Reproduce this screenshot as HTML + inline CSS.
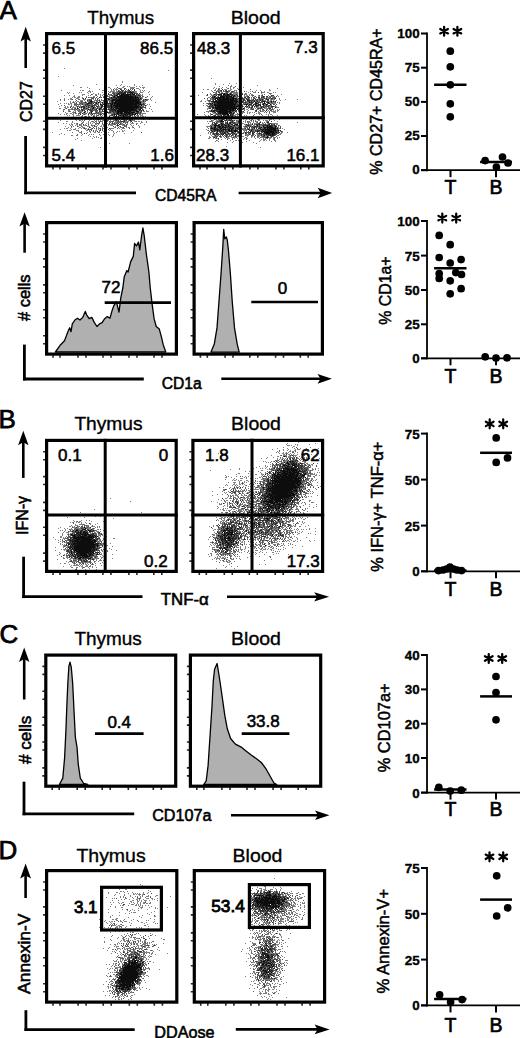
<!DOCTYPE html>
<html><head><meta charset="utf-8"><style>
html,body{margin:0;padding:0;background:#fff;}
svg{display:block;font-family:"Liberation Sans", sans-serif;}
</style></head><body>
<svg width="520" height="1038" viewBox="0 0 520 1038">
<defs><filter id="bl" x="-5%" y="-5%" width="110%" height="110%"><feGaussianBlur stdDeviation="0.45"/></filter></defs>
<rect width="520" height="1038" fill="#fff"/>
<text x="-0.4" y="18.6" font-size="26" stroke="#000" stroke-width="0.75">A</text>
<text x="-1.6" y="427.8" font-size="26" stroke="#000" stroke-width="0.75">B</text>
<text x="-0.4" y="643.3" font-size="26" stroke="#000" stroke-width="0.75">C</text>
<text x="-1.6" y="858.5" font-size="26" stroke="#000" stroke-width="0.75">D</text>
<text x="87.3" y="23.5" font-size="18.7" textLength="66.9" lengthAdjust="spacingAndGlyphs" stroke="#000" stroke-width="0.35">Thymus</text>
<text x="230.7" y="23.6" font-size="18.7" textLength="50" lengthAdjust="spacingAndGlyphs" stroke="#000" stroke-width="0.35">Blood</text>
<text x="74.4" y="430" font-size="18.7" textLength="68.2" lengthAdjust="spacingAndGlyphs" stroke="#000" stroke-width="0.35">Thymus</text>
<text x="231.1" y="430" font-size="18.7" textLength="49.8" lengthAdjust="spacingAndGlyphs" stroke="#000" stroke-width="0.35">Blood</text>
<text x="74.4" y="645" font-size="18.7" textLength="67.4" lengthAdjust="spacingAndGlyphs" stroke="#000" stroke-width="0.35">Thymus</text>
<text x="231.1" y="645" font-size="18.7" textLength="49.8" lengthAdjust="spacingAndGlyphs" stroke="#000" stroke-width="0.35">Blood</text>
<text x="76.4" y="862.3" font-size="18.7" textLength="69.3" lengthAdjust="spacingAndGlyphs" stroke="#000" stroke-width="0.35">Thymus</text>
<text x="232.6" y="862.3" font-size="18.7" textLength="49.8" lengthAdjust="spacingAndGlyphs" stroke="#000" stroke-width="0.35">Blood</text>
<path d="M64 68.5h1m103 2h1m-111 6h1m63 5h1m-1 1h1m-27 2h1m24 0h1m12 0h1m-62 1h1m42 0h1m3 0h1m13 0h1m7 0h1m-20 1h1h1m2 0h1m1 0h1m6 0h1m2 0h1m-60 1h1h1m5 0h1m20 0h1h1m12 0h1h1m6 0h1h1h1h1h1m5 0h1m1 0h1h1h1m-56 1h1m20 0h1m3 0h1m1 0h1m1 0h1m1 0h1h1m8 0h1h1h1m3 0h1h1h1m4 0h1m-45 1h1m11 0h1m3 0h1h1h1m8 0h1m12 0h1m-79 1h1m18 0h1m1 0h1h1m5 0h1m12 0h1h1m7 0h1m1 0h1h1m1 0h1m2 0h1m7 0h1m3 0h1m8 0h1m1 0h1m1 0h1m-57 1h1h1h1m1 0h1m15 0h1m1 0h1h1h1h1h1m1 0h1h1m3 0h1m1 0h1h1m2 0h1m3 0h1m2 0h1h1h1m3 0h1m2 0h1m5 0h1m-83 1h1m1 0h1m9 0h1m1 0h1m5 0h1m2 0h1m11 0h1m6 0h1h1m1 0h1m1 0h1h1h1m1 0h1m7 0h1m8 0h1h1m3 0h1h1h1m5 0h1m-81 1h1m4 0h1m14 0h1m4 0h1m4 0h1m16 0h1m12 0h1h1m3 0h1m-52 1h1h1h1m7 0h1m2 0h1h1m1 0h1m1 0h1m2 0h1m2 0h1m2 0h1h1m4 0h1m4 0h1m18 0h1h1m1 0h1m6 0h1m-86 1h1m4 0h1m4 0h1m7 0h1m5 0h1m1 0h1m4 0h1m4 0h1m1 0h1m2 0h1m3 0h1h1m2 0h1m26 0h1h1h1m-70 1h1h1m3 0h1h1m6 0h1m6 0h1h1m2 0h1m2 0h1m2 0h1m2 0h1m1 0h1h1m2 0h1m3 0h1m21 0h1m4 0h1m8 0h1m-81 1h1m1 0h1h1m1 0h1h1h1m2 0h1m6 0h1h1m1 0h1m1 0h1m5 0h1m5 0h1m34 0h1h1m3 0h1m4 0h1m-88 1h1m5 0h1h1m4 0h1h1h1m12 0h1m5 0h1h1m5 0h1m34 0h1m2 0h1m7 0h1m-91 1h1m3 0h1m3 0h1m1 0h1h1m3 0h1m2 0h1m5 0h1h1m1 0h1h1m4 0h1m1 0h1m3 0h1m1 0h1m3 0h1h1h1m2 0h1m33 0h1m3 0h1m1 0h1m-91 1h1m19 0h1h1h1m1 0h1m3 0h1m5 0h1h1m1 0h1h1m3 0h1m1 0h1m3 0h1h1m30 0h1m1 0h1m1 0h1h1m1 0h1m3 0h1m-95 1h1m12 0h1m2 0h1m1 0h1m1 0h1h1m1 0h1m4 0h1m1 0h1h1m4 0h1h1m1 0h1m6 0h1h1h1m4 0h1m3 0h1m27 0h1m1 0h1m-75 1h1m1 0h1m1 0h1m5 0h1m1 0h1h1m9 0h1m3 0h1m2 0h1h1m1 0h1m6 0h1m30 0h1h1h1h1m10 0h1m-96 1h1m3 0h1m1 0h1m1 0h1m1 0h1h1m2 0h1h1m3 0h1m3 0h1h1h1m6 0h1m4 0h1m5 0h1m37 0h1h1m1 0h1h1m-88 1h1m9 0h1h1m1 0h1m4 0h1m1 0h1m1 0h1h1m1 0h1h1m4 0h1h1m5 0h1m1 0h1m3 0h1m3 0h1m2 0h1m37 0h1m1 0h1m-89 1h1m9 0h1m2 0h1h1m2 0h1m1 0h1m2 0h1h1m1 0h1m9 0h1m3 0h1m3 0h1h1h1m33 0h1m1 0h1h1h1m1 0h1m-88 1h1m5 0h1m1 0h1m2 0h1m2 0h1m2 0h1m1 0h1h1h1m4 0h1m1 0h1m1 0h1h1m2 0h1m5 0h1h1m2 0h1m1 0h1m35 0h1m3 0h1m4 0h1m-87 1h1h1m1 0h1h1m3 0h1h1h1h1m4 0h1m1 0h1m2 0h1h1h1m2 0h1m7 0h1h1h1m1 0h1m2 0h1m-47 1h1h1m4 0h1m5 0h1h1m1 0h1m6 0h1m6 0h1m2 0h1m2 0h1h1m2 0h1m10 0h1m4 0h1m27 0h1m2 0h1m3 0h1m-87 1h1m5 0h1h1h1m1 0h1m1 0h1m1 0h1h1m5 0h1h1h1h1m5 0h1m4 0h1m5 0h1h1h1h1m29 0h1m5 0h1m7 0h1m-89 1h1m4 0h1h1m4 0h1h1m1 0h1h1m1 0h1h1m1 0h1m5 0h1m4 0h1m5 0h1m4 0h1m32 0h1m3 0h1m3 0h1m-79 1h1m1 0h1m2 0h1m1 0h1m3 0h1h1h1h1m1 0h1m2 0h1m9 0h1m2 0h1h1m5 0h1m31 0h1h1m2 0h1h1m1 0h1h1h1m3 0h1m-88 1h1m6 0h1h1m5 0h1m1 0h1m1 0h1m1 0h1m1 0h1m2 0h1m4 0h1m1 0h1m1 0h1m1 0h1m2 0h1m1 0h1m4 0h1h1m10 0h1m11 0h1m3 0h1m1 0h1m-84 1h1m7 0h1h1m2 0h1h1m1 0h1m2 0h1m6 0h1h1h1m2 0h1m1 0h1m1 0h1m3 0h1m2 0h1m1 0h1m1 0h1m1 0h1h1m1 0h1h1h1h1h1m2 0h1m18 0h1m6 0h1h1h1h1h1m-86 1h1m3 0h1m1 0h1m5 0h1h1m4 0h1m4 0h1m1 0h1m4 0h1h1m2 0h1m1 0h1m1 0h1h1m3 0h1m1 0h1h1m32 0h1m2 0h1m-76 1h1m1 0h1m3 0h1m2 0h1h1h1h1m8 0h1m4 0h1h1m1 0h1m5 0h1m1 0h1m4 0h1m3 0h1m14 0h1m7 0h1h1m2 0h1h1h1m-70 1h1m7 0h1h1m1 0h1m1 0h1m1 0h1h1m11 0h1m15 0h1m1 0h1m12 0h1m1 0h1m2 0h1h1m1 0h1m1 0h1h1m1 0h1m-78 1h1m4 0h1m6 0h1m3 0h1m1 0h1h1h1m1 0h1h1m2 0h1m3 0h1m2 0h1m7 0h1m3 0h1h1m1 0h1m1 0h1h1m6 0h1m10 0h1m1 0h1m3 0h1m-68 1h1m3 0h1m4 0h1m6 0h1m5 0h1m1 0h1m3 0h1m4 0h1m1 0h1m11 0h1m7 0h1m1 0h1m2 0h1m1 0h1m1 0h1m-66 1h1m5 0h1m3 0h1h1m1 0h1m1 0h1h1m3 0h1h1h1m1 0h1m8 0h1m1 0h1m5 0h1m6 0h1m1 0h1h1m4 0h1h1m1 0h1m8 0h1m5 0h1m-90 1h1m15 0h1m3 0h1m1 0h1m6 0h1m4 0h1m1 0h1m1 0h1m1 0h1m1 0h1h1m1 0h1m2 0h1m1 0h1m2 0h1h1m2 0h1m5 0h1m1 0h1m2 0h1m3 0h1h1h1m-69 1h1h1m4 0h1m8 0h1m1 0h1m4 0h1m2 0h1m1 0h1m2 0h1m1 0h1h1m1 0h1h1m7 0h1m4 0h1h1m2 0h1m5 0h1h1h1h1m1 0h1m3 0h1h1m2 0h1h1m1 0h1m4 0h1m-89 1h1m13 0h1m9 0h1h1m4 0h1m1 0h1m2 0h1h1m1 0h1m5 0h1m1 0h1m1 0h1m2 0h1m4 0h1h1h1m1 0h1m1 0h1h1m2 0h1h1h1m3 0h1m10 0h1h1m3 0h1m-84 1h1m2 0h1m4 0h1m2 0h1m1 0h1m5 0h1m3 0h1m1 0h1m1 0h1m1 0h1m3 0h1m2 0h1m4 0h1m2 0h1m3 0h1m1 0h1m1 0h1m1 0h1m3 0h1h1m4 0h1m3 0h1h1h1m2 0h1h1m2 0h1m-72 1h1m1 0h1h1m3 0h1h1m2 0h1h1m3 0h1m5 0h1m3 0h1h1m1 0h1m3 0h1h1m2 0h1m1 0h1m1 0h1h1h1h1m7 0h1h1m1 0h1m2 0h1m16 0h1m-75 1h1m1 0h1m2 0h1m1 0h1m1 0h1h1h1m1 0h1h1h1m2 0h1m3 0h1h1m3 0h1m3 0h1m1 0h1m2 0h1m1 0h1m1 0h1h1h1m3 0h1m5 0h1h1m1 0h1m5 0h1m1 0h1m4 0h1m-74 1h1m7 0h1m4 0h1m2 0h1h1m4 0h1h1h1m2 0h1m2 0h1m4 0h1h1m1 0h1h1h1m9 0h1m1 0h1m1 0h1m5 0h1m6 0h1m6 0h1m-72 1h1m2 0h1m7 0h1h1m1 0h1h1h1m5 0h1m5 0h1m1 0h1m3 0h1m1 0h1m1 0h1h1m6 0h1m5 0h1h1h1m3 0h1m1 0h1h1m2 0h1m6 0h1m-76 1h1m1 0h1h1m2 0h1m4 0h1m2 0h1m2 0h1m1 0h1m1 0h1h1m1 0h1m2 0h1m6 0h1h1m3 0h1m6 0h1h1h1h1m5 0h1m2 0h1h1h1m9 0h1m-75 1h1m10 0h1m1 0h1h1h1m9 0h1m1 0h1m1 0h1m6 0h1m1 0h1m5 0h1m5 0h1m10 0h1m-55 1h1m1 0h1h1m5 0h1h1h1m7 0h1h1m1 0h1m5 0h1h1m2 0h1m4 0h1h1m3 0h1m1 0h1h1m9 0h1m1 0h1m8 0h1m-56 1h1m10 0h1h1m4 0h1m3 0h1m3 0h1m9 0h1m3 0h1m1 0h1m2 0h1h1m-72 1h1m19 0h1m6 0h1h1h1m5 0h1m2 0h1m3 0h1h1m3 0h1m1 0h1m6 0h1m4 0h1m2 0h1m14 0h1m-71 1h1m19 0h1m22 0h1m9 0h1m9 0h1m-66 1h1m4 0h1m17 0h1m6 0h1m1 0h1m1 0h1m9 0h1m4 0h1m4 0h1m-43 1h1h1m3 0h1h1m3 0h1m6 0h1m11 0h1m8 0h1m3 0h1m-24 1h1m2 0h1m2 0h1m9 0h1m5 0h1m-19 1h1m1 0h1m1 0h1m2 0h1m-25 1h1m14 0h1m7 0h1h1m-27 1h1m5 1h1m27 3h1m19 0h1m-30 4h1" stroke="#000" stroke-opacity="0.5" stroke-width="1" fill="none" filter="url(#bl)"/>
<path d="M117 87.5h1m1 1h1m4 0h1h1m7 0h1m-21 1h1m7 0h1m2 0h1m3 0h1m1 0h1m1 0h1m-15 1h1m3 0h1h1m1 0h1m-7 1h1h1m7 0h1h1m2 0h1h1m-30 1h1m8 0h1m3 0h1m4 0h1h1m10 0h1m-27 1h1m3 0h1h1m2 0h1h1m17 0h1h1h1m1 0h1m-49 1h1m12 0h1h1m5 0h1m1 0h1h1m1 0h1m14 0h1m5 0h1h1m-43 1h1m10 0h1m3 0h1m17 0h1m2 0h1m3 0h1h1m-34 1h1m2 0h1m7 0h1m20 0h1m2 0h1m2 0h1m4 0h1m-62 1h1m1 0h1m2 0h1m1 0h1m2 0h1m4 0h1m1 0h1m5 0h1h1m1 0h1m26 0h1h1m4 0h1m-64 1h1h1m9 0h1m1 0h1m10 0h1m2 0h1h1m2 0h1h1m2 0h1m23 0h1m-70 1h1m6 0h1m3 0h1m5 0h1h1h1m19 0h1m28 0h1h1m1 0h1m2 0h1h1m-84 1h1m11 0h1m13 0h1m5 0h1m4 0h1m1 0h1m3 0h1m38 0h1m-66 1h1h1m6 0h1m7 0h1m1 0h1h1m12 0h1m26 0h1h1m3 0h1m-73 1h1m2 0h1m2 0h1m1 0h1m2 0h1m1 0h1m1 0h1m3 0h1m2 0h1m3 0h1m5 0h1m3 0h1m-34 1h1m3 0h1h1h1m3 0h1m8 0h1m2 0h1m1 0h1m1 0h1m1 0h1m-31 1h1h1m1 0h1m1 0h1m5 0h1m2 0h1m2 0h1h1m2 0h1m1 0h1m9 0h1h1m4 0h1m28 0h1m1 0h1m-81 1h1m11 0h1m10 0h1m2 0h1h1h1m1 0h1h1m11 0h1m1 0h1m2 0h1m26 0h1m-69 1h1m9 0h1m6 0h1m5 0h1m3 0h1m8 0h1m34 0h1h1m-67 1h1m13 0h1h1m1 0h1h1m1 0h1m9 0h1h1m1 0h1m28 0h1m2 0h1h1h1m-79 1h1m11 0h1m6 0h1m1 0h1m2 0h1m5 0h1m4 0h1m1 0h1m1 0h1m2 0h1m3 0h1m26 0h1m-76 1h1m3 0h1m3 0h1m1 0h1m1 0h1m2 0h1m2 0h1h1m5 0h1m1 0h1m2 0h1h1m4 0h1h1h1h1m13 0h1m-39 1h1m11 0h1h1h1m1 0h1h1m2 0h1m4 0h1m1 0h1m2 0h1m6 0h1m20 0h1m2 0h1m-78 1h1m5 0h1m8 0h1m11 0h1m4 0h1h1m5 0h1h1m5 0h1m1 0h1m2 0h1m17 0h1m2 0h1m-62 1h1h1m4 0h1m8 0h1m8 0h1m1 0h1m4 0h1m2 0h1m5 0h1h1m20 0h1m-62 1h1m2 0h1h1h1m5 0h1m2 0h1m3 0h1h1h1m1 0h1h1m1 0h1m1 0h1m10 0h1m19 0h1m4 0h1h1h1m-57 1h1m16 0h1m9 0h1m1 0h1m3 0h1m1 0h1h1m19 0h1m-59 1h1m8 0h1m5 0h1h1m1 0h1m4 0h1m4 0h1h1m6 0h1m5 0h1m6 0h1h1m5 0h1m-45 1h1m1 0h1m16 0h1m6 0h1h1h1m2 0h1m4 0h1m4 0h1m-55 1h1m1 0h1m20 0h1m6 0h1h1m8 0h1m1 0h1m1 0h1m2 0h1m4 0h1m-46 1h1m1 0h1m14 0h1m2 0h1m4 0h1h1m1 0h1m1 0h1m5 0h1m2 0h1m1 0h1m5 0h1m-43 1h1m4 0h1m6 0h1m11 0h1m1 0h1m1 0h1m5 0h1m-49 1h1m4 0h1m22 0h1m7 0h1m4 0h1m5 0h1m2 0h1m1 0h1m-40 1h1m2 0h1m4 0h1m6 0h1m1 0h1m1 0h1h1h1m3 0h1h1m1 0h1m2 0h1m12 0h1m-27 1h1m1 0h1m4 0h1m1 0h1m12 0h1m-56 1h1m3 0h1m13 0h1m1 0h1h1m3 0h1m11 0h1m1 0h1m8 0h1m-47 1h1m8 0h1m16 0h1m3 0h1m4 0h1h1m4 0h1m2 0h1m2 0h1m3 0h1m5 0h1m-51 1h1m4 0h1m32 0h1m1 0h1m-56 1h1m5 0h1m16 0h1m1 0h1m9 0h1m6 0h1m6 0h1m3 0h1m1 0h1m-34 1h1m11 0h1m9 0h1m2 0h1m14 0h1m-40 1h1m1 0h1m3 0h1m1 0h1m14 0h1m11 0h1m-40 1h1h1m8 0h1m1 0h1m5 0h1m-18 1h1m1 0h1m8 0h1m-22 1h1m11 0h1m4 1h1m42 0h1m-56 1h1m-10 1h1m21 0h1" stroke="#000" stroke-opacity="0.68" stroke-width="1" fill="none" filter="url(#bl)"/>
<path d="M120 89.5h1m13 0h1m-14 1h1m6 0h1h1m4 0h1m-17 1h1m6 0h1h1m-8 1h1h1m4 0h1m1 0h1h1m1 0h1m1 0h1h1m-20 1h1m4 0h1h1h1h1m1 0h1m2 0h1m2 0h1h1m2 0h1m-27 1h1m9 0h1h1m5 0h1m10 0h1m-31 1h1m5 0h1m1 0h1h1m1 0h1m1 0h1m11 0h1m1 0h1h1h1m2 0h1h1m-27 1h1m19 0h1h1m2 0h1m2 0h1m-42 1h1m13 0h1m1 0h1h1m2 0h1m18 0h1m-54 1h1m6 0h1m14 0h1h1m2 0h1h1m2 0h1m2 0h1m13 0h1m1 0h1m1 0h1h1m-41 1h1m6 0h1m4 0h1m2 0h1m3 0h1m22 0h1m-53 1h1m1 0h1m9 0h1m6 0h1m3 0h1h1m3 0h1m21 0h1m1 0h1m3 0h1m-54 1h1m1 0h1m13 0h1h1m1 0h1m1 0h1m27 0h1m3 0h1m-59 1h1m3 0h1h1h1m2 0h1m1 0h1m9 0h1h1m3 0h1m1 0h1m3 0h1m16 0h1m-48 1h1m1 0h1h1h1m1 0h1m12 0h1h1h1h1m1 0h1m1 0h1m25 0h1m3 0h1m-62 1h1m3 0h1h1m6 0h1m6 0h1m2 0h1m5 0h1m4 0h1m21 0h1h1m4 0h1m-59 1h1m2 0h1h1m3 0h1m4 0h1m2 0h1m6 0h1m1 0h1m22 0h1m3 0h1m7 0h1m-69 1h1m4 0h1h1h1m1 0h1m4 0h1m4 0h1h1m3 0h1h1m3 0h1m1 0h1h1h1m1 0h1h1h1m23 0h1m1 0h1m-71 1h1m8 0h1m3 0h1h1m3 0h1h1m16 0h1m2 0h1m2 0h1h1m1 0h1m2 0h1m22 0h1m3 0h1m-71 1h1m7 0h1h1m1 0h1m5 0h1m4 0h1m1 0h1m4 0h1m1 0h1m3 0h1m24 0h1m1 0h1h1m1 0h1m-60 1h1m8 0h1m1 0h1m3 0h1m11 0h1h1h1h1m1 0h1m1 0h1h1m19 0h1m1 0h1m3 0h1m-59 1h1m2 0h1m2 0h1m6 0h1m4 0h1m7 0h1h1h1h1h1m19 0h1m4 0h1m1 0h1m1 0h1m-59 1h1m5 0h1h1m6 0h1m5 0h1h1m3 0h1m1 0h1h1m1 0h1h1m11 0h1m2 0h1m1 0h1h1m6 0h1m-46 1h1m12 0h1h1m2 0h1m2 0h1m2 0h1m2 0h1m7 0h1m6 0h1h1m1 0h1m-59 1h1m8 0h1m22 0h1m1 0h1m2 0h1m3 0h1h1h1m1 0h1m3 0h1m5 0h1m-58 1h1m7 0h1m3 0h1m7 0h1m11 0h1m2 0h1h1m4 0h1h1h1m2 0h1m1 0h1h1h1h1m1 0h1m3 0h1m-32 1h1m5 0h1m1 0h1m4 0h1m1 0h1h1m3 0h1h1m1 0h1m4 0h1m-50 1h1m7 0h1m15 0h1m4 0h1h1h1m9 0h1h1h1h1m-31 1h1m22 0h1m1 0h1m2 0h1m1 0h1h1m3 0h1h1m-40 1h1m15 0h1m7 0h1h1h1m2 0h1h1m3 0h1m1 0h1m-18 1h1m6 0h1m1 0h1m4 0h1h1m-15 1h1m1 0h1m5 0h1m-4 1h1h1m1 0h1m6 0h1m-33 1h1m23 0h1m3 0h1m-19 1h1m2 0h1m5 0h1m1 0h1m-38 1h1m33 0h1m1 0h1m-26 1h1m22 0h1h1m-30 2h1m33 0h1m-40 1h1m7 0h1m12 0h1m3 0h1m-22 1h1m11 1h1m-4 1h1m-14 2h1" stroke="#000" stroke-opacity="0.82" stroke-width="1" fill="none" filter="url(#bl)"/>
<path d="M122 91.5h1m7 0h1m-10 1h1m2 0h1m4 0h1m1 0h1m-14 1h1m4 0h1m1 0h1m6 0h1m-16 1h1m3 0h1h1h1h1m1 0h1h1h1h1h1m1 0h1h1h1m-19 1h1m3 0h1h1h1h1h1h1h1h1h1m1 0h1m-17 1h1m2 0h1h1h1h1h1h1h1h1h1h1h1h1h1h1h1h1m2 0h1m-25 1h1m2 0h1m2 0h1h1m1 0h1h1h1h1h1h1h1h1h1h1h1h1h1h1h1h1h1h1m-22 1h1m2 0h1h1h1h1h1h1h1h1h1h1h1h1h1m1 0h1m1 0h1m2 0h1m1 0h1m-33 1h1m4 0h1h1h1m1 0h1h1h1h1h1h1h1h1h1h1h1h1h1h1h1h1h1h1h1h1h1h1m6 0h1m-55 1h1m20 0h1h1h1m1 0h1h1h1h1h1h1h1h1h1h1h1h1h1h1h1h1h1h1h1h1h1m1 0h1m-48 1h1m20 0h1m2 0h1h1h1h1h1h1h1h1h1h1h1h1h1h1h1h1h1h1h1h1h1h1h1h1m-41 1h1m3 0h1m9 0h1m1 0h1h1h1m1 0h1h1h1h1h1h1h1h1h1h1h1h1h1h1h1h1m1 0h1h1h1h1h1h1m-53 1h1m7 0h1m8 0h1m4 0h1m1 0h1m1 0h1h1h1h1h1h1h1h1h1h1h1h1h1h1h1h1h1h1h1h1h1h1h1h1h1m1 0h1m-41 1h1m2 0h1m1 0h1m5 0h1h1m1 0h1m1 0h1h1h1h1h1h1h1h1h1h1h1h1h1h1h1h1h1h1h1h1h1m2 0h1h1h1m-40 1h1m8 0h1m1 0h1h1h1h1h1h1h1h1h1h1h1h1h1h1h1h1h1h1h1h1m1 0h1h1h1m1 0h1m2 0h1m-50 1h1m18 0h1m3 0h1h1h1h1h1h1h1h1h1h1h1h1h1h1h1h1h1h1h1h1h1h1h1m1 0h1m-59 1h1m11 0h1m7 0h1m9 0h1m2 0h1m1 0h1h1m1 0h1h1h1h1h1h1h1h1h1h1h1h1h1h1h1h1h1h1h1h1m1 0h1m-64 1h1m15 0h1m6 0h1m10 0h1m1 0h1m1 0h1h1h1h1h1h1h1h1h1h1h1h1h1h1h1h1h1h1h1h1m1 0h1m4 0h1m-54 1h1m10 0h1m12 0h1m1 0h1m3 0h1h1h1h1h1h1h1h1h1h1h1h1h1h1h1h1h1h1m3 0h1h1m-59 1h1m32 0h1m1 0h1h1h1h1h1h1h1h1h1h1h1h1h1h1h1h1h1m1 0h1h1m-20 1h1h1h1h1h1h1h1h1h1h1h1m1 0h1h1m5 0h1h1h1m-55 1h1m6 0h1m15 0h1m9 0h1h1m1 0h1h1m2 0h1h1h1h1h1h1m1 0h1h1h1h1m-18 1h1h1m1 0h1h1h1m3 0h1m1 0h1h1h1m1 0h1m2 0h1h1m-23 1h1m3 0h1m5 0h1h1m1 0h1m4 0h1m1 0h1h1m-20 1h1m3 0h1m2 0h1m1 0h1m4 0h1m-13 1h1m4 0h1h1m5 4h1" stroke="#000" stroke-opacity="0.95" stroke-width="1" fill="none" filter="url(#bl)"/>
<path d="M211 78.5h1m3 5h1m13 0h1m6 0h1m-22 1h1m7 0h1m4 1h1m2 0h1m25 0h1m-39 1h1m10 0h1h1m-18 1h1m7 0h1m3 0h1m3 0h1m2 0h1h1m4 0h1h1m2 0h1m-31 1h1m2 0h1m1 0h1h1m1 0h1m5 0h1m2 0h1m2 0h1m3 0h1m39 0h1m-75 1h1m3 0h1h1m6 0h1m3 0h1m4 0h1h1h1m3 0h1h1m37 0h1m-59 1h1m2 0h1h1m1 0h1h1h1m8 0h1h1h1m3 0h1h1h1m3 0h1m15 0h1m3 0h1m8 0h1h1m-59 1h1m4 0h1m1 0h1h1m3 0h1m9 0h1m1 0h1m2 0h1h1m5 0h1m3 0h1m4 0h1m5 0h1m2 0h1m-63 1h1m11 0h1h1m5 0h1h1m2 0h1m2 0h1m1 0h1m2 0h1h1h1m1 0h1m2 0h1h1m6 0h1m4 0h1h1h1m6 0h1h1h1m2 0h1h1m4 0h1m1 0h1m-66 1h1m4 0h1m3 0h1h1m12 0h1h1h1h1h1m2 0h1m5 0h1m14 0h1m9 0h1m-62 1h1h1m1 0h1m19 0h1h1h1m1 0h1m2 0h1m4 0h1h1m2 0h1m1 0h1h1m9 0h1m7 0h1m10 0h1m-84 1h1m7 0h1m4 0h1h1m1 0h1h1m6 0h1m7 0h1m5 0h1m3 0h1m3 0h1m1 0h1h1m1 0h1m1 0h1m6 0h1m9 0h1m8 0h1m-61 1h1m14 0h1m3 0h1m1 0h1h1h1h1m2 0h1h1h1m5 0h1m1 0h1m3 0h1h1m1 0h1m8 0h1m1 0h1h1h1m3 0h1m-71 1h1h1m24 0h1h1m1 0h1m13 0h1m2 0h1m9 0h1m2 0h1h1h1m2 0h1m2 0h1m-65 1h1m25 0h1m2 0h1h1m2 0h1h1m1 0h1m1 0h1m1 0h1m1 0h1m1 0h1m2 0h1m1 0h1m1 0h1h1m1 0h1m1 0h1h1m1 0h1m2 0h1m5 0h1m-73 1h1m2 0h1h1m26 0h1h1m2 0h1m8 0h1h1m3 0h1m1 0h1m6 0h1m4 0h1m1 0h1h1m5 0h1m5 0h1m11 0h1m-97 1h1m5 0h1m4 0h1m25 0h1m3 0h1m12 0h1m2 0h1m2 0h1m1 0h1h1h1m4 0h1h1m1 0h1m6 0h1m-81 1h1h1m3 0h1m2 0h1m1 0h1m29 0h1m5 0h1m3 0h1m1 0h1m2 0h1m2 0h1m7 0h1m1 0h1h1m2 0h1m1 0h1m-66 1h1m1 0h1m28 0h1m6 0h1h1m8 0h1m3 0h1m7 0h1h1m1 0h1h1h1m2 0h1m1 0h1m-77 1h1m2 0h1m6 0h1m24 0h1h1h1m3 0h1m1 0h1m2 0h1h1m3 0h1m5 0h1m1 0h1m7 0h1h1m1 0h1h1h1m3 0h1m-71 1h1m32 0h1h1m4 0h1m8 0h1m6 0h1m6 0h1m-69 1h1m2 0h1h1m1 0h1m30 0h1m9 0h1m14 0h1m1 0h1m2 0h1m-64 1h1m6 0h1m25 0h1h1m1 0h1m4 0h1m2 0h1m3 0h1m2 0h1m5 0h1m4 0h1h1m3 0h1h1h1m-69 1h1m2 0h1m25 0h1m2 0h1h1h1m4 0h1h1m1 0h1m3 0h1m2 0h1h1h1h1m1 0h1m2 0h1h1m2 0h1h1m5 0h1h1h1m-72 1h1h1m5 0h1m26 0h1h1m5 0h1m1 0h1m1 0h1h1m1 0h1m6 0h1m1 0h1h1h1h1h1m5 0h1m-68 1h1m3 0h1m27 0h1m3 0h1h1m1 0h1h1m2 0h1m5 0h1h1h1m1 0h1m5 0h1m3 0h1m2 0h1m3 0h1m1 0h1m-71 1h1h1m37 0h1m10 0h1m2 0h1h1m4 0h1m4 0h1m1 0h1m1 0h1h1m-73 1h1h1h1h1m5 0h1m18 0h1m3 0h1h1h1h1h1m4 0h1m10 0h1m2 0h1h1h1m3 0h1m3 0h1h1h1h1h1m1 0h1m-74 1h1m3 0h1m3 0h1h1m18 0h1m3 0h1m3 0h1m1 0h1h1h1m2 0h1m1 0h1h1m1 0h1m1 0h1m3 0h1h1m4 0h1m8 0h1h1h1m-63 1h1h1h1m1 0h1m10 0h1m5 0h1m7 0h1m4 0h1m1 0h1m6 0h1m1 0h1h1h1m8 0h1m-73 1h1m6 0h1m5 0h1m4 0h1m19 0h1h1h1m1 0h1h1m13 0h1m4 0h1m6 0h1m1 0h1m1 0h1h1m-67 1h1m2 0h1m1 0h1m2 0h1m3 0h1m1 0h1m6 0h1m2 0h1m4 0h1h1m1 0h1m6 0h1m1 0h1m15 0h1m5 0h1m3 0h1m4 0h1m-72 1h1m1 0h1m4 0h1m1 0h1h1m3 0h1m3 0h1m4 0h1h1m4 0h1m1 0h1m14 0h1m7 0h1m7 0h1m1 0h1m-65 1h1m1 0h1m11 0h1h1m1 0h1m5 0h1m1 0h1m4 0h1m4 0h1m2 0h1m5 0h1m11 0h1m2 0h1m-52 1h1m9 0h1m1 0h1m2 0h1m4 0h1m14 0h1h1h1m3 0h1m6 0h1m1 0h1m7 0h1m-63 1h1m4 0h1h1m2 0h1h1m3 0h1m2 0h1h1m1 0h1m12 0h1m2 0h1m2 0h1m1 0h1h1m4 0h1m1 0h1m9 0h1h1h1m1 0h1m5 0h1m-68 1h1h1m2 0h1h1h1m8 0h1m5 0h1m3 0h1h1m6 0h1m4 0h1m4 0h1m2 0h1h1m3 0h1m1 0h1h1h1m6 0h1m-68 1h1m1 0h1m1 0h1h1m2 0h1h1m8 0h1m4 0h1m2 0h1m2 0h1h1m5 0h1m1 0h1m2 0h1h1m1 0h1m1 0h1m2 0h1h1m2 0h1m5 0h1m10 0h1m-65 1h1m3 0h1h1h1m3 0h1m11 0h1h1h1m1 0h1m5 0h1m1 0h1h1h1h1m2 0h1m2 0h1m2 0h1m2 0h1m3 0h1m30 0h1m-90 1h1m19 0h1m2 0h1h1m3 0h1m1 0h1m3 0h1h1m6 0h1m3 0h1h1h1h1m4 0h1h1m1 0h1m1 0h1m4 0h1h1h1h1h1h1m-67 1h1m18 0h1m10 0h1m2 0h1h1m1 0h1m1 0h1h1h1m3 0h1m6 0h1m3 0h1h1m4 0h1m3 0h1h1m-67 1h1m1 0h1m6 0h1m10 0h1m3 0h1m3 0h1h1m4 0h1h1m4 0h1m1 0h1h1m3 0h1m1 0h1h1m14 0h1m2 0h1m-74 1h1h1h1m1 0h1m1 0h1h1m2 0h1m7 0h1m11 0h1h1m1 0h1h1m2 0h1h1m2 0h1m1 0h1m1 0h1m1 0h1m6 0h1h1h1m2 0h1m7 0h1m4 0h1m-72 1h1m8 0h1m17 0h1m4 0h1m1 0h1m2 0h1h1h1m8 0h1m1 0h1h1m3 0h1m13 0h1m1 0h1m-61 1h1m5 0h1m1 0h1m7 0h1m7 0h1h1h1m3 0h1m2 0h1m1 0h1m7 0h1m16 0h1h1m2 0h1m-77 1h1m23 0h1m3 0h1m1 0h1m2 0h1m2 0h1h1m1 0h1h1m3 0h1m3 0h1h1h1m1 0h1h1m24 0h1m-78 1h1m2 0h1m13 0h1m15 0h1m2 0h1h1h1m6 0h1m1 0h1m24 0h1m-65 1h1h1m7 0h1m19 0h1m1 0h1m7 0h1m5 0h1m19 0h1m1 0h1m-75 1h1m3 0h1m6 0h1m1 0h1m4 0h1m1 0h1m5 0h1m5 0h1m2 0h1h1m18 0h1m17 0h1h1m4 0h1m-80 1h1m1 0h1m1 0h1m13 0h1h1m2 0h1m4 0h1h1h1h1m1 0h1m8 0h1h1m5 0h1h1m22 0h1h1m-72 1h1m1 0h1m2 0h1m2 0h1m1 0h1m13 0h1m6 0h1m3 0h1h1h1h1m1 0h1m3 0h1m3 0h1m1 0h1m18 0h1h1m-81 1h1m10 0h1m2 0h1m1 0h1h1m7 0h1m7 0h1m2 0h1h1m8 0h1h1h1m4 0h1m3 0h1m1 0h1h1m1 0h1m2 0h1m9 0h1m1 0h1h1m-70 1h1m2 0h1h1h1m6 0h1m5 0h1m1 0h1h1h1m1 0h1h1m1 0h1h1h1h1m2 0h1h1m3 0h1m3 0h1h1m5 0h1h1m1 0h1m3 0h1h1m1 0h1m1 0h1m2 0h1m-65 1h1h1m4 0h1m4 0h1h1m2 0h1m2 0h1h1m2 0h1m2 0h1h1m9 0h1h1m4 0h1m2 0h1m2 0h1h1m2 0h1h1h1m5 0h1h1m2 0h1h1h1m1 0h1m1 0h1m-72 1h1h1m3 0h1m1 0h1h1h1m7 0h1m1 0h1h1h1m2 0h1m1 0h1m2 0h1m6 0h1m1 0h1h1m7 0h1m3 0h1m5 0h1h1m2 0h1h1m2 0h1m3 0h1m-60 1h1m2 0h1m21 0h1m17 0h1m1 0h1h1h1m3 0h1m3 0h1m-57 1h1m12 0h1m4 0h1h1m1 0h1m10 0h1m10 0h1m2 0h1h1m1 0h1m2 0h1m4 0h1h1m-61 1h1m2 0h1m14 0h1m12 0h1m12 0h1m11 0h1m3 0h1m-49 1h1m4 0h1m9 0h1m10 0h1m2 1h1m-31 3h1m33 1h1" stroke="#000" stroke-opacity="0.5" stroke-width="1" fill="none" filter="url(#bl)"/>
<path d="M235 86.5h1m-8 2h1m-7 1h1m15 0h1m11 0h1m-31 1h1m2 0h1m1 0h1h1m-11 1h1m1 0h1m2 0h1m1 0h1m1 0h1m2 0h1h1m1 0h1h1h1m10 0h1m7 0h1m-40 1h1m2 0h1m1 0h1m7 0h1h1m3 0h1h1m3 0h1m21 0h1m2 0h1m-46 1h1m6 0h1m1 0h1m3 0h1m1 0h1m10 0h1m2 0h1m4 0h1m18 0h1h1m-56 1h1h1h1m26 0h1m19 0h1m-58 1h1m5 0h1m4 0h1h1m13 0h1m1 0h1m16 0h1h1m5 0h1m1 0h1h1m9 0h1m-63 1h1m2 0h1m4 0h1m16 0h1m1 0h1m9 0h1m7 0h1m6 0h1m1 0h1m1 0h1m2 0h1m1 0h1m4 0h1m-66 1h1m3 0h1m1 0h1m7 0h1m10 0h1m3 0h1m1 0h1m4 0h1h1m7 0h1m5 0h1m3 0h1m3 0h1m2 0h1h1m-71 1h1m2 0h1m2 0h1m1 0h1m1 0h1m28 0h1m4 0h1m12 0h1m7 0h1m4 0h1m-63 1h1h1h1m19 0h1m5 0h1h1m4 0h1m2 0h1m9 0h1m1 0h1m1 0h1m7 0h1m2 0h1m-67 1h1h1h1m6 0h1m19 0h1m3 0h1m2 0h1h1m5 0h1m1 0h1m3 0h1m1 0h1m7 0h1m8 0h1m-68 1h1m28 0h1m4 0h1m1 0h1m1 0h1m5 0h1m2 0h1m2 0h1m5 0h1m4 0h1m-59 1h1m24 0h1m1 0h1m3 0h1h1m1 0h1m6 0h1m5 0h1m2 0h1m3 0h1m8 0h1m-69 1h1h1m2 0h1m25 0h1m5 0h1m1 0h1m2 0h1m3 0h1m5 0h1m6 0h1m1 0h1m4 0h1m-65 1h1m3 0h1h1m22 0h1m1 0h1m1 0h1h1m14 0h1m8 0h1m7 0h1h1m1 0h1m-66 1h1m1 0h1m28 0h1m6 0h1m1 0h1h1m6 0h1m4 0h1m3 0h1m2 0h1m3 0h1m-68 1h1m1 0h1m2 0h1m32 0h1m2 0h1m7 0h1m2 0h1m1 0h1m2 0h1h1h1m-59 1h1h1m27 0h1m5 0h1m1 0h1m5 0h1m3 0h1m7 0h1m3 0h1m2 0h1h1m-36 1h1m1 0h1h1m3 0h1m12 0h1m1 0h1m1 0h1m10 0h1m-61 1h1m1 0h1h1m18 0h1m3 0h1m12 0h1h1m9 0h1m4 0h1m1 0h1m1 0h1h1m-61 1h1m5 0h1m9 0h1m6 0h1m2 0h1m1 0h1m3 0h1m10 0h1m4 0h1m3 0h1m5 0h1h1m-62 1h1m20 0h1m1 0h1m2 0h1m18 0h1h1m3 0h1m4 0h1m3 0h1m-56 1h1m2 0h1m15 0h1m32 0h1m2 0h1m-60 1h1m5 0h1m15 0h1m4 0h1m1 0h1m-24 1h1m1 0h1h1m1 0h1m11 0h1m4 0h1m22 0h1m-44 1h1m1 0h1m4 0h1m5 0h1m1 0h1m19 0h1m-45 1h1m7 0h1h1m2 0h1h1m3 0h1m1 0h1m11 0h1m-27 1h1m11 0h1h1m5 0h1m-24 1h1m11 0h1m2 0h1m6 0h1m5 0h1m2 0h1m-24 1h1m2 0h1m7 0h1m28 0h1m-48 1h1m7 0h1m4 0h1m3 0h1m2 0h1m4 0h1m14 0h1m1 0h1m15 0h1m-60 1h1m6 0h1h1h1m11 0h1m15 0h1m7 0h1m11 0h1h1m-57 1h1m7 0h1h1h1m2 0h1h1m2 0h1m1 0h1m1 0h1m4 0h1m18 0h1m6 0h1m-48 1h1m2 0h1m2 0h1m2 0h1m7 0h1h1m1 0h1m10 0h1m9 0h1m9 0h1h1m1 0h1m-60 1h1h1h1m1 0h1m3 0h1m4 0h1h1h1m1 0h1m4 0h1m13 0h1m5 0h1m3 0h1m1 0h1h1m1 0h1h1m8 0h1m-64 1h1m1 0h1m10 0h1m3 0h1m2 0h1m1 0h1m5 0h1m10 0h1h1m5 0h1m2 0h1m13 0h1m1 0h1m2 0h1m-70 1h1m11 0h1m10 0h1h1h1h1m2 0h1m6 0h1m2 0h1m7 0h1m1 0h1m5 0h1m9 0h1m5 0h1m-71 1h1m1 0h1h1m3 0h1m10 0h1m2 0h1m4 0h1h1m2 0h1m6 0h1m3 0h1h1m24 0h1m2 0h1m-73 1h1m13 0h1m4 0h1m10 0h1m1 0h1m6 0h1m1 0h1m2 0h1m9 0h1h1m2 0h1m13 0h1m-71 1h1h1h1m6 0h1m1 0h1m11 0h1m3 0h1h1m5 0h1m2 0h1m1 0h1m3 0h1m3 0h1m18 0h1h1h1m-71 1h1m3 0h1h1m4 0h1m1 0h1m5 0h1h1m13 0h1m4 0h1m3 0h1m2 0h1m2 0h1m3 0h1h1m-53 1h1m1 0h1m1 0h1m4 0h1m9 0h1m4 0h1m4 0h1m9 0h1m2 0h1m1 0h1m1 0h1h1m2 0h1m17 0h1m-68 1h1h1m1 0h1m3 0h1m5 0h1m7 0h1m3 0h1m1 0h1m8 0h1h1h1m4 0h1m3 0h1m1 0h1m1 0h1h1m14 0h1m-64 1h1h1m6 0h1m6 0h1m2 0h1h1m8 0h1h1m2 0h1m1 0h1m9 0h1m2 0h1m1 0h1m12 0h1h1h1m-66 1h1m11 0h1m1 0h1h1h1h1m2 0h1m19 0h1m3 0h1m1 0h1m2 0h1m1 0h1h1m10 0h1m-59 1h1m1 0h1m1 0h1m1 0h1m2 0h1m1 0h1m2 0h1m5 0h1m1 0h1m4 0h1m5 0h1h1m2 0h1m2 0h1m4 0h1m2 0h1h1m-53 1h1h1h1m1 0h1m3 0h1m1 0h1m2 0h1m25 0h1m2 0h1m4 0h1m1 0h1m7 0h1m3 0h1m-64 1h1m12 0h1m5 0h1h1m2 0h1m23 0h1m3 0h1h1m5 0h1m-9 1h1m3 0h1m6 0h1m-48 1h1m4 0h1m13 0h1m27 0h1m-59 1h1" stroke="#000" stroke-opacity="0.68" stroke-width="1" fill="none" filter="url(#bl)"/>
<path d="M218 89.5h1m7 2h1h1m-9 1h1m1 1h1h1m3 0h1h1m2 0h1m-24 1h1m12 0h1m4 0h1h1m2 0h1m1 0h1h1m3 0h1m5 0h1m-27 1h1m3 0h1m3 0h1m1 0h1m2 0h1m1 0h1h1m4 0h1m1 0h1m31 0h1m1 0h1m-62 1h1m2 0h1m9 0h1m2 0h1m5 0h1m13 0h1m14 0h1m3 0h1m-56 1h1h1m2 0h1m12 0h1h1m13 0h1h1m3 0h1m3 0h1m4 0h1h1m1 0h1m1 0h1m-51 1h1m4 0h1m2 0h1m7 0h1m1 0h1m4 0h1m1 0h1m3 0h1m3 0h1m7 0h1m4 0h1m4 0h1m1 0h1m4 0h1h1m2 0h1m-40 1h1m6 0h1h1m2 0h1h1m4 0h1m1 0h1m1 0h1m2 0h1m1 0h1m3 0h1h1h1m-56 1h1m1 0h1m2 0h1m10 0h1m5 0h1m3 0h1h1m2 0h1m4 0h1h1h1m1 0h1m1 0h1m1 0h1m3 0h1m1 0h1m5 0h1m-58 1h1h1m1 0h1m18 0h1m7 0h1h1m5 0h1h1m1 0h1m5 0h1m3 0h1h1m4 0h1m7 0h1m-63 1h1m1 0h1h1m17 0h1h1m2 0h1m3 0h1m2 0h1m4 0h1h1h1m3 0h1m1 0h1m1 0h1m6 0h1m3 0h1m-63 1h1m4 0h1h1h1m17 0h1m1 0h1m4 0h1m5 0h1m3 0h1m3 0h1m1 0h1m5 0h1m4 0h1h1m-60 1h1h1m4 0h1m20 0h1m6 0h1h1m1 0h1m2 0h1h1m1 0h1h1h1m2 0h1h1h1m1 0h1m4 0h1m-58 1h1m22 0h1m1 0h1h1h1m1 0h1m1 0h1m4 0h1m1 0h1m4 0h1m1 0h1m1 0h1h1m4 0h1m2 0h1m2 0h1m-61 1h1m1 0h1h1m3 0h1m18 0h1m6 0h1m2 0h1m1 0h1m6 0h1m1 0h1m4 0h1m1 0h1m4 0h1m2 0h1h1h1m-62 1h1m1 0h1m21 0h1m2 0h1m9 0h1m1 0h1m11 0h1m-55 1h1h1m1 0h1m38 0h1m6 0h1m1 0h1m8 0h1h1m-40 1h1m8 0h1m1 0h1m10 0h1m9 0h1m-51 1h1m1 0h1h1h1m16 0h1m1 0h1m19 0h1m9 0h1m-56 1h1h1m1 0h1m1 0h1m15 0h1m2 0h1m7 0h1m-29 1h1m2 0h1m9 0h1h1m4 0h1m-16 1h1m1 0h1m8 0h1h1m-21 1h1h1m4 0h1m2 0h1m1 0h1m3 0h1m3 0h1h1h1m-19 1h1h1m5 0h1m1 0h1h1m7 0h1m-21 1h1m1 0h1m4 0h1m7 0h1m3 0h1h1m-18 1h1m3 0h1m2 0h1m2 0h1m4 0h1m1 0h1m1 0h1m-22 1h1m3 0h1m3 0h1m1 0h1m3 0h1h1m1 0h1m5 0h1m-23 1h1m7 0h1h1m2 0h1m4 0h1m-12 1h1m1 0h1m2 0h1h1m2 0h1h1m1 0h1m1 0h1m-15 1h1m6 0h1m4 0h1m5 0h1m32 0h1m-58 1h1m1 0h1m15 0h1m1 0h1m25 0h1m6 0h1h1m-57 1h1m1 0h1h1h1m5 0h1m2 0h1m3 0h1m3 0h1m18 0h1m6 0h1m10 0h1m-53 1h1m2 0h1m1 0h1h1m6 0h1h1m3 0h1m9 0h1m5 0h1m3 0h1h1m7 0h1m2 0h1m2 0h1m2 0h1m-56 1h1m2 0h1m1 0h1m1 0h1m2 0h1m3 0h1m2 0h1h1m9 0h1h1m13 0h1h1h1h1h1m1 0h1h1h1h1h1m1 0h1m-61 1h1m2 0h1h1m6 0h1h1h1m1 0h1h1m15 0h1m3 0h1m1 0h1m1 0h1m2 0h1m1 0h1m6 0h1m1 0h1m3 0h1m3 0h1m-66 1h1m8 0h1h1m1 0h1m2 0h1h1m2 0h1m1 0h1m2 0h1m2 0h1m14 0h1h1m1 0h1m2 0h1h1m2 0h1m2 0h1m6 0h1h1m-65 1h1m2 0h1m1 0h1h1h1m1 0h1m3 0h1m4 0h1h1m1 0h1m1 0h1m1 0h1h1m2 0h1m1 0h1m3 0h1m10 0h1m1 0h1h1h1m4 0h1m2 0h1m7 0h1m-64 1h1m2 0h1m5 0h1m3 0h1h1m4 0h1m18 0h1h1m7 0h1m1 0h1m1 0h1m-54 1h1m2 0h1h1h1m5 0h1h1m1 0h1m4 0h1m1 0h1h1m3 0h1m11 0h1m5 0h1m1 0h1h1h1m3 0h1h1m1 0h1m5 0h1m3 0h1h1m2 0h1m-69 1h1m6 0h1h1h1h1h1m1 0h1h1h1m2 0h1m1 0h1m3 0h1h1m1 0h1m10 0h1m1 0h1m5 0h1m3 0h1m2 0h1m8 0h1m1 0h1m1 0h1m2 0h1m-66 1h1m3 0h1m1 0h1m2 0h1m7 0h1m4 0h1m6 0h1m3 0h1h1m1 0h1m1 0h1m19 0h1h1m2 0h1h1m-67 1h1m2 0h1h1h1m1 0h1h1m1 0h1h1h1m2 0h1m2 0h1m2 0h1m10 0h1m6 0h1h1m5 0h1h1m3 0h1m5 0h1h1m3 0h1m-62 1h1m1 0h1h1m1 0h1m1 0h1h1m3 0h1m5 0h1m2 0h1m13 0h1m2 0h1m8 0h1m1 0h1m3 0h1m1 0h1m1 0h1m2 0h1h1m-61 1h1m10 0h1m4 0h1m3 0h1m25 0h1m6 0h1h1m1 0h1m1 0h1h1m-55 1h1m5 0h1m8 0h1m27 0h1m7 0h1m-58 1h1m1 0h1m49 0h1m1 0h1m-51 1h1" stroke="#000" stroke-opacity="0.82" stroke-width="1" fill="none" filter="url(#bl)"/>
<path d="M221 90.5h1m2 3h1m-11 1h1m3 0h1h1m1 0h1m1 0h1h1m2 0h1h1m1 0h1m-10 1h1m1 0h1m1 0h1m1 0h1h1m5 0h1m-21 1h1m5 0h1h1h1h1h1m1 0h1h1m1 0h1h1h1m1 0h1m-20 1h1m3 0h1h1h1h1h1h1h1m1 0h1h1h1m2 0h1h1h1m-19 1h1h1h1m1 0h1h1m1 0h1h1h1h1h1h1h1m1 0h1m1 0h1h1h1h1m-21 1h1m1 0h1h1h1h1h1h1h1h1h1h1h1h1h1h1h1h1h1m1 0h1m1 0h1m-22 1h1m2 0h1h1h1h1h1h1h1h1h1h1m1 0h1h1h1h1h1m1 0h1m10 0h1m-35 1h1m1 0h1h1h1h1h1h1h1h1h1h1h1h1h1h1h1h1h1h1m1 0h1h1h1h1m16 0h1m8 0h1h1m6 0h1m1 0h1m-60 1h1m2 0h1h1h1h1h1h1h1h1h1h1h1h1h1h1h1h1h1m2 0h1m12 0h1m5 0h1m8 0h1m3 0h1m-59 1h1m1 0h1m4 0h1h1h1h1h1h1h1h1h1h1h1h1h1h1h1h1h1m1 0h1m20 0h1m7 0h1m-51 1h1h1m1 0h1h1h1h1h1h1h1h1h1h1h1h1h1h1h1h1h1h1h1m10 0h1m2 0h1m13 0h1m2 0h1m3 0h1m-59 1h1m1 0h1h1h1h1h1h1h1h1h1h1h1h1h1h1h1h1h1h1h1m1 0h1m3 0h1m17 0h1m3 0h1m-46 1h1m1 0h1h1h1h1h1h1h1h1h1h1h1h1h1h1h1h1h1h1m1 0h1h1h1h1m12 0h1m-40 1h1m1 0h1h1h1h1h1h1h1h1h1h1h1h1h1h1h1h1h1h1h1h1h1m25 0h1m13 0h1m-63 1h1m1 0h1h1h1h1h1h1h1h1h1h1h1h1h1h1h1h1h1h1h1h1h1h1m1 0h1m4 0h1m-28 1h1h1h1h1h1h1h1h1h1h1h1h1h1h1h1m1 0h1h1m1 0h1m1 0h1m-27 1h1m2 0h1m4 0h1h1h1h1h1h1h1h1h1m1 0h1h1h1h1h1m-21 1h1m3 0h1h1h1h1h1h1h1h1h1h1h1h1h1h1m-12 1h1h1h1h1h1h1h1h1h1m2 0h1h1m-14 1h1m1 0h1m1 0h1h1h1h1h1h1m1 0h1m3 0h1m-11 1h1h1h1m1 0h1h1m-2 1h1h1m1 0h1m-8 1h1m1 0h1m-5 4h1m-1 1h1h1h1m3 1h1m2 0h1m-10 1h1m5 0h1m2 0h1m-16 1h1m3 0h1m2 0h1m5 0h1m6 0h1m1 0h1m21 0h1m9 0h1m-56 1h1h1h1h1h1m2 0h1m3 0h1m2 0h1m5 0h1m22 0h1m9 0h1m-57 1h1m3 0h1m3 0h1h1m1 0h1h1m4 0h1m2 0h1m23 0h1m7 0h1m3 0h1m1 0h1h1h1m3 0h1m-62 1h1h1m2 0h1h1m2 0h1m1 0h1h1m3 0h1m3 0h1m15 0h1m11 0h1m2 0h1h1m1 0h1h1h1h1h1h1m2 0h1m-65 1h1h1m1 0h1m5 0h1h1m3 0h1m4 0h1m1 0h1m4 0h1m16 0h1m9 0h1m2 0h1m1 0h1h1h1h1h1h1h1m1 0h1m-64 1h1h1m1 0h1h1m1 0h1m2 0h1h1h1m2 0h1h1m1 0h1m3 0h1m12 0h1m12 0h1m1 0h1m1 0h1h1h1h1h1h1h1h1h1h1h1m-59 1h1m1 0h1m1 0h1m6 0h1h1m1 0h1m2 0h1h1h1m14 0h1m10 0h1m2 0h1m1 0h1h1h1h1h1m1 0h1h1h1m2 0h1m-65 1h1m2 0h1m11 0h1m1 0h1m2 0h1h1m21 0h1m3 0h1m1 0h1h1m1 0h1h1h1h1h1h1h1h1m1 0h1m-52 1h1m2 0h1m4 0h1m31 0h1h1h1h1h1h1h1h1h1h1m2 0h1m-12 1h1h1h1h1h1m2 0h1h1h1m-52 1h1m12 0h1m29 0h1m1 0h1m1 0h1m1 0h1h1m-10 1h1m5 0h1m1 0h1m-6 1h1m-1 1h1" stroke="#000" stroke-opacity="0.95" stroke-width="1" fill="none" filter="url(#bl)"/>
<rect x="46.60" y="33.60" width="129.80" height="132.30" fill="none" stroke="#000" stroke-width="3.2"/>
<rect x="193.60" y="33.60" width="129.60" height="132.30" fill="none" stroke="#000" stroke-width="3.2"/>
<path d="M53.0 167.0v2.6M60.0 167.0v2.6M78.0 167.0v2.6M86.0 167.0v2.6M103.0 167.0v2.6M111.0 167.0v2.6M129.0 167.0v2.6M137.0 167.0v2.6M154.0 167.0v2.6M162.0 167.0v2.6M45.5 155.5h-2.4M45.5 147.4h-2.4M45.5 129.4h-2.4M45.5 121.3h-2.4M45.5 104.3h-2.4M45.5 96.2h-2.4M45.5 78.2h-2.4M45.5 70.1h-2.4M45.5 53.1h-2.4M45.5 45.0h-2.4" stroke="#000" stroke-width="1.6" stroke-opacity="0.85"/>
<path d="M200.0 167.0v2.6M207.0 167.0v2.6M225.0 167.0v2.6M232.9 167.0v2.6M249.9 167.0v2.6M257.9 167.0v2.6M275.9 167.0v2.6M283.9 167.0v2.6M300.8 167.0v2.6M308.8 167.0v2.6M192.5 155.5h-2.4M192.5 147.4h-2.4M192.5 129.4h-2.4M192.5 121.3h-2.4M192.5 104.3h-2.4M192.5 96.2h-2.4M192.5 78.2h-2.4M192.5 70.1h-2.4M192.5 53.1h-2.4M192.5 45.0h-2.4" stroke="#000" stroke-width="1.6" stroke-opacity="0.85"/>
<line x1="105.5" y1="32" x2="105.5" y2="167.5" stroke="#000" stroke-width="3"/>
<line x1="45" y1="118.3" x2="178" y2="118.3" stroke="#000" stroke-width="3"/>
<line x1="240.4" y1="32" x2="240.4" y2="167.5" stroke="#000" stroke-width="3"/>
<line x1="192" y1="117.7" x2="324.8" y2="117.7" stroke="#000" stroke-width="3"/>
<text x="51.5" y="53.6" font-size="17" stroke="#000" stroke-width="0.55">6.5</text>
<text x="173.2" y="53.6" font-size="17" text-anchor="end" stroke="#000" stroke-width="0.55">86.5</text>
<text x="51.5" y="160.5" font-size="17" stroke="#000" stroke-width="0.55">5.4</text>
<text x="174" y="160.5" font-size="17" text-anchor="end" stroke="#000" stroke-width="0.55">1.6</text>
<text x="197" y="53.6" font-size="17" stroke="#000" stroke-width="0.55">48.3</text>
<text x="317.6" y="53.2" font-size="17" text-anchor="end" stroke="#000" stroke-width="0.55">7.3</text>
<text x="196" y="161" font-size="17" stroke="#000" stroke-width="0.55">28.3</text>
<text x="319.5" y="161" font-size="17" text-anchor="end" stroke="#000" stroke-width="0.55">16.1</text>
<line x1="25.7" y1="36.4" x2="25.7" y2="68" stroke="#000" stroke-width="2.6"/>
<path d="M25.7 26.7L30.9 41.4L25.7 38.4L20.5 41.4Z" fill="#000"/>
<text x="32.3" y="121.9" font-size="17" textLength="40.7" lengthAdjust="spacingAndGlyphs" transform="rotate(-90 32.3 121.9)" stroke="#000" stroke-width="0.6">CD27</text>
<line x1="25.6" y1="136" x2="25.6" y2="194.2" stroke="#000" stroke-width="2.8"/>
<line x1="24.2" y1="192.8" x2="136" y2="192.8" stroke="#000" stroke-width="2.8"/>
<text x="155" y="200.8" font-size="17" textLength="61.5" lengthAdjust="spacingAndGlyphs" stroke="#000" stroke-width="0.6">CD45RA</text>
<line x1="238.6" y1="193" x2="322.7" y2="193" stroke="#000" stroke-width="2.6"/>
<path d="M332.2 193L317.7 187.8L320.7 193L317.7 198.2Z" fill="#000"/>
<path d="M55.4 352.0 L60.6 344.7 L64.5 340.8 L67.9 331.7 L69.7 327.8 L71.0 331.7 L72.3 323.9 L74.9 320.0 L77.5 318.2 L80.0 320.0 L82.7 317.4 L85.3 311.4 L86.6 314.8 L89.2 318.7 L91.8 317.4 L94.4 322.6 L97.0 326.5 L99.5 323.9 L102.1 322.6 L104.7 318.7 L107.3 316.6 L110.0 318.2 L112.0 310.9 L113.8 305.7 L116.4 301.8 L119.0 312.2 L120.8 297.9 L122.9 287.5 L124.2 277.1 L126.8 270.6 L128.1 272.0 L130.7 261.6 L133.3 256.4 L134.6 243.4 L136.4 246.0 L138.5 242.1 L139.8 249.9 L141.6 235.6 L142.9 227.8 L144.2 235.6 L146.3 253.8 L148.9 272.0 L150.2 287.5 L152.0 303.1 L154.1 318.7 L156.2 326.5 L159.3 329.1 L161.4 336.9 L163.2 344.7 L165.8 352.0Z" fill="#b0b0b0" stroke="#000" stroke-width="1.3" stroke-linejoin="round"/>
<path d="M210.9 352.2 L214.3 344.1 L217.0 327.9 L219.0 301.0 L221.0 274.0 L222.8 247.0 L223.7 229.4 L224.8 238.9 L226.4 236.9 L227.3 240.2 L228.4 249.7 L230.4 274.0 L232.2 301.0 L234.5 327.9 L237.2 344.1 L239.2 352.2Z" fill="#b0b0b0" stroke="#000" stroke-width="1.3" stroke-linejoin="round"/>
<rect x="46.60" y="222.60" width="129.80" height="131.50" fill="none" stroke="#000" stroke-width="3.2"/>
<rect x="194.10" y="222.60" width="128.30" height="131.50" fill="none" stroke="#000" stroke-width="3.2"/>
<path d="M53.0 355.2v2.6M60.0 355.2v2.6M78.0 355.2v2.6M86.0 355.2v2.6M103.0 355.2v2.6M111.0 355.2v2.6M129.0 355.2v2.6M137.0 355.2v2.6M154.0 355.2v2.6M162.0 355.2v2.6M45.5 343.7h-2.4M45.5 335.7h-2.4M45.5 317.8h-2.4M45.5 309.8h-2.4M45.5 292.8h-2.4M45.5 284.9h-2.4M45.5 266.9h-2.4M45.5 258.9h-2.4M45.5 242.0h-2.4M45.5 234.0h-2.4" stroke="#000" stroke-width="1.6" stroke-opacity="0.85"/>
<path d="M200.4 355.2v2.6M207.3 355.2v2.6M225.1 355.2v2.6M233.0 355.2v2.6M249.8 355.2v2.6M257.8 355.2v2.6M275.6 355.2v2.6M283.5 355.2v2.6M300.3 355.2v2.6M308.2 355.2v2.6M193.0 343.7h-2.4M193.0 335.7h-2.4M193.0 317.8h-2.4M193.0 309.8h-2.4M193.0 292.8h-2.4M193.0 284.9h-2.4M193.0 266.9h-2.4M193.0 258.9h-2.4M193.0 242.0h-2.4M193.0 234.0h-2.4" stroke="#000" stroke-width="1.6" stroke-opacity="0.85"/>
<line x1="104.7" y1="302.6" x2="171" y2="302.6" stroke="#000" stroke-width="2.6"/>
<text x="101.6" y="292.7" font-size="17" stroke="#000" stroke-width="0.55">72</text>
<line x1="251.3" y1="302" x2="318" y2="302" stroke="#000" stroke-width="2.6"/>
<text x="282.5" y="293.5" font-size="17" text-anchor="middle" stroke="#000" stroke-width="0.55">0</text>
<line x1="24.6" y1="221.39999999999998" x2="24.6" y2="252.7" stroke="#000" stroke-width="2.6"/>
<path d="M24.6 212.2L29.8 226.39999999999998L24.6 223.39999999999998L19.400000000000002 226.39999999999998Z" fill="#000"/>
<text x="30.2" y="321" font-size="17" textLength="46.6" lengthAdjust="spacingAndGlyphs" transform="rotate(-90 30.2 321)" stroke="#000" stroke-width="0.6"># cells</text>
<line x1="24.4" y1="344.6" x2="24.4" y2="380.4" stroke="#000" stroke-width="2.8"/>
<line x1="23" y1="379" x2="143.8" y2="379" stroke="#000" stroke-width="2.8"/>
<text x="161.7" y="388.6" font-size="17" textLength="40" lengthAdjust="spacingAndGlyphs" stroke="#000" stroke-width="0.6">CD1a</text>
<line x1="221.3" y1="378.8" x2="322.5" y2="378.8" stroke="#000" stroke-width="2.6"/>
<path d="M331.9 378.8L317.5 373.90000000000003L320.5 378.8L317.5 383.7Z" fill="#000"/>
<path d="M110 498.5h1m19 3h1m-37 8h1m-15 3h1m60 0h1m-65 2h1m8 0h1m3 1h1m4 1h1m4 0h1m-34 1h1m16 0h1m28 1h1m-41 2h1m7 0h1m4 0h1m2 0h1m-16 1h1m1 0h1m2 0h1h1m10 0h1m11 0h1m-34 1h1m1 0h1h1m2 0h1m1 0h1h1m1 0h1m3 0h1m-5 1h1m4 0h1m3 0h1m6 0h1m-23 1h1m3 0h1h1h1h1m1 0h1m5 0h1m4 0h1m-25 1h1m3 0h1h1h1m4 0h1m2 0h1m1 0h1h1m-20 1h1h1m1 0h1m1 0h1m3 0h1m7 0h1h1m3 0h1h1h1h1m2 0h1m1 0h1m-40 1h1m12 0h1h1h1m1 0h1h1m1 0h1m2 0h1m1 0h1h1m1 0h1h1m5 0h1m1 0h1m1 0h1m-42 1h1m5 0h1m2 0h1m3 0h1m2 0h1m1 0h1h1h1h1h1m3 0h1m2 0h1h1h1h1m1 0h1m1 0h1m-30 1h1m4 0h1h1h1m2 0h1m3 0h1h1h1m7 0h1h1m2 0h1m3 0h1h1m-39 1h1m1 0h1m2 0h1m6 0h1m1 0h1m8 0h1h1m2 0h1m8 0h1m6 0h1m-40 1h1m4 0h1h1m8 0h1m14 0h1m1 0h1h1h1m1 0h1m4 0h1m-48 1h1m4 0h1m2 0h1h1h1m3 0h1m15 0h1h1m2 0h1m1 0h1h1m1 0h1m8 0h1m-45 1h1m5 0h1m1 0h1h1m1 0h1m14 0h1m1 0h1h1m4 0h1m3 0h1m3 0h1m-43 1h1m4 0h1m1 0h1m3 0h1m20 0h1m3 0h1h1h1m1 0h1m2 0h1m-44 1h1m18 0h1m16 0h1h1h1m1 0h1m1 0h1m-45 1h1h1m4 0h1m3 0h1m27 0h1m1 0h1m4 0h1h1m-54 1h1m6 0h1h1m1 0h1m1 0h1m3 0h1m28 0h1h1m4 0h1m-42 1h1h1h1m2 0h1m3 0h1m30 0h1h1m8 0h1h1m-60 1h1m4 0h1m1 0h1m1 0h1m2 0h1m30 0h1h1h1m2 0h1m-46 1h1m7 0h1m32 0h1m2 0h1m-43 1h1m1 0h1h1m33 0h1m1 0h1h1m-43 1h1m3 0h1m1 0h1h1h1m2 0h1m28 0h1h1m-40 1h1m5 0h1m34 0h1h1m7 0h1m-51 1h1m1 0h1m1 0h1m34 0h1m2 0h1h1m1 0h1m-43 1h1h1m2 0h1m32 0h1h1m4 0h1h1m-45 1h1m1 0h1m1 0h1m31 0h1m12 0h1m-58 1h1m7 0h1m3 0h1m28 0h1m1 0h1m2 0h1m-35 1h1m3 0h1m32 0h1m4 0h1m-49 1h1m1 0h1h1h1h1h1m1 0h1m28 0h1m4 0h1m7 0h1m-57 1h1m8 0h1m1 0h1m2 0h1m31 0h1h1m4 0h1m8 0h1m-44 1h1m21 0h1m1 0h1m4 0h1m-44 1h1m7 0h1h1m30 0h1h1m-41 1h1m5 0h1m3 0h1m24 0h1h1m4 0h1m2 0h1m-41 1h1m1 0h1m1 0h1h1m1 0h1m1 0h1m20 0h1h1m3 0h1m1 0h1m10 0h1m-56 1h1m6 0h1m5 0h1m3 0h1m19 0h1h1m6 0h1m-37 1h1h1m4 0h1m3 0h1m15 0h1h1m3 0h1m2 0h1m2 0h1m-41 1h1m2 0h1h1h1m3 0h1m16 0h1m4 0h1m1 0h1h1m3 0h1h1m2 0h1m-43 1h1h1m2 0h1m2 0h1h1h1m4 0h1m3 0h1m9 0h1m1 0h1h1h1h1h1m3 0h1m2 0h1m7 0h1m-56 1h1m11 0h1h1m2 0h1h1h1h1h1m4 0h1m1 0h1m4 0h1m1 0h1m2 0h1m1 0h1m3 0h1m-31 1h1m5 0h1m2 0h1m2 0h1m2 0h1m7 0h1m2 0h1m2 0h1h1h1m1 0h1m-38 1h1m2 0h1m2 0h1h1h1h1h1m11 0h1m6 0h1m2 0h1m-31 1h1m4 0h1m4 0h1m1 0h1h1m1 0h1h1m1 0h1h1h1m2 0h1m2 0h1m7 0h1m-43 1h1m3 0h1h1m7 0h1m1 0h1m3 0h1m5 0h1m1 0h1m7 0h1m4 0h1m-32 1h1m4 0h1m1 0h1h1m1 0h1m3 0h1m1 0h1h1m1 0h1m2 0h1m1 0h1m-23 1h1m1 0h1h1h1h1h1h1m1 0h1m1 0h1m3 0h1h1m2 0h1m4 0h1m5 0h1m-39 1h1m6 0h1m8 0h1m1 0h1h1m2 0h1h1h1m2 0h1m1 0h1m-22 1h1h1m3 0h1h1m4 0h1m1 0h1m3 0h1m3 0h1m3 0h1m-21 1h1m5 0h1m6 0h1m-15 1h1m9 0h1m10 0h1m-32 1h1m17 0h1m6 0h1" stroke="#000" stroke-opacity="0.5" stroke-width="1" fill="none" filter="url(#bl)"/>
<path d="M77 521.5h1m-5 2h1m9 1h1m0 1h1m1 0h1m5 0h1m-16 1h1m1 0h1m1 0h1h1m1 0h1m3 0h1m-17 1h1m8 0h1h1m4 0h1m-13 1h1m6 0h1h1m2 0h1m6 0h1m-25 1h1m4 0h1m3 0h1m9 0h1m3 0h1m7 0h1m-31 1h1m4 0h1m2 0h1h1h1m10 0h1h1m1 0h1h1m-28 1h1m2 0h1m1 0h1h1m2 0h1m4 0h1m3 0h1h1m5 0h1m-21 1h1h1h1m6 0h1m7 0h1m7 0h1m-25 1h1m19 0h1h1m2 0h1h1m1 0h1m-34 1h1m1 0h1m24 0h1h1m-29 1h1m1 0h1m16 0h1m7 0h1m-28 1h1h1m2 0h1m21 0h1m1 0h1m7 0h1m-38 1h1h1m26 0h1m-30 1h1h1m3 0h1m21 0h1m1 0h1h1m1 0h1m-28 1h1m20 0h1m2 0h1m-34 1h1m2 0h1m1 0h1h1h1m26 0h1h1m2 0h1m-35 1h1m31 0h1m2 0h1m-35 1h1m3 0h1m1 0h1m23 0h1m3 0h1m-35 1h1m26 0h1m4 0h1m3 0h1m-34 1h1m27 0h1m1 0h1h1m2 0h1m-40 1h1m2 0h1m2 0h1m27 0h1m-36 1h1m3 0h1h1m26 0h1m1 0h1m3 0h1m-37 1h1m32 0h1m-35 1h1m33 0h1m-30 1h1m26 0h1m3 0h1m-7 1h1m1 0h1h1h1m-33 1h1m1 0h1h1m1 0h1m2 0h1m18 0h1m4 0h1m7 0h1m-38 1h1m1 0h1m3 0h1m-10 1h1m1 0h1m2 0h1h1h1m17 0h1m-34 1h1m27 0h1m5 0h1m6 0h1m-35 1h1h1h1h1m6 0h1m11 0h1m7 0h1m-36 1h1m8 0h1h1m9 0h1m8 0h1m3 0h1h1h1m-21 1h1m1 0h1m13 0h1m-20 1h1h1m1 0h1m9 0h1m5 0h1m5 0h1m-21 1h1m2 0h1m1 0h1m2 0h1m3 0h1m-20 1h1m1 0h1h1h1m4 0h1m6 0h1m2 0h1m-21 1h1m6 0h1m4 0h1h1m3 0h1m1 0h1h1m3 0h1m-23 1h1m1 0h1m1 0h1m2 0h1m2 0h1m2 0h1m3 0h1h1m-17 1h1m5 0h1m1 0h1m7 0h1m1 0h1m-12 1h1m10 0h1m-4 2h1m-7 1h1m-8 2h1" stroke="#000" stroke-opacity="0.68" stroke-width="1" fill="none" filter="url(#bl)"/>
<path d="M89 523.5h1m-14 4h1m13 0h1m-10 1h1m-6 1h1h1m4 0h1h1m1 0h1m1 0h1m-15 1h1m8 0h1m2 0h1h1m2 0h1h1m2 0h1m-22 1h1m3 0h1m1 0h1m2 0h1m1 0h1m1 0h1m5 0h1h1m-17 1h1h1m1 0h1m1 0h1m5 0h1m11 0h1m-28 1h1m3 0h1m1 0h1h1m1 0h1h1m1 0h1m1 0h1m5 0h1h1m-22 1h1m2 0h1h1h1m1 0h1h1m2 0h1m5 0h1h1h1h1h1m7 0h1m-31 1h1m3 0h1h1h1h1m4 0h1m4 0h1m2 0h1m1 0h1m2 0h1m-24 1h1m2 0h1h1m1 0h1m5 0h1m1 0h1m-18 1h1h1h1m19 0h1m1 0h1m1 0h1m-27 1h1m19 0h1m6 0h1m1 0h1m-32 1h1h1h1m2 0h1h1h1m4 0h1m12 0h1m2 0h1h1m-27 1h1h1h1m5 0h1m11 0h1m-28 1h1m4 0h1h1h1m21 0h1m2 0h1m-29 1h1m1 0h1m4 0h1h1m18 0h1m-28 1h1h1h1h1h1m22 0h1m1 0h1m2 0h1m-35 1h1m2 0h1m2 0h1m3 0h1m19 0h1m-31 1h1m3 0h1m2 0h1h1m20 0h1m2 0h1m3 0h1m-32 1h1h1h1m21 0h1m-28 1h1h1h1m1 0h1h1m21 0h1m1 0h1m2 0h1m4 0h1m-33 1h1m18 0h1m1 0h1h1h1h1h1m-31 1h1m2 0h1h1h1m17 0h1h1m2 0h1m-29 1h1h1m1 0h1h1m1 0h1m19 0h1m2 0h1m-31 1h1m1 0h1m23 0h1m-24 1h1m3 0h1h1h1m13 0h1m1 0h1m3 0h1h1h1m-20 1h1m8 0h1m1 0h1m4 0h1m2 0h1m1 0h1m-30 1h1m4 0h1h1h1m1 0h1m8 0h1m2 0h1m4 0h1m1 0h1m-36 1h1m7 0h1h1h1m1 0h1m2 0h1m12 0h1h1h1m-25 1h1m4 0h1m2 0h1m1 0h1h1m10 0h1m-23 1h1m1 0h1m2 0h1h1m3 0h1m2 0h1m1 0h1m2 0h1h1m1 0h1h1m3 0h1m-14 1h1h1h1h1m1 0h1h1m-10 1h1h1m4 0h1m2 0h1m3 0h1h1m-16 1h1m2 0h1m1 0h1h1m1 0h1m-16 1h1m6 0h1m2 0h1m2 0h1h1h1m-4 2h1" stroke="#000" stroke-opacity="0.82" stroke-width="1" fill="none" filter="url(#bl)"/>
<path d="M84 527.5h1m0 1h1m-2 1h1m6 0h1m-16 1h1h1m3 0h1m6 0h1m-14 1h1m4 0h1m3 0h1m4 0h1h1m-13 1h1m1 0h1m2 0h1h1h1h1m-10 1h1m2 0h1m2 0h1m1 0h1m1 0h1m-17 1h1m2 0h1m3 0h1m2 0h1h1m1 0h1h1h1h1h1m-17 1h1h1h1m4 0h1h1m1 0h1m1 0h1h1h1m2 0h1h1m1 0h1m1 0h1m-21 1h1h1m2 0h1m1 0h1h1h1h1h1m1 0h1m1 0h1h1h1h1h1h1m1 0h1m1 0h1m-25 1h1h1h1h1h1h1h1h1h1h1h1h1h1h1h1h1h1h1h1m1 0h1m-21 1h1h1h1h1h1h1h1h1h1h1h1h1h1h1h1h1h1m1 0h1h1m-21 1h1m3 0h1h1h1h1m1 0h1h1h1h1h1h1h1h1h1h1h1m2 0h1m-25 1h1m3 0h1h1h1h1h1m1 0h1h1h1h1h1h1h1h1h1h1h1m1 0h1h1h1h1m-24 1h1h1h1h1h1h1h1h1h1h1h1h1h1h1h1h1h1h1h1h1h1m1 0h1h1m-24 1h1m1 0h1m2 0h1h1h1h1h1h1h1h1h1h1h1h1h1h1h1h1h1h1m-22 1h1h1h1h1h1h1h1h1h1h1h1h1h1h1h1h1h1h1h1h1h1m2 0h1m1 0h1m-31 1h1m2 0h1m1 0h1h1h1m1 0h1h1h1h1h1h1h1h1h1h1h1h1h1h1h1h1h1h1h1m1 0h1m-26 1h1m2 0h1h1h1h1h1h1h1h1h1h1h1h1h1h1h1h1h1h1h1h1m1 0h1h1m-28 1h1m3 0h1h1h1h1h1h1h1h1h1h1h1h1h1h1h1h1h1h1h1h1h1m2 0h1m-27 1h1m2 0h1h1h1h1h1h1h1h1h1h1h1h1h1h1h1h1h1h1h1h1h1m-26 1h1h1m1 0h1m1 0h1h1h1h1h1h1h1h1h1h1h1h1h1h1h1h1h1h1m1 0h1m-20 1h1h1h1h1h1h1h1h1h1h1h1h1h1h1h1h1h1m2 0h1h1m1 0h1m-23 1h1h1h1h1h1h1h1h1h1h1h1h1h1h1h1h1h1h1h1m1 0h1m-24 1h1m2 0h1m1 0h1h1h1h1h1h1h1h1h1h1h1h1h1h1h1h1m1 0h1m-23 1h1m5 0h1h1h1h1h1h1h1h1h1h1h1h1m1 0h1m1 0h1h1m4 0h1m-28 1h1m4 0h1h1m1 0h1h1h1h1h1h1h1h1m1 0h1m1 0h1h1m1 0h1m-22 1h1m1 0h1m3 0h1m1 0h1h1h1h1h1h1h1m2 0h1h1m1 0h1m4 0h1m-21 1h1m1 0h1h1h1h1h1h1h1h1h1m1 0h1h1m-18 1h1m1 0h1m2 0h1m3 0h1h1h1h1h1h1h1h1m-13 1h1m2 0h1h1m1 0h1m1 0h1h1m-12 1h1m2 0h1h1h1m8 0h1h1" stroke="#000" stroke-opacity="0.95" stroke-width="1" fill="none" filter="url(#bl)"/>
<path d="M295 441.5h1m22 0h1m-21 1h1m22 0h1m-35 1h1m27 0h1m-30 1h1m8 0h1m1 0h1m11 0h1m-23 1h1h1h1m1 0h1m5 0h1m-5 1h1h1m-12 1h1m8 0h1m17 0h1m-34 1h1m9 0h1m6 0h1m5 0h1m5 0h1m11 0h1m-47 1h1m10 0h1m4 0h1m6 0h1m1 0h1h1h1m8 0h1m-26 1h1m3 0h1m2 0h1m3 0h1h1m9 0h1m11 0h1m-41 1h1m1 0h1m9 0h1h1m1 0h1h1m-18 1h1m1 0h1m4 0h1m2 0h1m1 0h1m8 0h1m-80 1h1m60 0h1m2 0h1h1m1 0h1m1 0h1m2 0h1m3 0h1m-12 1h1h1m3 0h1h1m1 0h1m1 0h1m3 0h1m3 0h1h1h1m7 0h1m-41 1h1m8 0h1m2 0h1h1h1h1m2 0h1m1 0h1m1 0h1h1h1h1m10 0h1m-88 1h1m56 0h1h1m9 0h1h1h1m4 0h1m3 0h1m-33 1h1m5 0h1m8 0h1m3 0h1m1 0h1h1m1 0h1h1h1m3 0h1m3 0h1m2 0h1m1 0h1m1 0h1m-48 1h1m4 0h1m10 0h1m2 0h1m1 0h1h1m1 0h1m11 0h1h1m1 0h1m3 0h1m1 0h1m2 0h1m9 0h1m-43 1h1m1 0h1m1 0h1m4 0h1m2 0h1m2 0h1m1 0h1h1m5 0h1m2 0h1m8 0h1m2 0h1h1m-42 1h1h1m3 0h1m3 0h1h1h1m12 0h1m4 0h1m-43 1h1m1 0h1m5 0h1m1 0h1m3 0h1m1 0h1h1m2 0h1h1h1h1m1 0h1m7 0h1m1 0h1m3 0h1h1h1h1m-40 1h1m1 0h1m1 0h1m4 0h1m1 0h1m3 0h1h1h1m1 0h1m9 0h1m1 0h1m1 0h1h1m3 0h1h1m-27 1h1h1m2 0h1m13 0h1m1 0h1m3 0h1h1m1 0h1h1m9 0h1m-67 1h1m18 0h1m1 0h1m2 0h1m3 0h1m1 0h1m4 0h1m10 0h1m4 0h1m4 0h1h1h1m1 0h1h1m-48 1h1m7 0h1m1 0h1m2 0h1m12 0h1m11 0h1h1m3 0h1m1 0h1m1 0h1m-54 1h1m5 0h1m1 0h1m2 0h1m3 0h1m28 0h1m3 0h1m2 0h1m-55 1h1m9 0h1m5 0h1h1m1 0h1h1m4 0h1m20 0h1m1 0h1m3 0h1m1 0h1m-72 1h1m13 0h1m6 0h1m1 0h1m2 0h1m3 0h1m1 0h1h1m30 0h1m4 0h1m3 0h1m2 0h1m2 0h1m-89 1h1m8 0h1m27 0h1m1 0h1m3 0h1h1h1m24 0h1m7 0h1m3 0h1h1m-104 1h1m50 0h1h1m8 0h1m2 0h1m26 0h1m5 0h1h1h1m1 0h1h1m5 0h1m-74 1h1m3 0h1m8 0h1m11 0h1m6 0h1m1 0h1m26 0h1m2 0h1h1m-59 1h1m7 0h1m4 0h1m6 0h1m26 0h1h1h1m7 0h1m7 0h1m1 0h1m-82 1h1h1m8 0h1m12 0h1m3 0h1h1m4 0h1m4 0h1m30 0h1m3 0h1h1m1 0h1m-79 1h1m18 0h1h1m4 0h1h1h1m3 0h1h1m2 0h1m4 0h1m22 0h1m7 0h1h1m1 0h1h1h1h1h1m1 0h1m-92 1h1m36 0h1m1 0h1m4 0h1h1h1m35 0h1m1 0h1m5 0h1h1m2 0h1m-94 1h1m1 0h1m7 0h1m5 0h1m2 0h1m2 0h1m12 0h1m4 0h1m4 0h1m35 0h1h1h1m3 0h1h1m-90 1h1h1m4 0h1m12 0h1m1 0h1m12 0h1h1m1 0h1m5 0h1m1 0h1m31 0h1m1 0h1m9 0h1m-81 1h1m5 0h1h1h1m3 0h1m3 0h1h1m3 0h1m1 0h1m4 0h1m1 0h1m1 0h1m3 0h1m30 0h1m3 0h1m2 0h1m2 0h1h1m-88 1h1m7 0h1m2 0h1m24 0h1h1h1h1h1m3 0h1m3 0h1m32 0h1m4 0h1h1m3 0h1m-85 1h1m1 0h1h1m2 0h1m1 0h1h1m4 0h1h1m3 0h1m13 0h1m3 0h1m32 0h1m2 0h1h1h1h1m1 0h1m2 0h1m1 0h1m-77 1h1m4 0h1m3 0h1m6 0h1m1 0h1m1 0h1m1 0h1h1h1h1h1m3 0h1m35 0h1m3 0h1h1m1 0h1m-85 1h1m4 0h1h1h1m3 0h1m4 0h1m1 0h1m7 0h1m7 0h1m40 0h1h1m3 0h1m8 0h1m-84 1h1m4 0h1m1 0h1m1 0h1m8 0h1m2 0h1m8 0h1m1 0h1m35 0h1h1h1m4 0h1m1 0h1m-86 1h1m6 0h1h1m1 0h1m2 0h1h1m1 0h1m1 0h1m4 0h1m12 0h1m1 0h1h1m7 0h1m27 0h1m2 0h1h1m1 0h1h1m2 0h1m-87 1h1m1 0h1m4 0h1m4 0h1m7 0h1m6 0h1m4 0h1m1 0h1h1h1h1m37 0h1m1 0h1m2 0h1m1 0h1m1 0h1m2 0h1m4 0h1m-84 1h1m1 0h1m6 0h1m4 0h1m1 0h1m1 0h1m1 0h1m2 0h1h1h1m2 0h1h1m1 0h1m38 0h1h1m4 0h1m2 0h1m6 0h1m-102 1h1m3 0h1m6 0h1m5 0h1m1 0h1m13 0h1m2 0h1m2 0h1h1h1h1m41 0h1h1h1m1 0h1m-79 1h1m2 0h1m1 0h1h1m3 0h1h1m7 0h1m3 0h1m2 0h1m3 0h1h1h1m2 0h1h1m32 0h1m1 0h1h1h1h1h1m10 0h1m5 0h1m-99 1h1h1m1 0h1m14 0h1m2 0h1m1 0h1m3 0h1m3 0h1h1h1h1h1m3 0h1m35 0h1m1 0h1m3 0h1h1m3 0h1m6 0h1m-94 1h1m6 0h1m4 0h1h1m3 0h1m1 0h1h1m2 0h1m1 0h1h1m11 0h1m3 0h1m32 0h1m7 0h1h1m1 0h1m11 0h1m-110 1h1m9 0h1m5 0h1m4 0h1h1m1 0h1m3 0h1h1h1h1m1 0h1m3 0h1h1m1 0h1m2 0h1h1m5 0h1m36 0h1m1 0h1m1 0h1m3 0h1m2 0h1m1 0h1m-89 1h1m1 0h1m2 0h1m2 0h1m5 0h1h1m7 0h1h1m3 0h1h1m1 0h1m2 0h1m4 0h1h1h1m33 0h1m1 0h1m3 0h1h1m6 0h1m-89 1h1m6 0h1m1 0h1m7 0h1h1m2 0h1m1 0h1m5 0h1m2 0h1m2 0h1m2 0h1m37 0h1m5 0h1h1m1 0h1m1 0h1m-96 1h1m4 0h1m12 0h1h1m1 0h1m2 0h1m2 0h1m5 0h1m2 0h1m6 0h1m36 0h1m3 0h1m1 0h1h1h1m-94 1h1m15 0h1m3 0h1h1m1 0h1h1h1m3 0h1h1m1 0h1h1m2 0h1h1h1m1 0h1m6 0h1m35 0h1m2 0h1m2 0h1m15 0h1m-90 1h1m1 0h1m2 0h1m3 0h1h1m4 0h1m3 0h1h1h1m4 0h1m5 0h1h1m37 0h1m1 0h1h1m3 0h1m1 0h1m2 0h1m-85 1h1m2 0h1m2 0h1h1h1m7 0h1m2 0h1h1h1m2 0h1h1h1m1 0h1m1 0h1m1 0h1m2 0h1h1m32 0h1h1m1 0h1m5 0h1h1m-82 1h1h1m2 0h1h1h1m3 0h1h1h1m1 0h1h1m2 0h1h1h1m1 0h1h1h1h1m1 0h1h1m1 0h1h1m1 0h1h1m7 0h1m27 0h1m-78 1h1m4 0h1m10 0h1m1 0h1h1m2 0h1h1m2 0h1m4 0h1m1 0h1h1m2 0h1m2 0h1m4 0h1m17 0h1m20 0h1h1m-83 1h1m4 0h1h1m2 0h1m1 0h1h1m4 0h1m4 0h1m1 0h1h1h1m1 0h1m3 0h1m2 0h1m1 0h1h1m36 0h1m1 0h1m10 0h1h1m-100 1h1m12 0h1h1m7 0h1m4 0h1m4 0h1m2 0h1m1 0h1h1h1m2 0h1h1h1m1 0h1m1 0h1h1m36 0h1m11 0h1m-93 1h1m7 0h1m1 0h1m5 0h1m2 0h1m4 0h1m1 0h1m2 0h1h1m1 0h1m2 0h1h1h1h1h1m33 0h1m5 0h1m5 0h1m8 0h1h1h1m-95 1h1m1 0h1m2 0h1m2 0h1m1 0h1m1 0h1h1m1 0h1m1 0h1m1 0h1m3 0h1m4 0h1h1m7 0h1m5 0h1m6 0h1m11 0h1m7 0h1m6 0h1m4 0h1m3 0h1m-87 1h1h1h1m5 0h1m1 0h1m5 0h1m3 0h1m1 0h1h1m1 0h1h1m2 0h1h1m1 0h1m1 0h1h1h1m2 0h1h1h1h1m2 0h1m6 0h1h1m25 0h1m6 0h1m3 0h1m6 0h1m-93 1h1m2 0h1m5 0h1m4 0h1m1 0h1m3 0h1h1m2 0h1h1m1 0h1h1m3 0h1m2 0h1m2 0h1m3 0h1m19 0h1m1 0h1h1m3 0h1h1h1h1m6 0h1m-87 1h1m5 0h1m3 0h1m1 0h1m1 0h1m1 0h1h1m3 0h1m2 0h1m4 0h1h1h1h1h1m2 0h1h1h1h1h1h1m2 0h1h1h1m30 0h1m1 0h1h1m1 0h1h1m8 0h1m6 0h1m-99 1h1m13 0h1m5 0h1h1m4 0h1m4 0h1m1 0h1h1m1 0h1m1 0h1m1 0h1h1m1 0h1h1m22 0h1m3 0h1h1m2 0h1m2 0h1m16 0h1m-97 1h1m5 0h1m1 0h1m1 0h1m4 0h1m2 0h1h1h1h1m8 0h1m7 0h1h1h1h1m15 0h1m10 0h1m2 0h1m1 0h1m5 0h1h1m7 0h1m1 0h1m-88 1h1m1 0h1h1m7 0h1m1 0h1h1m3 0h1h1h1h1h1h1m4 0h1m3 0h1m3 0h1m2 0h1m1 0h1m2 0h1h1m5 0h1m2 0h1h1m3 0h1m3 0h1m1 0h1h1h1m3 0h1m3 0h1h1h1h1m6 0h1m-83 1h1h1m1 0h1m1 0h1h1h1m5 0h1m2 0h1h1h1m1 0h1m1 0h1h1m1 0h1m12 0h1m6 0h1m1 0h1m16 0h1h1m1 0h1m7 0h1m4 0h1h1m-73 1h1h1m1 0h1m1 0h1h1h1m1 0h1h1m1 0h1m1 0h1m1 0h1m4 0h1m3 0h1h1m6 0h1h1m5 0h1h1m1 0h1h1m3 0h1m2 0h1m8 0h1m4 0h1h1h1m7 0h1m-87 1h1h1m2 0h1m4 0h1m1 0h1h1m2 0h1m3 0h1m2 0h1h1m6 0h1m2 0h1m1 0h1h1m2 0h1m3 0h1h1m14 0h1m5 0h1m2 0h1m1 0h1m4 0h1m6 0h1m-78 1h1m3 0h1m1 0h1m1 0h1m4 0h1h1m1 0h1m1 0h1m3 0h1m2 0h1h1m3 0h1m3 0h1m1 0h1m1 0h1h1m1 0h1m1 0h1m2 0h1h1m11 0h1m1 0h1m5 0h1h1m8 0h1h1m-81 1h1m5 0h1m1 0h1h1m3 0h1m8 0h1m3 0h1m1 0h1h1m1 0h1m1 0h1m2 0h1h1h1m3 0h1m1 0h1h1m8 0h1h1m5 0h1h1m1 0h1h1m7 0h1m-76 1h1m3 0h1m2 0h1m1 0h1m10 0h1m4 0h1h1m4 0h1m4 0h1m4 0h1m4 0h1m2 0h1m4 0h1m7 0h1h1m1 0h1h1m11 0h1m1 0h1m1 0h1m4 0h1m5 0h1m-96 1h1m7 0h1m1 0h1m3 0h1m1 0h1h1h1h1m1 0h1h1m1 0h1m1 0h1h1h1m3 0h1m1 0h1m2 0h1m2 0h1m3 0h1m1 0h1m3 0h1m6 0h1m1 0h1h1m1 0h1h1m3 0h1m5 0h1m5 0h1m-84 1h1m4 0h1h1m1 0h1h1m3 0h1h1h1m5 0h1h1h1h1m1 0h1m2 0h1m7 0h1m3 0h1m3 0h1m3 0h1m2 0h1m2 0h1h1m7 0h1m6 0h1m4 0h1m1 0h1m5 0h1m1 0h1m4 0h1m-89 1h1h1h1m1 0h1h1m3 0h1h1m4 0h1h1h1m5 0h1m1 0h1m1 0h1m6 0h1m2 0h1m2 0h1m2 0h1m10 0h1m6 0h1m4 0h1h1h1h1m1 0h1m2 0h1m4 0h1m2 0h1m3 0h1m-89 1h1m6 0h1m10 0h1h1m5 0h1m1 0h1h1m5 0h1m1 0h1h1m8 0h1m1 0h1m7 0h1m3 0h1m2 0h1m3 0h1m1 0h1m1 0h1m1 0h1m2 0h1m1 0h1m7 0h1h1m-87 1h1m3 0h1h1h1m2 0h1m3 0h1h1h1m5 0h1m2 0h1h1m3 0h1m5 0h1m1 0h1m1 0h1m15 0h1m1 0h1m3 0h1m1 0h1h1m2 0h1h1m2 0h1h1h1m1 0h1m-74 1h1h1m1 0h1m1 0h1h1m4 0h1m3 0h1h1m1 0h1m2 0h1m1 0h1h1m2 0h1h1m6 0h1m1 0h1h1h1h1m2 0h1m4 0h1m1 0h1m5 0h1h1m3 0h1m2 0h1m4 0h1m2 0h1h1m5 0h1m2 0h1m-83 1h1m2 0h1m2 0h1h1h1h1m4 0h1m2 0h1m3 0h1h1m1 0h1m1 0h1m6 0h1m8 0h1m1 0h1m2 0h1m1 0h1m2 0h1m2 0h1m2 0h1m1 0h1m2 0h1m1 0h1h1m1 0h1h1m12 0h1m1 0h1m-85 1h1h1h1h1m1 0h1m8 0h1m7 0h1m2 0h1m3 0h1h1h1m3 0h1m4 0h1m6 0h1m1 0h1h1m1 0h1m6 0h1m2 0h1m1 0h1m1 0h1m6 0h1m3 0h1h1m4 0h1m-81 1h1m7 0h1h1m9 0h1h1m3 0h1m3 0h1m10 0h1m3 0h1m1 0h1m1 0h1m2 0h1m2 0h1m6 0h1h1m5 0h1m10 0h1m-89 1h1m15 0h1m5 0h1h1h1h1m2 0h1m2 0h1m2 0h1m1 0h1m3 0h1m4 0h1m1 0h1h1h1m6 0h1m2 0h1h1m2 0h1m7 0h1m6 0h1m1 0h1m1 0h1m12 0h1m-100 1h1m3 0h1m3 0h1m8 0h1m6 0h1m12 0h1m14 0h1h1m2 0h1h1m3 0h1m4 0h1m2 0h1m3 0h1m1 0h1h1m1 0h1m2 0h1h1h1m1 0h1h1m3 0h1h1m4 0h1m-87 1h1h1h1m3 0h1h1m1 0h1m7 0h1m5 0h1h1m2 0h1h1h1h1m1 0h1m1 0h1m9 0h1m1 0h1m1 0h1m7 0h1m5 0h1h1h1m5 0h1m-78 1h1m5 0h1h1h1m1 0h1m1 0h1m8 0h1m2 0h1m4 0h1m2 0h1m1 0h1m2 0h1m2 0h1m1 0h1m3 0h1m3 0h1m3 0h1h1m5 0h1h1m1 0h1h1m2 0h1m1 0h1m2 0h1m1 0h1m3 0h1m5 0h1m11 0h1m5 0h1m-102 1h1h1m1 0h1h1m1 0h1m4 0h1m2 0h1m4 0h1m2 0h1m2 0h1m2 0h1m1 0h1m1 0h1h1h1h1h1m5 0h1h1m4 0h1m1 0h1h1m1 0h1m4 0h1h1m1 0h1h1h1m3 0h1m1 0h1h1m1 0h1m3 0h1m3 0h1m1 0h1m1 0h1m2 0h1m1 0h1m2 0h1m2 0h1m-97 1h1m4 0h1m1 0h1m16 0h1m1 0h1m7 0h1m2 0h1m1 0h1h1m3 0h1m4 0h1m1 0h1m8 0h1h1m2 0h1h1m5 0h1m1 0h1m1 0h1h1h1h1h1m4 0h1m-80 1h1h1m16 0h1m1 0h1h1h1m8 0h1m4 0h1m5 0h1m2 0h1m5 0h1h1h1m3 0h1m4 0h1m6 0h1m1 0h1h1h1m3 0h1m3 0h1m2 0h1m12 0h1m-102 1h1m5 0h1h1m15 0h1h1m5 0h1m2 0h1m2 0h1m5 0h1m3 0h1m3 0h1m3 0h1h1m2 0h1h1h1m2 0h1m1 0h1m1 0h1h1m3 0h1m1 0h1m2 0h1m1 0h1m3 0h1m3 0h1m-87 1h1m6 0h1h1m17 0h1m1 0h1h1m4 0h1h1m1 0h1h1h1m1 0h1h1m4 0h1m1 0h1m2 0h1m1 0h1m3 0h1h1m6 0h1m2 0h1m2 0h1m1 0h1m2 0h1m5 0h1h1m8 0h1m1 0h1m-98 1h1h1m1 0h1h1h1h1h1m5 0h1m10 0h1m5 0h1m2 0h1h1m1 0h1h1h1m1 0h1h1h1m3 0h1m6 0h1m2 0h1m1 0h1m3 0h1m1 0h1h1h1m1 0h1m4 0h1m2 0h1m7 0h1m17 0h1m-103 1h1h1m1 0h1m15 0h1m8 0h1h1m1 0h1m5 0h1m1 0h1m1 0h1h1h1m2 0h1h1m2 0h1m1 0h1h1m2 0h1m4 0h1h1m3 0h1m5 0h1m3 0h1m-80 1h1m1 0h1m3 0h1h1m5 0h1m3 0h1m14 0h1m2 0h1h1h1m1 0h1h1m4 0h1m1 0h1h1m8 0h1m4 0h1m2 0h1m1 0h1m1 0h1m1 0h1m3 0h1m3 0h1m1 0h1m2 0h1m-86 1h1m4 0h1h1m1 0h1h1m7 0h1m12 0h1m4 0h1m3 0h1m1 0h1m5 0h1h1m2 0h1m4 0h1h1m1 0h1m1 0h1m2 0h1h1h1m1 0h1m2 0h1m2 0h1m1 0h1m1 0h1h1m2 0h1m4 0h1m9 0h1m-93 1h1m1 0h1m2 0h1m17 0h1m2 0h1h1m5 0h1m5 0h1m1 0h1m1 0h1h1m4 0h1m2 0h1h1m1 0h1m3 0h1m2 0h1m5 0h1m1 0h1h1m2 0h1m3 0h1m4 0h1m-90 1h1m4 0h1m4 0h1m17 0h1h1m1 0h1m1 0h1h1m6 0h1h1m2 0h1h1h1m1 0h1h1m1 0h1m2 0h1h1m4 0h1m4 0h1m1 0h1h1m3 0h1h1m6 0h1h1m6 0h1m-81 1h1m1 0h1h1m15 0h1m3 0h1m2 0h1m9 0h1m1 0h1m2 0h1m2 0h1m2 0h1m3 0h1m4 0h1h1h1h1m10 0h1h1m2 0h1m3 0h1m4 0h1m8 0h1m4 0h1m-103 1h1m7 0h1h1m6 0h1m5 0h1m5 0h1m1 0h1m1 0h1m5 0h1h1h1m7 0h1m2 0h1m3 0h1m2 0h1m1 0h1m1 0h1m2 0h1m1 0h1m3 0h1h1m1 0h1m2 0h1m3 0h1h1m2 0h1m12 0h1m-101 1h1h1m3 0h1h1m4 0h1m13 0h1m5 0h1h1m1 0h1m5 0h1m5 0h1m2 0h1h1h1m1 0h1m9 0h1m1 0h1h1m-65 1h1m1 0h1h1m3 0h1m1 0h1m4 0h1m10 0h1h1m5 0h1m10 0h1m9 0h1m2 0h1m2 0h1h1m4 0h1h1m2 0h1m1 0h1m4 0h1m1 0h1m-81 1h1m2 0h1m1 0h1m5 0h1m2 0h1m10 0h1m4 0h1h1m2 0h1m1 0h1m2 0h1m3 0h1m2 0h1m1 0h1h1h1m1 0h1h1m4 0h1h1m3 0h1h1h1m2 0h1h1m3 0h1m6 0h1m1 0h1m-82 1h1m2 0h1m1 0h1m4 0h1h1m1 0h1m9 0h1h1h1h1m4 0h1m7 0h1h1m4 0h1h1m1 0h1h1h1m4 0h1m3 0h1m4 0h1m5 0h1h1m1 0h1m3 0h1m6 0h1m-87 1h1m7 0h1h1m2 0h1h1m2 0h1m2 0h1m5 0h1h1h1m3 0h1m4 0h1m4 0h1m2 0h1h1h1m5 0h1m1 0h1h1h1m2 0h1m2 0h1h1m5 0h1m1 0h1m21 0h1m-91 1h1h1h1m1 0h1m1 0h1m3 0h1m9 0h1h1m2 0h1h1h1m1 0h1m4 0h1m2 0h1m3 0h1m1 0h1h1m2 0h1m3 0h1m1 0h1m5 0h1h1m1 0h1m9 0h1m8 0h1m-81 1h1m15 0h1h1h1m2 0h1m6 0h1m4 0h1m8 0h1m4 0h1m1 0h1h1m2 0h1m2 0h1m3 0h1h1m2 0h1m8 0h1m-74 1h1h1m1 0h1h1h1m11 0h1h1m2 0h1m1 0h1h1m3 0h1h1h1m1 0h1m7 0h1m7 0h1h1m1 0h1h1h1m1 0h1m2 0h1h1m8 0h1m2 0h1m-70 1h1h1h1m5 0h1m1 0h1m9 0h1m3 0h1m2 0h1m6 0h1m6 0h1h1h1m4 0h1m8 0h1m1 0h1m-62 1h1m3 0h1h1h1m10 0h1h1m2 0h1m3 0h1h1m5 0h1m3 0h1m11 0h1m14 0h1m1 0h1m1 0h1m-64 1h1m1 0h1m1 0h1m1 0h1h1m5 0h1h1m2 0h1h1h1m3 0h1m1 0h1m5 0h1m5 0h1m1 0h1m3 0h1m2 0h1m3 0h1m5 0h1h1m-64 1h1h1m5 0h1m4 0h1m1 0h1h1h1m3 0h1h1m2 0h1m14 0h1m6 0h1m19 0h1m1 0h1m-71 1h1m2 0h1m4 0h1h1h1m3 0h1m1 0h1m1 0h1h1h1h1h1m4 0h1m16 0h1m2 0h1m8 0h1m8 0h1m14 0h1m-71 1h1m3 0h1h1m1 0h1m1 0h1m2 0h1h1m68 0h1m-92 1h1m7 0h1m1 0h1h1m3 0h1m6 0h1m3 0h1m1 0h1m1 0h1m10 0h1m8 0h1m9 0h1h1m-56 1h1m1 0h1m2 0h1m1 0h1h1m1 0h1m4 0h1m16 0h1m-34 1h1m1 0h1h1h1h1m1 0h1h1h1m1 0h1m5 0h1m1 0h1m2 0h1m2 0h1m-28 1h1m3 0h1m2 0h1m7 0h1m3 0h1h1h1m6 0h1m30 0h1m-52 1h1m1 0h1m3 0h1m1 0h1h1m34 0h1m-49 1h1m6 0h1h1m2 0h1m1 0h1h1m3 0h1m-8 1h1h1h1m-1 2h1m29 0h1m5 0h1m-43 1h1m2 1h1m4 0h1m5 0h1m-13 1h1m-10 1h1m17 0h1" stroke="#000" stroke-opacity="0.5" stroke-width="1" fill="none" filter="url(#bl)"/>
<path d="M296 447.5h1m0 1h1m-19 2h1m15 1h1m-4 1h1h1m-8 1h1m-1 1h1m-6 1h1m8 0h1m13 0h1m-22 1h1m1 0h1h1m6 0h1m-14 1h1m9 0h1m3 0h1m-6 1h1m3 0h1h1m1 0h1m-13 1h1m2 0h1m8 0h1m2 0h1m-25 1h1m2 0h1m5 0h1m5 0h1h1h1h1h1m8 0h1m-30 1h1m6 0h1m9 0h1m2 0h1m2 0h1m-20 1h1m7 0h1m1 0h1h1m-18 1h1m9 0h1m2 0h1m3 0h1h1m-18 1h1m3 0h1h1m3 0h1m4 0h1m2 0h1m10 0h1m2 0h1h1m-34 1h1m1 0h1m1 0h1h1m1 0h1m2 0h1m6 0h1h1m8 0h1m6 0h1m2 0h1m6 0h1m-45 1h1m2 0h1m1 0h1m1 0h1m1 0h1m1 0h1m2 0h1m12 0h1h1m15 0h1m-38 1h1h1m2 0h1h1m14 0h1m5 0h1h1h1m1 0h1m-37 1h1m2 0h1h1m2 0h1m1 0h1m13 0h1m3 0h1m4 0h1h1h1m-38 1h1h1h1m3 0h1m1 0h1m1 0h1h1m2 0h1m17 0h1h1h1h1m1 0h1m7 0h1m-44 1h1m3 0h1m2 0h1m18 0h1m1 0h1m2 0h1m1 0h1m4 0h1m-44 1h1m1 0h1m1 0h1m35 0h1m-40 1h1m1 0h1m5 0h1m27 0h1h1h1m3 0h1m-41 1h1m3 0h1m4 0h1h1m25 0h1m1 0h1h1h1m-8 1h1m2 0h1m-40 1h1m42 0h1m-71 1h1m23 0h1h1m4 0h1m2 0h1m24 0h1m1 0h1m3 0h1m5 0h1m-45 1h1m2 0h1m27 0h1m9 0h1m-45 1h1m1 0h1m1 0h1m35 0h1m2 0h1h1m1 0h1m-44 1h1m32 0h1m7 0h1h1m-54 1h1m7 0h1m2 0h1h1m36 0h1m6 0h1m-52 1h1m10 0h1m29 0h1h1h1h1m1 0h1m-65 1h1m17 0h1m3 0h1m6 0h1m29 0h1h1m3 0h1m3 0h1m-69 1h1m7 0h1m6 0h1m1 0h1h1m2 0h1m1 0h1m40 0h1m1 0h1m-56 1h1m6 0h1m2 0h1m39 0h1m6 0h1m-76 1h1m10 0h1m11 0h1m4 0h1m1 0h1m35 0h1m1 0h1m7 0h1m-73 1h1m27 0h1m34 0h1m-66 1h1m4 0h1m2 0h1m10 0h1h1m7 0h1m1 0h1m33 0h1h1m7 0h1m2 0h1m-81 1h1m3 0h1m7 0h1m16 0h1m3 0h1m-36 1h1m1 0h1m1 0h1m24 0h1h1m3 0h1m31 0h1m5 0h1m4 0h1m-85 1h1m13 0h1m5 0h1m17 0h1h1m28 0h1m8 0h1m-70 1h1m2 0h1m1 0h1h1h1m18 0h1m1 0h1h1m1 0h1h1m33 0h1m5 0h1m3 0h1m-79 1h1m2 0h1m1 0h1m6 0h1m6 0h1m9 0h1m2 0h1m7 0h1m24 0h1m4 0h1m2 0h1m-73 1h1m3 0h1m4 0h1m17 0h1m3 0h1m1 0h1m29 0h1m2 0h1h1m6 0h1h1m-80 1h1m21 0h1m2 0h1m3 0h1h1m5 0h1m1 0h1h1m29 0h1m1 0h1h1h1m-71 1h1m15 0h1m19 0h1m38 0h1m-75 1h1m23 0h1m1 0h1m4 0h1m6 0h1m22 0h1m3 0h1m1 0h1m5 0h1m-67 1h1m1 0h1m1 0h1m1 0h1m5 0h1m3 0h1m3 0h1m1 0h1m32 0h1h1m5 0h1m-47 1h1m5 0h1h1m4 0h1m30 0h1m1 0h1m-67 1h1m8 0h1m14 0h1m8 0h1m23 0h1m2 0h1m1 0h1m-72 1h1m11 0h1m11 0h1m14 0h1m3 0h1m5 0h1m17 0h1m3 0h1m-61 1h1h1h1m14 0h1m3 0h1m1 0h1m3 0h1m11 0h1m18 0h1h1m4 0h1m-65 1h1m2 0h1m5 0h1m3 0h1m11 0h1m1 0h1m2 0h1m12 0h1m10 0h1m3 0h1h1h1m1 0h1h1m5 0h1m-75 1h1m9 0h1m8 0h1h1m6 0h1m2 0h1h1m13 0h1m8 0h1m3 0h1m1 0h1h1h1m4 0h1h1m-67 1h1m7 0h1m9 0h1m5 0h1m29 0h1h1m1 0h1m2 0h1h1h1m-65 1h1m1 0h1m3 0h1m2 0h1m3 0h1m2 0h1m11 0h1m22 0h1m3 0h1m-56 1h1m6 0h1m1 0h1m3 0h1h1m14 0h1h1m4 0h1m14 0h1m3 0h1m2 0h1h1h1h1h1m-63 1h1h1h1m15 0h1h1m4 0h1m15 0h1m11 0h1h1m3 0h1m4 0h1m8 0h1m-60 1h1m1 0h1h1m9 0h1m7 0h1m1 0h1m1 0h1m3 0h1m11 0h1m3 0h1m-41 1h1h1m2 0h1m22 0h1m16 0h1m1 0h1m9 0h1m-65 1h1m10 0h1h1m4 0h1m3 0h1h1m1 0h1m2 0h1m11 0h1m1 0h1h1m4 0h1m3 0h1m-61 1h1m10 0h1m6 0h1m6 0h1h1m3 0h1m1 0h1h1m1 0h1m9 0h1m3 0h1m2 0h1m4 0h1m4 0h1m4 0h1m-71 1h1h1m7 0h1m14 0h1m2 0h1m1 0h1m6 0h1h1m4 0h1m3 0h1h1m1 0h1h1m5 0h1m2 0h1m2 0h1m5 0h1m5 0h1m-72 1h1m3 0h1m2 0h1m1 0h1m2 0h1m1 0h1m11 0h1m1 0h1m3 0h1m1 0h1m4 0h1m1 0h1h1m8 0h1m3 0h1m5 0h1m-56 1h1m2 0h1m5 0h1m18 0h1h1m2 0h1m12 0h1h1m1 0h1h1m11 0h1m-69 1h1m1 0h1m1 0h1m3 0h1m22 0h1h1m5 0h1m3 0h1m1 0h1h1m3 0h1m1 0h1m-49 1h1h1h1m9 0h1m1 0h1m4 0h1h1m4 0h1m4 0h1m3 0h1m1 0h1m6 0h1m9 0h1h1m10 0h1m-70 1h1m8 0h1m7 0h1m2 0h1m2 0h1m3 0h1m3 0h1m1 0h1m1 0h1m3 0h1h1m5 0h1h1h1h1m5 0h1m2 0h1h1m1 0h1m-57 1h1h1m3 0h1m1 0h1m9 0h1h1h1h1m2 0h1m1 0h1h1m1 0h1h1m1 0h1m6 0h1m1 0h1m3 0h1h1m1 0h1m3 0h1h1m10 0h1m-75 1h1m5 0h1h1h1h1h1m1 0h1m23 0h1m2 0h1m5 0h1m2 0h1m2 0h1m19 0h1m-77 1h1m9 0h1m3 0h1m4 0h1m2 0h1m5 0h1m1 0h1m5 0h1m1 0h1m1 0h1m2 0h1m4 0h1m5 0h1m6 0h1m2 0h1m11 0h1m-61 1h1m4 0h1m1 0h1h1m4 0h1m4 0h1m1 0h1m1 0h1m10 0h1m3 0h1m8 0h1m1 0h1m2 0h1m2 0h1h1h1m1 0h1m-69 1h1m1 0h1m5 0h1m4 0h1m12 0h1m1 0h1m4 0h1m5 0h1m3 0h1m2 0h1m5 0h1m2 0h1m1 0h1m1 0h1m15 0h1m-72 1h1m2 0h1h1h1m4 0h1h1h1m1 0h1m5 0h1m1 0h1m4 0h1m2 0h1m2 0h1m2 0h1m1 0h1m3 0h1m5 0h1m2 0h1m7 0h1m10 0h1m-79 1h1m5 0h1m1 0h1h1h1m5 0h1m1 0h1m2 0h1h1m3 0h1m8 0h1m1 0h1h1m3 0h1h1m1 0h1m3 0h1m1 0h1m1 0h1m10 0h1m4 0h1m1 0h1m-74 1h1h1m6 0h1h1m6 0h1m10 0h1m1 0h1m8 0h1h1m1 0h1m6 0h1m2 0h1m2 0h1m4 0h1m4 0h1m2 0h1m1 0h1m2 0h1h1h1m-73 1h1m2 0h1h1m2 0h1m2 0h1m6 0h1h1m1 0h1h1m3 0h1m1 0h1m1 0h1m2 0h1h1h1h1m6 0h1m2 0h1h1m9 0h1m1 0h1m4 0h1m6 0h1m-65 1h1m8 0h1h1m6 0h1m3 0h1m8 0h1h1h1h1h1h1h1m1 0h1m1 0h1m1 0h1m3 0h1h1h1h1h1m1 0h1h1m8 0h1m3 0h1m-62 1h1m2 0h1m1 0h1m4 0h1h1m6 0h1m8 0h1h1m6 0h1h1m3 0h1h1m1 0h1m2 0h1m2 0h1h1m-61 1h1m1 0h1h1h1m7 0h1m3 0h1m1 0h1m3 0h1m1 0h1m11 0h1m2 0h1m1 0h1m7 0h1m1 0h1h1m2 0h1m10 0h1m-64 1h1m10 0h1m9 0h1m1 0h1m2 0h1m6 0h1m2 0h1h1m5 0h1h1m2 0h1m1 0h1m3 0h1m4 0h1m6 0h1m-68 1h1h1h1m4 0h1m2 0h1m2 0h1m8 0h1m1 0h1h1m2 0h1m1 0h1h1h1m3 0h1h1h1m2 0h1h1m2 0h1h1h1m4 0h1h1m3 0h1m5 0h1m2 0h1m-69 1h1h1m5 0h1m7 0h1m6 0h1m2 0h1m7 0h1m2 0h1m7 0h1m8 0h1m3 0h1m2 0h1m1 0h1m3 0h1m2 0h1m1 0h1m2 0h1m2 0h1m-80 1h1m3 0h1m17 0h1m1 0h1m7 0h1m2 0h1m6 0h1h1h1h1m1 0h1m2 0h1m1 0h1m1 0h1m8 0h1m6 0h1m3 0h1m-79 1h1m8 0h1m1 0h1m12 0h1m1 0h1h1m5 0h1m11 0h1h1m2 0h1m1 0h1h1m2 0h1m2 0h1m2 0h1m2 0h1m5 0h1h1m1 0h1m2 0h1m4 0h1m-77 1h1m2 0h1m1 0h1m5 0h1h1m3 0h1m1 0h1m2 0h1m4 0h1m7 0h1m9 0h1m5 0h1m2 0h1h1m11 0h1m-65 1h1m10 0h1m1 0h1m2 0h1m1 0h1h1m5 0h1m6 0h1m2 0h1m4 0h1m1 0h1m16 0h1m3 0h1m3 0h1m-68 1h1m3 0h1m7 0h1m2 0h1m2 0h1m3 0h1m9 0h1m7 0h1m1 0h1m2 0h1m2 0h1m22 0h1m-76 1h1m2 0h1m4 0h1m26 0h1m13 0h1m5 0h1m1 0h1m1 0h1h1m2 0h1m-62 1h1m2 0h1m6 0h1m3 0h1m11 0h1m1 0h1m1 0h1m4 0h1m8 0h1m9 0h1m3 0h1m3 0h1m4 0h1m-69 1h1m10 0h1m6 0h1m2 0h1m1 0h1m20 0h1m1 0h1h1m1 0h1m1 0h1m3 0h1m11 0h1m1 0h1m-63 1h1m1 0h1m3 0h1m2 0h1m3 0h1m1 0h1m9 0h1m13 0h1m6 0h1m1 0h1m-60 1h1h1m4 0h1h1m4 0h1m8 0h1m3 0h1m15 0h1m8 0h1m5 0h1m2 0h1h1m1 0h1m-59 1h1m3 0h1m9 0h1m1 0h1h1h1m5 0h1m21 0h1m1 0h1m-48 1h1m7 0h1m29 0h1m21 0h1m-61 1h1m1 0h1m13 0h1m4 0h1m14 0h1m20 0h1m2 0h1m-62 1h1m3 0h1m48 0h1m6 0h1m-54 1h1m4 0h1m-8 1h1m4 0h1h1m28 0h1m-39 1h1m1 0h1m6 0h1h1m2 0h1m6 0h1m39 0h1m-61 1h1m2 0h1m1 0h1m4 0h1h1h1m2 0h1m2 0h1m-22 1h1m3 0h1m2 0h1m3 0h1m4 0h1m2 0h1h1m-21 1h1m8 0h1m-6 1h1h1m2 0h1m-4 1h1h1m1 0h1m9 0h1m3 0h1m-27 1h1m9 0h1m12 0h1m-5 1h1m-4 1h1m42 0h1m-47 1h1m5 0h1m-7 1h1m1 0h1m-4 1h1m2 1h1m-8 1h1m11 1h1" stroke="#000" stroke-opacity="0.68" stroke-width="1" fill="none" filter="url(#bl)"/>
<path d="M292 455.5h1m3 2h1m-10 1h1m2 0h1m1 0h1m-11 1h1m7 0h1m2 0h1m-11 1h1m4 0h1m6 0h1h1h1m-22 1h1m10 0h1m5 0h1m1 0h1m-6 1h1h1h1h1h1m1 0h1m-21 1h1m4 0h1m4 0h1m4 0h1h1m1 0h1h1h1m1 0h1m2 0h1h1m10 0h1m-38 1h1m3 0h1m2 0h1h1h1m5 0h1m1 0h1m1 0h1m2 0h1h1m-20 1h1m4 0h1m1 0h1h1m6 0h1h1h1h1m1 0h1h1h1m2 0h1m-26 1h1m1 0h1m1 0h1h1m3 0h1h1h1h1m3 0h1h1h1m2 0h1h1m1 0h1m3 0h1m-35 1h1m2 0h1m4 0h1m3 0h1m1 0h1h1h1m1 0h1h1h1m5 0h1h1m1 0h1m-30 1h1m3 0h1h1m1 0h1m8 0h1m3 0h1h1m2 0h1h1m1 0h1h1m1 0h1m-28 1h1m19 0h1h1h1m1 0h1m4 0h1m-34 1h1m1 0h1m2 0h1m3 0h1m2 0h1h1m3 0h1m6 0h1m4 0h1m1 0h1m1 0h1m-32 1h1h1m1 0h1m1 0h1h1m6 0h1m2 0h1m3 0h1m1 0h1m1 0h1m1 0h1h1h1h1h1m-37 1h1m3 0h1m4 0h1m2 0h1h1m3 0h1m5 0h1m9 0h1h1m3 0h1m-41 1h1m1 0h1m7 0h1m10 0h1m6 0h1h1m3 0h1h1m1 0h1h1m-40 1h1m7 0h1m1 0h1m6 0h1m12 0h1m2 0h1m2 0h1h1m2 0h1m-34 1h1h1m4 0h1h1m1 0h1m5 0h1m10 0h1h1h1h1m6 0h1m-46 1h1m4 0h1m6 0h1m18 0h1m4 0h1m2 0h1m-32 1h1h1h1m1 0h1m4 0h1m18 0h1m1 0h1m1 0h1m-36 1h1m2 0h1h1h1m2 0h1m25 0h1m-36 1h1h1m1 0h1m6 0h1m15 0h1m6 0h1h1m1 0h1m1 0h1m-42 1h1m5 0h1m30 0h1m1 0h1m-38 1h1h1h1m1 0h1m2 0h1m26 0h1m-38 1h1m3 0h1h1h1h1m3 0h1m-8 1h1h1m2 0h1m4 0h1m1 0h1m19 0h1h1m5 0h1m-45 1h1m4 0h1h1h1h1h1h1m23 0h1h1m3 0h1m1 0h1m6 0h1m-44 1h1m1 0h1h1h1h1m24 0h1m11 0h1m-48 1h1m4 0h1m2 0h1m1 0h1m25 0h1h1h1h1h1m1 0h1m-70 1h1m5 0h1m21 0h1m1 0h1m1 0h1m2 0h1h1m28 0h1h1m17 0h1m-56 1h1m29 0h1m2 0h1h1m7 0h1m-81 1h1m38 0h1m2 0h1m1 0h1m1 0h1m21 0h1h1h1m3 0h1m-67 1h1m26 0h1m5 0h1m30 0h1m1 0h1h1m1 0h1m-72 1h1m33 0h1h1h1h1m1 0h1m19 0h1m2 0h1h1m2 0h1m4 0h1m-69 1h1m21 0h1m3 0h1h1m5 0h1h1h1m22 0h1h1h1m1 0h1h1m6 0h1m-66 1h1m7 0h1m11 0h1m7 0h1h1m1 0h1h1m16 0h1m6 0h1m4 0h1m-46 1h1m3 0h1m2 0h1m1 0h1m2 0h1m23 0h1m3 0h1m-42 1h1m3 0h1m2 0h1h1h1h1m3 0h1m4 0h1m22 0h1m-34 1h1h1h1m25 0h1m1 0h1m3 0h1m-57 1h1m19 0h1m3 0h1h1h1h1m2 0h1m17 0h1h1m4 0h1m2 0h1m3 0h1m-81 1h1m10 0h1m28 0h1h1h1m3 0h1h1m4 0h1m8 0h1m1 0h1m1 0h1m1 0h1m1 0h1m2 0h1m1 0h1m-50 1h1m14 0h1m1 0h1h1m2 0h1h1h1m12 0h1m2 0h1m1 0h1m5 0h1m1 0h1h1h1m-59 1h1m1 0h1m9 0h1m4 0h1m3 0h1h1m1 0h1h1m2 0h1m14 0h1h1m1 0h1m1 0h1h1m3 0h1h1m2 0h1m2 0h1m-69 1h1m8 0h1m19 0h1m21 0h1m3 0h1h1h1m-61 1h1m7 0h1m25 0h1h1m1 0h1h1m5 0h1m5 0h1h1m2 0h1m3 0h1h1m2 0h1h1m-70 1h1m13 0h1m20 0h1h1m3 0h1h1h1h1h1m2 0h1m5 0h1m1 0h1m1 0h1m1 0h1m4 0h1m6 0h1m-58 1h1m14 0h1m9 0h1h1m1 0h1m4 0h1m4 0h1m12 0h1m1 0h1h1m3 0h1m-49 1h1m7 0h1m7 0h1h1h1m1 0h1h1m1 0h1h1m2 0h1m1 0h1h1h1m4 0h1h1m2 0h1m3 0h1m-28 1h1m1 0h1h1m4 0h1h1h1m1 0h1m1 0h1m6 0h1m7 0h1m-61 1h1h1h1m9 0h1m4 0h1m9 0h1m3 0h1m1 0h1m6 0h1m2 0h1h1m2 0h1m7 0h1m3 0h1m-51 1h1m16 0h1h1h1m1 0h1m1 0h1m1 0h1m3 0h1h1m4 0h1m5 0h1h1m2 0h1m3 0h1m-47 1h1m12 0h1m1 0h1m5 0h1m1 0h1h1h1m1 0h1m4 0h1h1m1 0h1h1h1m1 0h1m4 0h1m-34 1h1m1 0h1m4 0h1h1m7 0h1m2 0h1h1m4 0h1h1h1m-50 1h1m14 0h1m10 0h1m2 0h1m3 0h1m3 0h1m5 0h1m4 0h1m2 0h1m3 0h1m-51 1h1m7 0h1h1m9 0h1m2 0h1m4 0h1h1m10 0h1h1m3 0h1m6 0h1m-44 1h1m6 0h1m4 0h1m14 0h1h1m1 0h1h1h1m1 0h1h1m5 0h1m-50 1h1m1 0h1m6 0h1m5 0h1m1 0h1m8 0h1m5 0h1m1 0h1h1h1h1m17 0h1m-44 1h1m3 0h1m1 0h1m3 0h1h1m1 0h1h1m1 0h1m6 0h1h1m5 0h1h1h1m2 0h1m-38 1h1m5 0h1m2 0h1m3 0h1m5 0h1h1m1 0h1m1 0h1m1 0h1m-43 1h1m7 0h1m1 0h1m15 0h1m4 0h1m4 0h1h1m6 0h1h1h1m-16 1h1h1m3 0h1m4 0h1h1m5 0h1m-48 1h1m4 0h1h1m8 0h1m9 0h1m4 0h1m3 0h1m2 0h1m4 0h1m2 0h1m1 0h1m-54 1h1m5 0h1m2 0h1m7 0h1m2 0h1m2 0h1m6 0h1m1 0h1h1h1h1m1 0h1h1h1h1h1m1 0h1h1m1 0h1m-45 1h1m2 0h1m12 0h1m2 0h1m12 0h1m3 0h1h1m4 0h1h1m1 0h1m3 0h1m2 0h1m-51 1h1h1m2 0h1m2 0h1m14 0h1m1 0h1m1 0h1h1h1m2 0h1m2 0h1m4 0h1m1 0h1m2 0h1m5 0h1m-59 1h1m3 0h1m6 0h1m5 0h1m2 0h1m7 0h1m4 0h1h1m4 0h1m2 0h1m4 0h1m1 0h1m1 0h1h1m6 0h1m-62 1h1m2 0h1m3 0h1h1m2 0h1m4 0h1m2 0h1m3 0h1m8 0h1m9 0h1m9 0h1h1m4 0h1m7 0h1m6 0h1m-77 1h1m2 0h1m8 0h1m1 0h1h1m16 0h1h1m3 0h1m2 0h1m3 0h1m7 0h1m10 0h1m-60 1h1h1m2 0h1m1 0h1m1 0h1m2 0h1m6 0h1m12 0h1m3 0h1h1m7 0h1h1m2 0h1m7 0h1h1m-70 1h1m6 0h1m3 0h1h1m5 0h1h1h1h1m2 0h1m3 0h1m28 0h1m9 0h1h1m-59 1h1m1 0h1m1 0h1m4 0h1m4 0h1m2 0h1m3 0h1m8 0h1m1 0h1m17 0h1m-48 1h1m5 0h1m1 0h1m5 0h1m1 0h1m11 0h1m8 0h1m1 0h1m2 0h1m2 0h1m8 0h1m-58 1h1m4 0h1h1m1 0h1m4 0h1h1m18 0h1m5 0h1h1m5 0h1h1m3 0h1m3 0h1m2 0h1m-63 1h1m6 0h1h1m2 0h1m2 0h1m2 0h1m2 0h1m8 0h1m12 0h1m8 0h1m7 0h1m2 0h1m-63 1h1m10 0h1m5 0h1m1 0h1m2 0h1m8 0h1h1m3 0h1m1 0h1m1 0h1m1 0h1m3 0h1m1 0h1h1h1m2 0h1m-53 1h1h1m1 0h1m4 0h1h1m1 0h1h1m3 0h1h1h1m2 0h1m2 0h1m3 0h1m18 0h1m5 0h1m6 0h1m1 0h1m-56 1h1m8 0h1h1m5 0h1m14 0h1m5 0h1m2 0h1m6 0h1m7 0h1m-62 1h1m1 0h1m3 0h1m4 0h1m3 0h1m1 0h1h1m2 0h1m4 0h1m30 0h1m1 0h1m1 0h1h1h1m-65 1h1m2 0h1m2 0h1h1h1m2 0h1m3 0h1h1m1 0h1m3 0h1h1m20 0h1h1h1h1m5 0h1m1 0h1m9 0h1m-71 1h1m2 0h1m3 0h1h1h1m4 0h1m4 0h1h1m1 0h1h1m1 0h1m1 0h1m6 0h1m6 0h1h1m-39 1h1m3 0h1h1m2 0h1m4 0h1h1m1 0h1h1h1h1m2 0h1m4 0h1m14 0h1m1 0h1m15 0h1m2 0h1m-66 1h1m3 0h1m1 0h1m1 0h1h1m3 0h1m3 0h1h1h1h1m2 0h1m5 0h1m-30 1h1m2 0h1m3 0h1h1h1m1 0h1m3 0h1m1 0h1m33 0h1m-51 1h1m1 0h1h1m4 0h1m2 0h1m2 0h1h1m3 0h1m23 0h1m22 0h1m-61 1h1h1m3 0h1h1h1h1m1 0h1m5 0h1m-22 1h1m5 0h1h1h1m3 0h1m1 0h1m3 0h1h1m23 0h1m8 0h1m-51 1h1m2 0h1h1m2 0h1h1m1 0h1h1h1h1m1 0h1m2 0h1m4 0h1m21 0h1m-47 1h1m1 0h1m2 0h1m1 0h1h1h1m1 0h1h1h1m-9 1h1m2 0h1m2 0h1h1h1h1m27 0h1m-44 1h1m1 0h1h1h1m3 0h1h1m2 0h1h1m-12 1h1h1m1 0h1h1m1 0h1m5 0h1m-18 1h1m2 1h1m1 0h1m6 0h1h1m-7 1h1m1 0h1m3 0h1m-7 1h1m4 0h1m0 1h1h1h1m2 0h1m-8 1h1m3 1h1" stroke="#000" stroke-opacity="0.82" stroke-width="1" fill="none" filter="url(#bl)"/>
<path d="M284 456.5h1m4 5h1h1m1 0h1m-9 1h1m2 0h1m-1 1h1h1m4 0h1m6 0h1m-13 1h1h1m2 0h1m1 0h1m1 0h1m-14 1h1h1m1 0h1m5 0h1h1h1m-8 1h1h1m5 0h1h1m-11 1h1m1 0h1m3 0h1m3 0h1h1m1 0h1m-16 1h1h1h1h1h1h1h1m1 0h1h1h1m3 0h1m-19 1h1m3 0h1m1 0h1h1h1h1h1h1h1h1h1h1h1h1m-20 1h1m2 0h1h1m1 0h1h1m2 0h1h1h1m1 0h1h1h1h1h1h1m2 0h1m-18 1h1h1h1h1h1h1m1 0h1h1m1 0h1h1h1m1 0h1m1 0h1m1 0h1m-26 1h1m1 0h1m1 0h1h1m2 0h1h1h1m1 0h1h1h1h1h1m1 0h1h1h1h1h1h1m-26 1h1m1 0h1m2 0h1m2 0h1h1h1h1h1h1h1m1 0h1h1h1h1h1h1m2 0h1h1h1m5 0h1m-34 1h1m1 0h1m2 0h1h1h1h1h1m1 0h1h1h1h1h1h1h1h1h1h1h1h1m1 0h1h1m2 0h1m3 0h1m-31 1h1h1h1h1m2 0h1m1 0h1h1h1h1h1m1 0h1h1h1h1h1h1h1h1h1h1m4 0h1h1h1m-33 1h1m1 0h1m1 0h1h1h1h1h1h1h1h1h1h1h1h1h1h1h1h1h1h1m1 0h1h1h1m3 0h1m1 0h1m-30 1h1m1 0h1h1h1h1m1 0h1h1h1h1h1h1h1h1h1h1h1h1h1h1h1h1m1 0h1m1 0h1m4 0h1m-32 1h1h1m1 0h1h1h1h1h1h1h1h1h1h1h1h1h1h1h1h1h1h1h1h1h1h1h1h1m-29 1h1m1 0h1h1h1m1 0h1h1h1h1h1h1h1h1h1h1h1h1h1h1h1m1 0h1h1h1h1h1m-31 1h1m2 0h1h1h1h1h1h1h1h1h1h1h1h1h1h1h1h1h1h1h1h1h1h1h1h1h1h1h1h1h1h1m-29 1h1m1 0h1h1h1h1h1h1h1h1h1h1h1h1h1h1h1h1h1h1h1h1h1h1h1h1h1h1m-28 1h1h1m1 0h1h1h1h1h1h1h1h1h1h1h1h1h1h1h1h1h1h1h1h1h1h1h1h1h1h1m6 0h1m-39 1h1h1m1 0h1h1h1h1m1 0h1m1 0h1h1h1h1h1h1h1h1h1h1h1h1h1h1h1h1h1h1h1m2 0h1h1m-30 1h1m1 0h1h1h1h1h1h1h1h1h1h1h1h1h1h1h1h1h1h1h1h1h1m2 0h1h1h1m-33 1h1m4 0h1h1h1h1h1h1h1h1h1h1h1h1h1h1h1h1h1h1h1h1h1h1h1h1m1 0h1h1h1m-32 1h1m1 0h1m1 0h1h1h1h1h1h1h1h1h1h1h1h1h1h1h1h1h1h1h1h1h1h1h1h1h1m-34 1h1m4 0h1m2 0h1h1h1h1h1h1h1h1h1h1h1h1h1h1h1h1h1h1h1h1h1h1h1h1h1h1h1h1m-32 1h1h1h1h1h1h1h1h1h1h1h1h1h1h1h1h1h1h1h1h1h1h1h1h1h1h1m1 0h1h1m3 0h1m-37 1h1m2 0h1m1 0h1m1 0h1m1 0h1h1h1h1h1h1h1h1h1h1h1h1h1h1h1h1h1h1h1h1h1m3 0h1m4 0h1m-35 1h1h1h1h1h1h1h1h1h1h1h1h1h1h1h1h1h1h1h1h1h1h1h1h1h1m1 0h1h1h1h1m-28 1h1m1 0h1h1h1h1h1h1h1h1h1h1h1h1h1h1h1h1h1h1h1m1 0h1h1m2 0h1h1m3 0h1m-35 1h1m4 0h1h1h1h1h1h1h1h1h1h1h1h1h1h1h1h1h1h1h1h1h1m-27 1h1h1m2 0h1m2 0h1h1h1h1h1h1h1h1h1h1h1h1h1h1h1h1m1 0h1h1h1h1h1m2 0h1m-29 1h1h1h1h1h1h1h1h1h1h1h1h1h1h1h1h1h1h1h1h1h1h1h1m1 0h1h1h1m-30 1h1m1 0h1m1 0h1h1h1h1m1 0h1h1h1h1h1h1h1h1h1h1h1h1h1h1h1h1h1h1h1h1h1m2 0h1m-32 1h1h1h1m1 0h1h1h1h1h1h1h1h1h1h1h1h1h1h1h1h1h1h1h1h1h1m3 0h1m-31 1h1m4 0h1h1m1 0h1h1h1h1h1h1h1h1h1h1h1h1h1h1h1h1h1m2 0h1h1m-28 1h1m4 0h1h1h1h1m1 0h1h1h1h1h1h1h1h1m1 0h1m1 0h1m1 0h1m1 0h1m1 0h1m-33 1h1m6 0h1m3 0h1h1h1h1h1h1h1h1h1h1m1 0h1m1 0h1h1m1 0h1m1 0h1m1 0h1m-26 1h1m2 0h1h1h1h1m1 0h1h1h1h1h1h1h1h1h1m2 0h1m1 0h1m2 0h1m1 0h1m-30 1h1h1h1h1h1h1h1h1h1h1h1m1 0h1h1h1h1h1h1h1h1m1 0h1h1h1m3 0h1m1 0h1m-32 1h1m6 0h1h1h1h1h1m1 0h1h1h1h1m3 0h1h1m1 0h1h1h1m-19 1h1m2 0h1h1h1h1m2 0h1m1 0h1m3 0h1m1 0h1h1m-21 1h1h1h1h1m3 0h1h1m1 0h1h1h1h1h1h1h1h1h1h1m-17 1h1m2 0h1h1m1 0h1m3 0h1h1m1 0h1m-41 1h1m25 0h1h1h1h1m3 0h1m1 0h1m1 0h1m1 0h1h1h1m2 0h1m-24 1h1m1 0h1m2 0h1m1 0h1h1h1m1 0h1h1m2 0h1h1m3 0h1h1m-17 1h1h1m3 0h1m1 0h1h1m1 0h1h1m1 0h1m-20 1h1m4 0h1m8 0h1m-11 1h1h1m1 0h1m1 0h1m1 0h1m4 0h1m-11 1h1h1m9 0h1m4 0h1m-36 1h1m20 0h1h1m2 0h1m2 0h1m-20 1h1m17 0h1m-7 1h1m1 0h1m9 0h1m-34 1h1m19 0h1m-11 1h1m12 0h1m3 0h1m-32 2h1m20 0h1h1h1m-14 1h1h1m10 0h1m10 0h1m-1 1h1m-8 1h1m-41 1h1m7 1h1m14 0h1m25 0h1m-23 1h1h1m12 0h1m-46 1h1m18 0h1m30 0h1m-46 1h1m23 0h1m12 0h1m2 0h1m-46 1h1m12 0h1m11 0h1m8 0h1m-36 1h1h1h1m2 0h1m5 0h1m51 0h1m-64 1h1h1m1 0h1m4 0h1m-12 1h1h1h1m2 0h1m1 0h1h1h1m3 0h1m9 0h1m-24 1h1m5 0h1m2 0h1m2 0h1m19 0h1m-34 1h1m1 0h1m1 0h1h1m1 0h1h1h1h1m28 0h1m-38 1h1h1m2 0h1m2 0h1h1m4 0h1m-16 1h1m1 0h1m2 0h1h1h1h1h1h1h1m34 0h1m-51 1h1m4 0h1h1m1 0h1h1m3 0h1m40 0h1m-53 1h1m1 0h1m5 0h1m2 0h1m-8 1h1h1m2 0h1h1h1m-11 1h1m3 0h1m1 0h1h1h1h1m2 0h1m5 0h1m-17 1h1m2 0h1m3 0h1h1m-10 1h1m3 0h1m2 0h1h1m1 0h1m1 0h1m-12 1h1m3 0h1m6 0h1m-14 1h1m4 0h1h1m4 0h1m4 0h1m-15 1h1m4 0h1h1m-9 1h1m7 0h1m4 0h1m-6 1h1m36 0h1m-39 1h1m-4 1h1m2 0h1m6 0h1m-11 1h1m-3 1h1m2 0h1h1m-2 2h1m-1 1h1" stroke="#000" stroke-opacity="0.95" stroke-width="1" fill="none" filter="url(#bl)"/>
<rect x="46.60" y="440.40" width="129.60" height="131.00" fill="none" stroke="#000" stroke-width="3.2"/>
<rect x="192.90" y="440.40" width="129.70" height="131.00" fill="none" stroke="#000" stroke-width="3.2"/>
<path d="M53.0 572.5v2.6M60.0 572.5v2.6M78.0 572.5v2.6M85.9 572.5v2.6M102.9 572.5v2.6M110.9 572.5v2.6M128.9 572.5v2.6M136.9 572.5v2.6M153.8 572.5v2.6M161.8 572.5v2.6M45.5 561.1h-2.4M45.5 553.1h-2.4M45.5 535.2h-2.4M45.5 527.3h-2.4M45.5 510.4h-2.4M45.5 502.4h-2.4M45.5 484.5h-2.4M45.5 476.6h-2.4M45.5 459.7h-2.4M45.5 451.7h-2.4" stroke="#000" stroke-width="1.6" stroke-opacity="0.85"/>
<path d="M199.3 572.5v2.6M206.3 572.5v2.6M224.3 572.5v2.6M232.3 572.5v2.6M249.3 572.5v2.6M257.3 572.5v2.6M275.2 572.5v2.6M283.2 572.5v2.6M300.2 572.5v2.6M308.2 572.5v2.6M191.8 561.1h-2.4M191.8 553.1h-2.4M191.8 535.2h-2.4M191.8 527.3h-2.4M191.8 510.4h-2.4M191.8 502.4h-2.4M191.8 484.5h-2.4M191.8 476.6h-2.4M191.8 459.7h-2.4M191.8 451.7h-2.4" stroke="#000" stroke-width="1.6" stroke-opacity="0.85"/>
<line x1="105.2" y1="438.8" x2="105.2" y2="573" stroke="#000" stroke-width="3"/>
<line x1="45" y1="515" x2="177.8" y2="515" stroke="#000" stroke-width="3"/>
<line x1="252" y1="438.8" x2="252" y2="573" stroke="#000" stroke-width="3"/>
<line x1="191.3" y1="515" x2="324.2" y2="515" stroke="#000" stroke-width="3"/>
<text x="58" y="460.8" font-size="17" stroke="#000" stroke-width="0.55">0.1</text>
<text x="168.2" y="460.8" font-size="17" text-anchor="end" stroke="#000" stroke-width="0.55">0</text>
<text x="167.6" y="567.3" font-size="17" text-anchor="end" stroke="#000" stroke-width="0.55">0.2</text>
<text x="205" y="460.8" font-size="17" stroke="#000" stroke-width="0.55">1.8</text>
<text x="319.6" y="460.8" font-size="17" text-anchor="end" stroke="#000" stroke-width="0.55">62</text>
<text x="319.8" y="567.3" font-size="17" text-anchor="end" stroke="#000" stroke-width="0.55">17.3</text>
<line x1="23.3" y1="440.2" x2="23.3" y2="477.9" stroke="#000" stroke-width="2.6"/>
<path d="M23.3 430.8L28.5 445.2L23.3 442.2L18.1 445.2Z" fill="#000"/>
<text x="27.5" y="535" font-size="17" textLength="39" lengthAdjust="spacingAndGlyphs" transform="rotate(-90 27.5 535)" stroke="#000" stroke-width="0.6">IFN-γ</text>
<line x1="23.6" y1="556.7" x2="23.6" y2="598.1" stroke="#000" stroke-width="2.8"/>
<line x1="22.2" y1="596.7" x2="142.5" y2="596.7" stroke="#000" stroke-width="2.8"/>
<text x="160.8" y="605" font-size="17" textLength="48" lengthAdjust="spacingAndGlyphs" stroke="#000" stroke-width="0.6">TNF-α</text>
<line x1="227" y1="596.8" x2="319.20000000000005" y2="596.8" stroke="#000" stroke-width="2.6"/>
<path d="M329.1 596.8L314.20000000000005 592.1999999999999L317.20000000000005 596.8L314.20000000000005 601.4Z" fill="#000"/>
<path d="M59.4 784.5 L62.8 778.1 L64.6 757.9 L65.9 730.9 L66.9 704.0 L67.8 683.7 L68.9 666.2 L70.0 662.1 L71.3 667.5 L72.7 683.7 L74.0 710.7 L75.4 737.7 L77.0 747.1 L78.3 764.6 L80.3 778.1 L83.7 783.5 L87.8 784.5Z" fill="#b0b0b0" stroke="#000" stroke-width="1.3" stroke-linejoin="round"/>
<path d="M203.7 784.5 L206.2 780.8 L208.1 765.4 L210.0 736.5 L211.9 707.7 L213.3 680.8 L214.6 669.2 L217.1 663.5 L219.0 675.0 L221.0 688.5 L222.9 701.9 L224.8 715.4 L227.3 728.8 L230.6 738.5 L235.4 744.2 L241.2 747.1 L246.0 751.0 L250.8 754.8 L256.5 758.7 L261.3 762.5 L266.2 769.2 L270.0 776.0 L273.8 782.7 L276.7 784.5Z" fill="#b0b0b0" stroke="#000" stroke-width="1.3" stroke-linejoin="round"/>
<rect x="45.80" y="655.10" width="129.90" height="131.10" fill="none" stroke="#000" stroke-width="3.2"/>
<rect x="190.40" y="655.10" width="130.30" height="131.10" fill="none" stroke="#000" stroke-width="3.2"/>
<path d="M52.2 787.3v2.6M59.2 787.3v2.6M77.2 787.3v2.6M85.2 787.3v2.6M102.2 787.3v2.6M110.2 787.3v2.6M128.3 787.3v2.6M136.3 787.3v2.6M153.3 787.3v2.6M161.3 787.3v2.6M44.7 775.9h-2.4M44.7 767.9h-2.4M44.7 750.0h-2.4M44.7 742.0h-2.4M44.7 725.1h-2.4M44.7 717.2h-2.4M44.7 699.3h-2.4M44.7 691.3h-2.4M44.7 674.4h-2.4M44.7 666.4h-2.4" stroke="#000" stroke-width="1.6" stroke-opacity="0.85"/>
<path d="M196.8 787.3v2.6M203.9 787.3v2.6M221.9 787.3v2.6M230.0 787.3v2.6M247.0 787.3v2.6M255.0 787.3v2.6M273.1 787.3v2.6M281.1 787.3v2.6M298.2 787.3v2.6M306.2 787.3v2.6M189.3 775.9h-2.4M189.3 767.9h-2.4M189.3 750.0h-2.4M189.3 742.0h-2.4M189.3 725.1h-2.4M189.3 717.2h-2.4M189.3 699.3h-2.4M189.3 691.3h-2.4M189.3 674.4h-2.4M189.3 666.4h-2.4" stroke="#000" stroke-width="1.6" stroke-opacity="0.85"/>
<line x1="95" y1="733.6" x2="143.6" y2="733.6" stroke="#000" stroke-width="2.6"/>
<text x="119.2" y="728.3" font-size="17" text-anchor="middle" stroke="#000" stroke-width="0.55">0.4</text>
<line x1="241.7" y1="733.6" x2="289.4" y2="733.6" stroke="#000" stroke-width="2.6"/>
<text x="263.2" y="726.8" font-size="17" text-anchor="middle" stroke="#000" stroke-width="0.55">33.8</text>
<line x1="24.2" y1="657.0" x2="24.2" y2="699.5" stroke="#000" stroke-width="2.6"/>
<path d="M24.2 647.5L29.4 662.0L24.2 659.0L19.0 662.0Z" fill="#000"/>
<text x="30.7" y="764" font-size="17" textLength="48.4" lengthAdjust="spacingAndGlyphs" transform="rotate(-90 30.7 764)" stroke="#000" stroke-width="0.6"># cells</text>
<line x1="24" y1="781.7" x2="24" y2="815.2" stroke="#000" stroke-width="2.8"/>
<line x1="22.6" y1="813.8" x2="134.2" y2="813.8" stroke="#000" stroke-width="2.8"/>
<text x="152.2" y="820.5" font-size="17" textLength="59.2" lengthAdjust="spacingAndGlyphs" stroke="#000" stroke-width="0.6">CD107a</text>
<line x1="231" y1="815.2" x2="320.0" y2="815.2" stroke="#000" stroke-width="2.6"/>
<path d="M329.4 815.2L315.0 810.4000000000001L318.0 815.2L315.0 820.0Z" fill="#000"/>
<path d="M140 884.5h1m1 1h1m-12 1h1m3 0h1m-6 1h1m-12 2h1m5 0h1h1m21 1h1m-29 1h1h1m1 0h1m3 0h1m22 0h1m-43 1h1m7 0h1h1m6 0h1m7 0h1m10 0h1m4 0h1m-41 1h1m10 0h1m8 0h1m4 0h1m1 0h1m1 0h1m1 0h1m3 0h1m3 0h1m-33 1h1m8 0h1m8 0h1h1m1 0h1m1 0h1h1h1m1 0h1h1m-30 1h1m9 0h1m5 0h1m8 0h1m2 0h1m5 0h1m7 0h1h1m-38 1h1m2 0h1m6 0h1m4 0h1m1 0h1m2 0h1m1 0h1m3 0h1h1h1m1 0h1m4 0h1m14 0h1m-65 1h1m13 0h1m2 0h1m8 0h1m7 0h1m4 0h1m-34 1h1m1 0h1m10 0h1h1m6 0h1m3 0h1h1m1 0h1m5 0h1h1h1m2 0h1h1m4 0h1m-37 1h1m2 0h1m4 0h1m6 0h1h1m1 0h1m3 0h1m8 0h1m1 0h1m-43 1h1m5 0h1m13 0h1h1m3 0h1m1 0h1m1 0h1m2 0h1h1h1m2 0h1m7 0h1m-28 1h1h1m5 0h1h1m2 0h1m3 0h1m-36 1h1m2 0h1m4 0h1m3 0h1h1m7 0h1m1 0h1m3 0h1m2 0h1m2 0h1h1m5 0h1m-32 1h1m1 0h1m7 0h1m4 0h1m2 0h1m2 0h1m2 0h1h1m1 0h1h1m1 0h1h1m-40 1h1m19 0h1h1h1m2 0h1m1 0h1m1 0h1m-21 1h1m1 0h1h1m4 0h1m6 0h1h1m1 0h1m1 0h1m1 0h1m2 0h1m2 0h1m-39 1h1m4 0h1m26 0h1m8 0h1m-37 1h1m5 0h1h1m17 0h1h1h1m6 0h1m5 0h1m11 0h1m-30 1h1m2 0h1m13 0h1m1 0h1m-50 1h1m13 0h1m3 0h1m5 0h1m14 0h1m-21 1h1m2 0h1m3 0h1m3 0h1m-10 1h1m24 0h1m-47 1h1m10 0h1m11 0h1m1 0h1h1h1m15 0h1m-27 1h1m3 0h1m17 0h1m1 1h1m-38 1h1m6 0h1m22 0h1m-33 1h1m28 0h1m14 0h1h1m-46 1h1m17 0h1m12 0h1m-26 1h1h1m32 0h1m-52 1h1m12 0h1h1m1 0h1h1m7 0h1m8 0h1m20 0h1m-50 1h1m10 0h1h1m2 0h1m2 0h1m7 0h1m14 0h1m1 0h1m-49 1h1m1 0h1m1 0h1m4 0h1m1 0h1h1m7 0h1h1m2 0h1h1h1m11 0h1m15 0h1m-49 1h1m3 0h1m18 0h1m11 0h1h1m3 0h1m6 0h1m-52 1h1m4 0h1m3 0h1m1 0h1m17 0h1m12 0h1m10 0h1m1 0h1m-48 1h1m1 0h1m3 0h1m3 0h1m26 0h1m-36 1h1h1h1h1m2 0h1h1m2 0h1h1m20 0h1m-29 1h1h1m1 0h1m1 0h1m4 0h1m21 0h1m-50 1h1m2 0h1m1 0h1m3 0h1m1 0h1m4 0h1h1h1m1 0h1m5 0h1m10 0h1m2 0h1m1 0h1m-32 1h1m1 0h1m4 0h1m23 0h1m6 0h1m-41 1h1m8 0h1m8 0h1m16 0h1m6 0h1m-48 1h1m24 0h1m-14 1h1m3 0h1m2 0h1m-13 1h1m19 0h1m1 0h1h1m-7 1h1m8 0h1m1 0h1m11 0h1m-27 1h1m9 0h1h1m16 0h1m-41 1h1m8 0h1m4 0h1m1 0h1m3 0h1m7 0h1m10 0h1m3 0h1m-45 1h1m10 0h1m6 0h1m1 0h1m16 0h1m-45 1h1m13 0h1m5 0h1m5 0h1h1m2 0h1m8 0h1m-27 1h1m4 0h1h1m2 0h1m1 0h1m5 0h1m1 0h1h1h1m10 0h1m11 0h1m-52 1h1m13 0h1m3 0h1m5 0h1h1m4 0h1m5 0h1m16 0h1h1m-54 1h1m9 0h1m1 0h1h1m1 0h1h1m2 0h1m1 0h1m4 0h1h1m5 0h1h1m-42 1h1m15 0h1m3 0h1h1m1 0h1m1 0h1m4 0h1m5 0h1m1 0h1m1 0h1h1m6 0h1m-49 1h1m13 0h1m8 0h1m3 0h1m6 0h1m3 0h1m4 0h1m1 0h1m1 0h1m-35 1h1m1 0h1m10 0h1h1m1 0h1m2 0h1h1m5 0h1h1h1h1h1m1 0h1m13 0h1m-54 1h1m3 0h1h1m1 0h1m5 0h1m3 0h1h1m4 0h1m2 0h1h1m4 0h1h1h1h1m1 0h1m4 0h1m1 0h1m1 0h1m-42 1h1m14 0h1m6 0h1h1m1 0h1m1 0h1m1 0h1h1m3 0h1m3 0h1m1 0h1m-42 1h1m1 0h1h1h1m6 0h1m1 0h1m5 0h1h1m1 0h1m1 0h1m2 0h1h1m2 0h1m2 0h1m4 0h1m-45 1h1m6 0h1m6 0h1h1m4 0h1m8 0h1m5 0h1h1m1 0h1h1h1m8 0h1m-56 1h1m4 0h1m8 0h1h1h1m4 0h1m1 0h1h1h1h1m6 0h1h1h1h1m1 0h1h1m3 0h1m-35 1h1h1m3 0h1m2 0h1m3 0h1h1m4 0h1h1h1m1 0h1h1m3 0h1m7 0h1m9 0h1m-51 1h1m8 0h1m6 0h1m3 0h1m1 0h1m4 0h1m3 0h1m11 0h1m1 0h1m6 0h1m-48 1h1m1 0h1m4 0h1m4 0h1m2 0h1m3 0h1h1h1m1 0h1m1 0h1m6 0h1m1 0h1m6 0h1m-34 1h1m7 0h1m4 0h1m3 0h1m1 0h1m2 0h1h1h1h1h1h1h1h1m2 0h1m-42 1h1m5 0h1m3 0h1m3 0h1m1 0h1m2 0h1h1h1h1m1 0h1m2 0h1h1m3 0h1m2 0h1m2 0h1m1 0h1h1m14 0h1m-48 1h1m1 0h1m5 0h1m4 0h1m2 0h1m7 0h1m6 0h1m3 0h1m-38 1h1m2 0h1m3 0h1h1m1 0h1m1 0h1m1 0h1m4 0h1m2 0h1m2 0h1m5 0h1m-26 1h1h1h1m1 0h1h1m10 0h1m2 0h1h1m3 0h1m1 0h1h1m-36 1h1m3 0h1h1h1m1 0h1m2 0h1m4 0h1h1m6 0h1h1m1 0h1h1h1m3 0h1m-29 1h1m3 0h1m4 0h1h1h1m4 0h1m1 0h1m3 0h1m2 0h1m-30 1h1m2 0h1m1 0h1h1m1 0h1h1h1m9 0h1h1m4 0h1m2 0h1m1 0h1m-36 1h1m2 0h1m3 0h1m1 0h1m19 0h1m2 0h1m-32 1h1h1h1m1 0h1m1 0h1h1m2 0h1m17 0h1m4 0h1m1 0h1h1m-30 1h1m1 0h1m14 0h1h1m1 0h1m3 0h1m7 0h1m-41 1h1m1 0h1m3 0h1m2 0h1m20 0h1h1h1m-40 1h1m2 0h1m3 0h1m1 0h1m2 0h1h1m3 0h1m6 0h1m10 0h1m3 0h1h1m-35 1h1m2 0h1h1m5 0h1m23 0h1m-36 1h1m7 0h1h1m2 0h1m20 0h1m-30 1h1h1h1h1h1m28 0h1m-42 1h1m2 0h1m1 0h1m3 0h1h1m27 0h1h1h1h1h1m-41 1h1m4 0h1m2 0h1m1 0h1m1 0h1m20 0h1h1m1 0h1m13 0h1m-46 1h1h1m27 0h1m-28 1h1h1m29 0h1m-38 1h1m1 0h1m1 0h1h1m3 0h1m23 0h1h1m-37 1h1m8 0h1m24 0h1h1h1h1m-33 1h1h1m3 0h1m23 0h1h1h1m-39 1h1m8 0h1h1h1m2 0h1m18 0h1m3 0h1m2 0h1h1m-41 1h1m1 0h1m1 0h1m3 0h1h1m27 0h1m3 0h1m-33 1h1m22 0h1m1 0h1m-29 1h1m1 0h1m21 0h1m1 0h1m2 0h1m-34 1h1m2 0h1h1m1 0h1m3 0h1m-9 1h1m2 0h1m1 0h1m24 0h1m2 0h1m-39 1h1m3 0h1h1m22 0h1m4 0h1m1 0h1m-33 1h1m3 0h1m22 0h1m2 0h1h1m4 0h1m-35 1h1m26 0h1m1 0h1m-38 1h1m6 0h1h1m2 0h1m1 0h1m1 0h1m16 0h1m1 0h1h1h1m-29 1h1m1 0h1m1 0h1m23 0h1m-33 1h1h1m1 0h1m2 0h1h1m16 0h1m1 0h1m-26 1h1m1 0h1m4 0h1m1 0h1h1m18 0h1m1 0h1m2 0h1m-35 1h1m3 0h1h1m1 0h1m15 0h1m1 0h1m1 0h1h1m2 0h1m6 0h1m-30 1h1h1m12 0h1m8 0h1m8 0h1m-41 1h1h1m1 0h1m1 0h1h1m4 0h1h1m6 0h1m1 0h1m3 0h1m1 0h1h1m-35 1h1m3 0h1m1 0h1m1 0h1m2 0h1m4 0h1m2 0h1m4 0h1m3 0h1m-18 1h1m2 0h1m1 0h1m2 0h1m5 0h1m2 0h1h1m-23 1h1m1 0h1m1 0h1m1 0h1m2 0h1m4 0h1m3 0h1h1m-17 1h1m4 0h1m7 0h1m7 0h1m-30 1h1m3 0h1m7 0h1m2 0h1m1 0h1m1 0h1m2 0h1m3 0h1h1m-20 1h1m2 0h1h1m1 0h1m1 0h1m1 0h1m2 0h1m3 0h1m-19 1h1m2 0h1m2 0h1h1m4 0h1m6 0h1m-14 1h1m2 0h1m8 0h1m-16 1h1m2 0h1h1m1 0h1m6 0h1m2 0h1" stroke="#000" stroke-opacity="0.5" stroke-width="1" fill="none" filter="url(#bl)"/>
<path d="M151 893.5h1m-8 1h1m-20 3h1m11 0h1m12 0h1m-35 1h1m22 0h1m5 4h1m-22 2h1m14 2h1m-13 3h1m26 6h1m-18 5h1m-24 1h1m3 0h1m3 1h1m-9 1h1m-1 1h1m6 0h1m-13 1h1m1 0h1m18 0h1m14 0h1m-35 1h1m8 0h1m0 1h1m-7 1h1m16 6h1m-2 1h1m13 0h1m4 0h1m-26 1h1m17 0h1m-21 1h1m9 0h1m1 0h1m5 0h1m-3 1h1m3 0h1h1m-22 1h1m4 1h1m11 0h1m-13 1h1m4 0h1m1 0h1m2 0h1m14 0h1m-19 1h1m8 0h1h1m-25 1h1m1 0h1m2 0h1m1 0h1m5 0h1m5 0h1m-15 1h1m4 0h1m2 0h1m-14 1h1m1 0h1m1 0h1m1 0h1m13 0h1m4 0h1h1h1m-23 1h1m1 0h1m15 0h1m7 0h1m-22 1h1h1m2 0h1m6 0h1m-21 1h1m7 0h1m4 0h1m4 0h1m-26 1h1m11 0h1m5 0h1m7 0h1m2 0h1h1h1m-19 1h1m1 0h1m2 0h1m8 0h1h1m7 0h1m-29 1h1m5 0h1h1m3 0h1m3 0h1m4 0h1m-29 1h1m8 0h1m6 0h1h1m1 0h1m1 0h1m3 0h1h1m-16 1h1m9 0h1m7 0h1m-20 1h1m1 0h1m1 0h1h1m1 0h1m1 0h1m2 0h1m1 0h1m1 0h1m1 0h1m-13 1h1m1 0h1m1 0h1m2 0h1h1m5 0h1m-29 1h1m14 0h1m1 0h1m2 0h1m1 0h1m-22 1h1m9 0h1h1h1m6 0h1m1 0h1m-20 1h1m1 0h1h1m3 0h1h1h1m4 0h1m5 0h1h1h1m-15 1h1m7 0h1m3 0h1m1 0h1m-19 1h1h1h1m3 0h1m2 0h1m6 0h1m-14 1h1m3 0h1m1 0h1m4 0h1m2 0h1m2 0h1m-27 1h1m21 0h1m-25 1h1m10 0h1m13 0h1m-20 1h1m2 0h1m-8 1h1m22 0h1m1 0h1h1m-31 1h1m25 0h1m1 0h1m-23 1h1m22 0h1m1 0h1m-31 1h1m4 0h1m18 0h1m3 0h1m-24 1h1m16 0h1m6 0h1m4 0h1m-33 1h1m3 0h1m18 0h1h1m2 0h1m-26 1h1h1m18 0h1m-24 1h1h1m20 0h1m-21 1h1m3 0h1m18 0h1m-23 1h1m21 0h1m-32 1h1m7 0h1h1m18 0h1m1 0h1m-31 1h1m6 0h1m23 0h1m-24 1h1m24 1h1m-30 1h1m2 0h1m20 1h1m-27 1h1m4 0h1m20 0h1m-1 1h1m-27 1h1m3 0h1h1m3 0h1m9 0h1m2 0h1m4 0h1m-32 1h1m8 0h1m15 0h1m-20 1h1m0 1h1m9 0h1m8 0h1m-15 1h1m10 0h1h1h1h1h1m-19 1h1m6 0h1m7 0h1m1 0h1m-22 1h1m5 0h1h1m13 0h1h1m-14 1h1h1h1m1 0h1m2 0h1m-17 1h1m14 0h1h1m-15 1h1m2 0h1m1 0h1m4 0h1m4 0h1m2 0h1m-17 1h1m4 0h1h1m2 0h1m-10 1h1m3 0h1h1m1 0h1m0 1h1m-11 1h1m11 0h1m-5 2h1" stroke="#000" stroke-opacity="0.68" stroke-width="1" fill="none" filter="url(#bl)"/>
<path d="M123 904.5h1m6 30h1m14 5h1m-17 3h1m3 0h1m20 3h1m-33 1h1m20 0h1m-11 2h1m5 3h1h1h1m-19 1h1m3 0h1m7 0h1m-2 1h1m2 0h1m-15 1h1m7 0h1m3 0h1m2 0h1m-15 1h1m4 0h1m6 0h1m-6 1h1m1 0h1m1 0h1h1m4 0h1h1m-24 1h1m14 0h1m3 0h1m-3 1h1m1 0h1m-7 1h1m1 0h1m4 0h1m1 0h1m-14 1h1h1m1 0h1h1m3 0h1h1h1m-11 1h1m1 0h1m8 0h1h1m2 0h1m-20 1h1m1 0h1m1 0h1m1 0h1m12 0h1m-20 1h1h1h1m1 0h1m1 0h1m5 0h1h1h1h1m2 0h1m5 0h1m-23 1h1h1m9 0h1m4 0h1h1m-21 1h1h1m1 0h1m8 0h1m4 0h1m1 0h1m-19 1h1h1m15 0h1m-20 1h1h1m17 0h1m-21 1h1h1m1 0h1m13 0h1m2 0h1m-20 1h1m16 0h1h1m-21 1h1m1 0h1m13 0h1m2 0h1m-19 1h1h1m14 0h1h1m1 0h1h1h1m-25 1h1m1 0h1m18 0h1h1m1 0h1m2 0h1m-7 1h1h1m-25 1h1h1m20 0h1h1h1m-4 2h1m1 0h1h1m-24 1h1m20 0h1m-21 1h1m19 0h1m-19 1h1m17 0h1h1h1m-23 1h1m16 0h1h1h1m1 0h1h1m-26 1h1h1m16 0h1m2 0h1m-22 1h1h1h1h1m1 0h1m14 0h1m1 0h1m-23 1h1m3 0h1m5 0h1m10 0h1h1m-19 1h1m11 0h1h1m-21 1h1m4 0h1h1h1m8 0h1m4 0h1m-16 1h1m2 0h1m-10 1h1m8 0h1m7 0h1h1m-15 1h1m3 0h1m4 0h1h1h1m1 0h1h1m-16 1h1h1m7 0h1m1 0h1m3 0h1m2 0h1m-18 1h1h1m7 0h1m1 0h1m-12 1h1h1h1m4 0h1h1h1h1m-15 1h1m8 0h1m2 0h1m-7 1h1m-5 1h1m3 1h1" stroke="#000" stroke-opacity="0.82" stroke-width="1" fill="none" filter="url(#bl)"/>
<path d="M137 950.5h1m-7 7h1m3 0h1h1m-4 1h1m1 0h1m-7 1h1m3 0h1m0 1h1h1m5 0h1m-13 1h1m2 0h1m1 0h1h1m1 0h1m-13 1h1m3 0h1m1 0h1h1h1h1h1h1h1m4 0h1m-14 1h1m1 0h1h1h1h1h1m4 0h1m-17 1h1m3 0h1h1m1 0h1h1h1h1h1h1m1 0h1h1h1m-16 1h1m1 0h1h1h1h1h1h1h1h1m1 0h1h1h1h1m-18 1h1m3 0h1h1h1h1h1h1h1h1h1h1h1h1h1h1m-16 1h1h1h1h1h1h1h1h1h1h1h1h1h1h1h1h1h1m-18 1h1m1 0h1h1h1h1h1h1h1h1h1h1h1h1h1m2 0h1m-18 1h1h1h1h1h1h1h1h1h1h1h1h1h1h1m1 0h1m2 0h1m-23 1h1m3 0h1h1h1h1h1h1h1h1h1h1h1h1h1m1 0h1h1m-16 1h1h1h1h1h1h1h1h1h1h1h1h1h1h1m-16 1h1h1h1h1h1h1h1h1h1h1h1h1h1h1h1h1h1m3 0h1m-23 1h1h1h1m1 0h1h1h1h1h1h1h1h1h1h1h1h1h1h1h1h1m-19 1h1h1h1h1h1h1h1h1h1h1h1h1h1h1h1h1h1h1m-17 1h1h1h1h1h1h1h1h1h1h1h1h1h1h1h1h1h1m-19 1h1h1h1h1h1h1h1h1h1h1h1h1h1h1h1h1h1h1m1 0h1m-20 1h1h1h1h1h1h1h1h1h1h1h1h1h1h1h1h1h1h1h1m-19 1h1h1h1h1h1h1h1h1h1h1h1h1h1h1h1h1h1h1m-19 1h1m2 0h1h1h1h1h1h1h1h1h1h1h1h1h1h1h1m1 0h1m-21 1h1m1 0h1h1h1h1h1h1h1h1h1h1h1h1h1h1h1h1m-17 1h1h1h1h1h1h1h1h1h1h1h1h1h1h1h1m2 0h1m1 0h1m-19 1h1m1 0h1h1h1h1h1h1h1h1h1h1h1h1h1m-16 1h1m1 0h1m1 0h1h1h1m1 0h1h1h1h1h1m1 0h1h1m-14 1h1h1h1h1h1h1h1h1h1h1h1m3 0h1m-19 1h1m3 0h1h1h1h1h1h1h1h1m1 0h1h1h1h1m1 0h1m-19 1h1h1m1 0h1h1m1 0h1h1h1m1 0h1h1h1h1h1m1 0h1m-17 1h1m2 0h1m2 0h1h1h1h1h1h1h1m-11 1h1h1m1 0h1h1h1m4 0h1m-8 1h1h1h1m1 0h1m1 0h1h1h1m-11 1h1m0 1h1" stroke="#000" stroke-opacity="0.95" stroke-width="1" fill="none" filter="url(#bl)"/>
<path d="M274 878.5h1m-18 7h1m6 1h1h1m-9 1h1m7 0h1m7 0h1m6 0h1m-29 1h1m6 0h1h1h1m3 0h1m9 0h1m5 0h1m-26 1h1m4 0h1m1 0h1h1h1m4 0h1h1h1m3 0h1m3 0h1m-30 1h1m5 0h1m2 0h1m3 0h1h1m3 0h1h1m5 0h1m3 0h1m-24 1h1m2 0h1h1m1 0h1m3 0h1m3 0h1h1m2 0h1m1 0h1m13 0h1m-38 1h1m6 0h1m12 0h1m6 0h1m2 0h1m2 0h1m1 0h1m8 0h1m-48 1h1h1m2 0h1m2 0h1h1m3 0h1m1 0h1m5 0h1m10 0h1m2 0h1m1 0h1m2 0h1h1h1m3 0h1h1m4 0h1h1m-47 1h1m1 0h1m2 0h1m14 0h1m3 0h1m1 0h1m1 0h1m2 0h1h1m9 0h1h1m-50 1h1m1 0h1m10 0h1m12 0h1m2 0h1m1 0h1h1m1 0h1h1m9 0h1m-41 1h1h1h1m22 0h1m4 0h1m5 0h1m6 0h1m4 0h1m-54 1h1h1h1m31 0h1m2 0h1h1m5 0h1m1 0h1m2 0h1h1h1m-51 1h1h1m26 0h1m2 0h1m2 0h1m5 0h1m1 0h1h1m2 0h1h1h1h1m-51 1h1m36 0h1m2 0h1m1 0h1m1 0h1m2 0h1m-46 1h1m31 0h1h1h1h1h1h1h1m3 0h1h1m-46 1h1m33 0h1m1 0h1m2 0h1m2 0h1m4 0h1m-48 1h1m30 0h1m1 0h1m3 0h1m4 0h1m6 0h1m1 0h1m1 0h1m-54 1h1m33 0h1h1m4 0h1m2 0h1h1m6 0h1h1h1m-28 1h1m5 0h1m1 0h1m1 0h1h1m1 0h1h1m1 0h1m1 0h1m1 0h1m2 0h1m-50 1h1m34 0h1m1 0h1m3 0h1h1h1m5 0h1m3 0h1m-54 1h1m32 0h1h1m1 0h1h1h1h1m1 0h1h1h1h1m2 0h1m5 0h1m-52 1h1h1m13 0h1m10 0h1m2 0h1h1m4 0h1m1 0h1m9 0h1m3 0h1m-52 1h1m1 0h1h1m3 0h1m18 0h1m3 0h1h1h1m1 0h1m1 0h1h1m1 0h1m7 0h1m-50 1h1m2 0h1m2 0h1h1m4 0h1m1 0h1m9 0h1m6 0h1m1 0h1m1 0h1m5 0h1h1m3 0h1m6 0h1m-53 1h1m1 0h1h1m10 0h1m2 0h1m9 0h1m1 0h1h1h1h1h1h1m1 0h1h1m1 0h1m4 0h1m1 0h1m-43 1h1m2 0h1m8 0h1m3 0h1m18 0h1m1 0h1h1m7 0h1m-48 1h1m5 0h1m2 0h1m5 0h1m5 0h1m2 0h1h1h1m3 0h1m2 0h1h1m1 0h1m3 0h1m8 0h1m-52 1h1m5 0h1m9 0h1m8 0h1h1m2 0h1h1h1m3 0h1h1m1 0h1h1m3 0h1h1m-41 1h1h1m1 0h1m1 0h1h1m3 0h1m1 0h1m2 0h1h1h1h1m1 0h1m4 0h1m3 0h1h1m1 0h1m2 0h1m1 0h1h1m3 0h1h1m3 0h1m-54 1h1h1h1h1m1 0h1m4 0h1m2 0h1m1 0h1m4 0h1h1m3 0h1h1m2 0h1m2 0h1h1h1m8 0h1m1 0h1h1m-46 1h1m3 0h1h1m2 0h1h1h1h1h1m2 0h1m1 0h1m4 0h1m3 0h1m1 0h1h1m5 0h1h1m4 0h1m4 0h1m-44 1h1m2 0h1h1h1m1 0h1h1m2 0h1m1 0h1m1 0h1m5 0h1m1 0h1h1m1 0h1m5 0h1h1h1h1m4 0h1h1m2 0h1m2 0h1m-51 1h1m1 0h1m2 0h1m1 0h1m1 0h1h1m1 0h1m3 0h1h1h1h1h1m1 0h1m5 0h1h1h1h1m1 0h1m1 0h1m1 0h1m1 0h1m1 0h1m8 0h1m-51 1h1m7 0h1h1m1 0h1m4 0h1m1 0h1m3 0h1h1h1m3 0h1h1h1h1m3 0h1h1m2 0h1h1m3 0h1m4 0h1h1m-51 1h1m1 0h1m1 0h1h1h1m2 0h1m1 0h1h1m3 0h1m1 0h1m3 0h1m1 0h1m3 0h1h1m3 0h1m1 0h1h1m2 0h1m1 0h1m-43 1h1h1m2 0h1h1m5 0h1m6 0h1m10 0h1h1h1h1m1 0h1m7 0h1m-43 1h1m7 0h1m3 0h1h1h1h1h1h1m1 0h1m2 0h1m4 0h1m1 0h1m2 0h1m4 0h1m6 0h1m1 0h1m-44 1h1m1 0h1m2 0h1m3 0h1m1 0h1h1h1h1m9 0h1h1h1h1m4 0h1m6 0h1m-43 1h1h1m5 0h1m4 0h1h1m3 0h1m1 0h1m7 0h1m6 0h1m-32 1h1m5 0h1m1 0h1h1m3 0h1h1h1m16 0h1m2 0h1m-40 1h1m4 0h1m2 0h1m3 0h1m25 0h1m-25 1h1h1m1 0h1m3 0h1m1 0h1m9 0h1m1 0h1m-31 1h1m1 0h1m2 0h1m3 0h1m3 0h1m2 0h1m-23 1h1m2 0h1h1m9 0h1h1m2 0h1m6 0h1m1 0h1h1m1 0h1m7 0h1m1 0h1m-40 1h1m1 0h1m3 0h1m2 0h1m1 0h1m2 0h1h1h1m1 0h1m3 0h1m1 0h1m4 0h1h1m5 0h1m-28 1h1m1 0h1h1m2 0h1m2 0h1m1 0h1m2 0h1m-20 1h1m1 0h1h1m3 0h1m4 0h1m1 0h1h1h1m1 0h1m-23 1h1m2 0h1m3 0h1m1 0h1h1m3 0h1m2 0h1m2 0h1m4 0h1m1 0h1m1 0h1m10 0h1m-37 1h1m3 0h1m8 0h1h1m5 0h1m4 0h1h1m-25 1h1m1 0h1m2 0h1h1m10 0h1m6 0h1m-29 1h1m3 0h1m1 0h1m2 0h1h1h1h1m1 0h1h1h1m3 0h1h1h1h1m5 0h1m-33 1h1m2 0h1h1m1 0h1m2 0h1h1h1m2 0h1m4 0h1h1m2 0h1h1m2 0h1m1 0h1m2 0h1m-30 1h1m2 0h1m1 0h1m2 0h1m2 0h1m2 0h1m2 0h1h1h1h1m15 0h1m-34 1h1m3 0h1h1h1m2 0h1m1 0h1m4 0h1m2 0h1m3 0h1m2 0h1m-23 1h1h1m3 0h1m1 0h1m2 0h1h1m1 0h1h1h1m2 0h1m1 0h1m3 0h1m-34 1h1m8 0h1m3 0h1h1m2 0h1h1m7 0h1h1m-26 1h1m12 0h1m3 0h1h1m5 0h1h1m1 0h1m1 0h1m3 0h1m-41 1h1m6 0h1h1h1h1m7 0h1m3 0h1h1m5 0h1m4 0h1m3 0h1m-30 1h1m5 0h1m1 0h1m1 0h1h1m2 0h1h1m2 0h1m3 0h1h1h1m2 0h1m-30 1h1h1h1m1 0h1m4 0h1h1h1h1m4 0h1m3 0h1h1h1m1 0h1m-20 1h1h1m1 0h1m3 0h1m1 0h1m1 0h1m3 0h1m7 0h1h1m4 0h1m-39 1h1m2 0h1m2 0h1h1h1m1 0h1m5 0h1m4 0h1m1 0h1m2 0h1h1m-30 1h1m1 0h1m6 0h1m2 0h1h1m14 0h1m6 0h1m-41 1h1m11 0h1h1m2 0h1m1 0h1m5 0h1m8 0h1h1m1 0h1h1h1m-32 1h1m1 0h1m4 0h1h1m2 0h1m4 0h1m3 0h1m4 0h1m2 0h1m-37 1h1m9 0h1m3 0h1m1 0h1m1 0h1h1m1 0h1m3 0h1m3 0h1m4 0h1m6 0h1m1 0h1m-24 1h1m8 0h1h1m7 0h1m5 0h1m-40 1h1m1 0h1m2 0h1h1m2 0h1m3 0h1h1h1m7 0h1h1h1h1m1 0h1h1m1 0h1h1m-30 1h1m3 0h1h1m1 0h1h1h1h1m15 0h1m-26 1h1m4 0h1m3 0h1m1 0h1m12 0h1m1 0h1m4 0h1m-32 1h1m5 0h1h1h1m16 0h1m2 0h1h1m2 0h1m-33 1h1h1m7 0h1m13 0h1h1m3 0h1m5 0h1m-37 1h1m1 0h1m1 0h1h1h1m2 0h1m1 0h1m10 0h1m6 0h1m1 0h1m-28 1h1m2 0h1m2 0h1m1 0h1h1m9 0h1h1m7 0h1m-23 1h1h1m2 0h1m14 0h1m1 0h1h1m4 0h1h1h1m-42 1h1m3 0h1m2 0h1m3 0h1h1h1h1m7 0h1m2 0h1m4 0h1m2 0h1h1m-29 1h1h1h1m1 0h1h1m22 0h1m3 0h1m1 0h1m-31 1h1m3 0h1m10 0h1m1 0h1m3 0h1h1m2 0h1h1m4 0h1m-38 1h1m1 0h1h1m1 0h1m5 0h1m2 0h1m2 0h1h1h1m5 0h1m2 0h1m2 0h1m2 0h1m-36 1h1m1 0h1m2 0h1h1m2 0h1h1h1m11 0h1m6 0h1h1m5 0h1m-34 1h1h1m2 0h1m2 0h1m17 0h1m2 0h1h1m-27 1h1m2 0h1m6 0h1m13 0h1m-31 1h1m2 0h1m1 0h1m2 0h1m4 0h1m2 0h1m5 0h1m5 0h1h1m1 0h1h1m-29 1h1m7 0h1m10 0h1m5 0h1m1 0h1m-26 1h1m4 0h1m17 0h1m4 0h1m-32 1h1h1m5 0h1m12 0h1m1 0h1h1h1h1m1 0h1m-28 1h1h1m2 0h1m1 0h1m2 0h1m7 0h1m1 0h1m1 0h1h1m1 0h1m1 0h1h1m-31 1h1m1 0h1m1 0h1h1m19 0h1m1 0h1m2 0h1m-23 1h1m1 0h1h1m2 0h1m1 0h1m5 0h1h1m2 0h1m1 0h1h1m-27 1h1m3 0h1m2 0h1m4 0h1m4 0h1m3 0h1m2 0h1m-33 1h1m9 0h1m6 0h1m7 0h1m8 0h1m3 0h1m-32 1h1m2 0h1h1m3 0h1m1 0h1h1m1 0h1m9 0h1h1h1m3 0h1m-27 1h1m5 0h1m8 0h1m2 0h1m2 0h1m3 0h1m-25 1h1m3 0h1h1m1 0h1h1h1h1h1h1h1h1h1h1h1h1m1 0h1h1m2 0h1h1m-28 1h1m1 0h1m2 0h1h1m1 0h1m2 0h1m2 0h1m4 0h1h1m3 0h1m-28 1h1m1 0h1m4 0h1m15 0h1m3 0h1m2 0h1m-23 1h1m2 0h1m4 0h1m18 0h1m-33 1h1h1m3 0h1h1m3 0h1m1 0h1h1h1h1m5 0h1m1 0h1m5 0h1m-34 1h1m6 0h1h1m7 0h1m2 0h1h1m3 0h1m4 0h1h1m-29 1h1m6 0h1m2 0h1m2 0h1h1h1h1m-12 1h1m7 0h1m4 0h1m2 0h1h1h1h1m2 0h1m-18 1h1h1m4 0h1m2 0h1m1 0h1h1m-26 1h1m4 0h1m5 0h1h1m6 0h1m5 0h1m-16 1h1m3 0h1m1 0h1h1m1 0h1m3 0h1h1m2 0h1m-12 1h1m1 0h1h1m10 0h1m-21 1h1m2 0h1m2 0h1m2 0h1m7 0h1m-17 1h1m4 0h1h1m5 0h1m1 0h1h1m-17 1h1h1h1m1 0h1h1h1h1m1 0h1m9 0h1m-19 1h1m7 0h1h1m-13 1h1m13 0h1m-11 1h1m2 0h1m4 0h1m-8 1h1m3 0h1m5 0h1m13 0h1m-19 1h1m-2 1h1m2 0h1" stroke="#000" stroke-opacity="0.5" stroke-width="1" fill="none" filter="url(#bl)"/>
<path d="M258 890.5h1m2 0h1m4 0h1m1 0h1m-11 1h1m5 0h1m3 0h1m10 0h1m-17 1h1m11 0h1m1 0h1m-24 1h1m2 0h1m12 0h1m3 0h1h1h1m1 0h1h1m1 0h1m4 0h1m-35 1h1m1 0h1m1 0h1m4 0h1m3 0h1h1m4 0h1h1m1 0h1m7 0h1m4 0h1m-16 1h1m15 0h1m1 0h1m1 0h1m4 0h1m-47 1h1m1 0h1m6 0h1m1 0h1m1 0h1m2 0h1m14 0h1m1 0h1m10 0h1m-42 1h1m3 0h1m1 0h1m10 0h1m5 0h1m4 0h1m3 0h1m3 0h1m-40 1h1m39 0h1m5 0h1m-44 1h1m35 0h1m-40 1h1m17 0h1m11 0h1m2 0h1m7 0h1m10 0h1m-24 1h1h1m4 0h1m-34 1h1h1h1m27 0h1m3 0h1m3 0h1m2 0h1m-41 1h1m29 0h1m2 0h1h1m-35 1h1m4 0h1m16 0h1m7 0h1m1 0h1m-34 1h1m26 0h1m2 0h1h1h1m1 0h1m1 0h1m1 0h1m-40 1h1h1m10 0h1m16 0h1h1m-27 1h1h1m2 0h1m25 0h1m4 0h1h1m-42 1h1m2 0h1m3 0h1m2 0h1m3 0h1m14 0h1h1m-29 1h1m6 0h1m11 0h1m1 0h1m4 0h1m3 0h1m1 0h1m-28 1h1h1m4 0h1m6 0h1h1h1m3 0h1h1m-18 1h1m2 0h1h1m5 0h1m2 0h1m2 0h1m1 0h1m1 0h1m2 0h1m1 0h1m-34 1h1m2 0h1m6 0h1m1 0h1m1 0h1m4 0h1m4 0h1h1m5 0h1m7 0h1m-39 1h1h1h1h1h1m1 0h1h1m2 0h1m3 0h1m1 0h1h1m1 0h1h1m1 0h1m4 0h1m4 0h1m-35 1h1m1 0h1m4 0h1m6 0h1m4 0h1m12 0h1m5 0h1m-29 1h1h1m3 0h1m1 0h1m12 0h1m20 0h1m-38 1h1m4 0h1h1m4 0h1m8 0h1m4 0h1m-38 1h1m6 0h1m3 0h1m1 0h1m6 0h1m2 0h1m-12 1h1m6 0h1m3 0h1m-23 1h1m6 0h1m2 0h1h1m5 0h1m5 0h1m-14 1h1m5 0h1m6 0h1m-22 1h1m6 0h1m1 0h1h1m3 0h1m1 0h1m1 0h1m13 0h1h1h1h1m-38 1h1m13 0h1m-1 1h1m3 0h1m1 0h1m-14 1h1m3 0h1m6 0h1m-15 1h1m4 1h1m7 0h1h1m-11 1h1m5 0h1m8 0h1m-12 1h1m2 0h1m1 1h1m-10 1h1m9 0h1m7 0h1m-18 1h1m2 0h1m9 0h1m-23 2h1m12 0h1m-4 1h1h1m4 0h1m-8 1h1m-6 1h1h1m-4 1h1m8 0h1m3 0h1m3 0h1m2 0h1m-16 1h1m-7 1h1m1 0h1m4 0h1m3 0h1m-5 1h1m1 0h1m1 0h1h1m2 0h1m10 0h1m-18 1h1m4 0h1m1 0h1m-9 1h1m1 0h1m5 0h1h1m-8 1h1m4 0h1m3 0h1m-23 1h1m1 0h1m5 0h1m8 0h1m3 0h1h1m-6 1h1h1m-21 1h1m11 0h1m2 0h1m5 0h1m2 0h1m2 0h1m-21 1h1m3 0h1m1 0h1m3 0h1h1m1 0h1m2 0h1m-21 1h1m3 0h1m8 0h1m1 0h1m1 0h1m1 0h1h1m-25 1h1m12 0h1h1m3 0h1m3 0h1h1m-7 1h1m2 0h1m1 0h1m-12 1h1m2 0h1h1m3 0h1m2 0h1h1m6 0h1m-30 1h1m5 0h1h1m1 0h1m4 0h1m1 0h1m7 0h1m-18 1h1m9 0h1m4 0h1m2 0h1m2 0h1m-11 1h1h1m1 0h1h1h1m-19 1h1m1 0h1m10 0h1h1m4 0h1m1 0h1m-19 1h1m2 0h1m1 0h1h1m4 0h1m3 0h1m2 0h1m-25 1h1h1m9 0h1m12 0h1m2 0h1m-23 1h1m1 0h1m2 0h1m1 0h1m6 0h1m1 0h1h1m2 0h1m-20 1h1m2 0h1h1m1 0h1m3 0h1m3 0h1h1h1m1 0h1m1 0h1m2 0h1m-17 1h1m4 0h1h1m3 0h1m1 0h1m-24 1h1m9 0h1m3 0h1m4 0h1m-24 1h1m10 0h1m4 0h1m1 0h1h1m1 0h1m1 0h1h1m3 0h1m-23 1h1h1m2 0h1m3 0h1m8 0h1m5 0h1m2 0h1m-27 1h1h1m-2 1h1m12 0h1m3 0h1m1 0h1m1 0h1m5 0h1m-24 1h1h1m2 0h1h1m1 0h1m2 0h1m2 0h1h1m3 0h1m-22 1h1m5 0h1m2 0h1h1m5 0h1m1 0h1h1m-21 1h1m4 0h1m4 0h1m9 0h1m-25 1h1m3 0h1h1m1 0h1m3 0h1h1h1m1 0h1m2 0h1h1m2 0h1m-17 1h1m13 0h1h1h1m-14 1h1m4 0h1m-12 1h1m1 0h1m4 0h1m5 0h1m-8 1h1m4 0h1m3 0h1h1m1 0h1m-20 1h1m1 0h1m16 0h1m-17 1h1h1m3 0h1m2 0h1h1m1 0h1m3 0h1m2 0h1m1 0h1m-29 1h1m6 0h1m2 0h1h1m1 0h1m2 0h1h1m5 0h1h1m-18 1h1m1 0h1m7 0h1m-11 1h1m1 0h1m4 0h1h1m1 0h1h1h1m1 0h1h1m2 0h1m-19 1h1h1m4 1h1m2 0h1h1m1 0h1m1 0h1m-11 1h1m3 0h1m5 0h1m-7 1h1m-3 1h1m8 0h1m-10 1h1h1m5 1h1m-8 1h1h1m-8 1h1m6 0h1m4 2h1m-17 2h1m19 2h1h1" stroke="#000" stroke-opacity="0.68" stroke-width="1" fill="none" filter="url(#bl)"/>
<path d="M270 891.5h1m3 0h1m1 0h1m-17 1h1m3 0h1h1h1m1 0h1m1 0h1m2 0h1m2 0h1m2 0h1m2 0h1h1m-31 1h1m2 0h1m3 0h1h1h1m1 0h1m2 0h1h1h1m2 0h1h1m3 0h1m-23 1h1m2 0h1m1 0h1m2 0h1h1m3 0h1m4 0h1m2 0h1m2 0h1h1m-27 1h1h1h1m4 0h1m1 0h1m1 0h1m5 0h1m1 0h1m2 0h1m1 0h1h1m-26 1h1m4 0h1m8 0h1m1 0h1h1m5 0h1m1 0h1h1m2 0h1m1 0h1m3 0h1m-35 1h1m1 0h1m3 0h1h1m12 0h1m2 0h1h1m1 0h1m1 0h1h1m2 0h1m-34 1h1m2 0h1m2 0h1m2 0h1m10 0h1m6 0h1h1m2 0h1m2 0h1m-37 1h1h1m2 0h1m1 0h1m1 0h1m3 0h1m13 0h1h1h1m1 0h1h1m1 0h1h1m-35 1h1m2 0h1m3 0h1m15 0h1m4 0h1m-28 1h1h1m8 0h1m12 0h1m-25 1h1m22 0h1h1m8 0h1m-33 1h1m1 0h1h1m1 0h1m1 0h1m19 0h1h1h1h1m5 0h1m-38 1h1m2 0h1h1h1m4 0h1m5 0h1m5 0h1m4 0h1h1m8 0h1m-38 1h1m1 0h1m1 0h1m1 0h1h1m1 0h1m9 0h1h1m1 0h1m2 0h1h1h1m1 0h1h1m-28 1h1h1m1 0h1m1 0h1h1m1 0h1m3 0h1m3 0h1m5 0h1m5 0h1m2 0h1m-35 1h1m2 0h1m2 0h1h1m2 0h1m1 0h1h1m1 0h1m1 0h1h1m3 0h1m1 0h1h1m2 0h1h1m2 0h1m-28 1h1m1 0h1m2 0h1m1 0h1m3 0h1m1 0h1m1 0h1m3 0h1m1 0h1m-24 1h1h1m2 0h1m2 0h1m3 0h1h1h1h1h1h1m4 0h1h1m2 0h1m-21 1h1h1h1h1m4 0h1m21 0h1m-37 1h1h1m2 0h1m1 0h1m1 0h1h1m2 0h1h1m1 0h1h1m2 0h1m2 0h1m1 0h1m1 0h1m1 0h1h1m-27 1h1m2 0h1m5 0h1m6 0h1h1h1m-14 1h1m3 0h1h1m-4 1h1h1m-11 1h1m2 0h1m11 0h1m3 0h1h1m-6 1h1m-7 1h1m4 0h1m2 0h1h1m-10 2h1m2 0h1m5 1h1m5 1h1m-8 1h1m-12 2h1m4 3h1m3 2h1m5 4h1m-15 1h1m6 2h1m-3 1h1m-4 1h1m3 0h1m0 1h1h1m1 0h1m-7 2h1m2 0h1m-11 1h1h1m1 0h1m5 0h1m-10 1h1m9 0h1h1m-5 1h1m6 0h1m-9 1h1h1m5 0h1m-13 1h1m3 0h1m3 0h1m1 0h1m-11 1h1m5 0h1m-6 1h1m2 0h1h1h1m5 0h1m-12 1h1h1m2 0h1m4 0h1h1m2 0h1m-17 1h1h1m1 0h1h1h1h1m1 0h1m1 0h1m2 0h1m3 0h1m-22 1h1m13 0h1m2 0h1m-9 1h1h1m3 0h1h1m2 0h1m-10 1h1m1 0h1m1 0h1m-7 1h1h1h1h1m1 0h1h1h1m2 0h1m4 0h1h1m-16 1h1m3 0h1m4 0h1h1h1m4 0h1m-24 1h1m4 0h1m2 0h1m2 0h1m2 0h1m1 0h1m-14 1h1m1 0h1h1h1h1m1 0h1m3 0h1h1h1h1m-12 1h1h1m4 0h1h1m2 0h1m-6 1h1h1m8 0h1m-24 1h1m6 0h1h1m1 0h1h1m4 0h1h1m-15 1h1m5 0h1m3 0h1h1m2 0h1m1 0h1h1m3 0h1m-20 1h1h1m1 0h1m1 0h1h1h1m7 0h1m-15 1h1m2 0h1m3 0h1m5 0h1m-3 1h1m1 0h1h1h1m1 0h1m2 0h1m-24 1h1m4 0h1m1 0h1h1h1m1 0h1m-12 1h1m6 0h1h1m2 0h1m1 0h1h1m2 0h1m2 0h1m-15 1h1h1m1 0h1m4 0h1h1h1m-14 1h1h1m4 0h1m5 0h1m1 0h1h1m-16 1h1m1 0h1m1 0h1m5 0h1h1m5 0h1h1m-21 1h1h1m1 0h1m1 0h1m1 0h1m1 0h1h1m2 0h1h1h1m3 0h1m5 0h1m-22 1h1m1 0h1m1 0h1m2 0h1h1h1h1h1m-12 1h1m2 0h1h1m1 0h1m-10 1h1m2 0h1m2 0h1h1h1m2 0h1h1m2 0h1m-12 1h1h1m3 0h1h1h1m1 0h1m-10 1h1m1 0h1m3 0h1m2 0h1m-13 1h1m5 0h1m3 0h1m-6 1h1m1 0h1m1 0h1h1m1 0h1m-9 1h1m2 0h1m-9 2h1m11 1h1m-7 4h1" stroke="#000" stroke-opacity="0.82" stroke-width="1" fill="none" filter="url(#bl)"/>
<path d="M269 891.5h1m-13 1h1m9 0h1m1 0h1m-4 1h1m17 0h1m-18 1h1m1 0h1h1m4 0h1m2 0h1m-22 1h1h1h1h1m1 0h1m3 0h1h1h1h1h1m3 0h1h1m-15 1h1m1 0h1m1 0h1h1m2 0h1m2 0h1h1h1h1h1m1 0h1m-23 1h1m2 0h1m3 0h1h1h1h1h1h1h1h1m1 0h1h1h1m1 0h1m3 0h1m-26 1h1h1m1 0h1h1m1 0h1h1m1 0h1h1h1h1h1h1h1h1h1h1m1 0h1h1h1h1h1m4 0h1m2 0h1m-33 1h1m1 0h1m1 0h1m1 0h1h1h1m1 0h1h1h1h1h1h1h1h1h1h1h1h1h1m3 0h1m2 0h1m-31 1h1m1 0h1h1h1m1 0h1h1h1h1h1h1h1h1h1m1 0h1h1h1h1h1m1 0h1h1h1h1m2 0h1h1m-29 1h1h1h1h1h1h1h1h1m1 0h1h1h1h1h1h1h1h1h1h1h1h1m1 0h1h1h1m2 0h1h1h1m-29 1h1h1h1h1h1h1h1h1h1h1h1h1h1h1h1h1h1h1h1m2 0h1h1h1h1h1m4 0h1m-30 1h1m1 0h1m1 0h1h1h1h1h1h1h1h1h1h1h1h1h1h1h1h1h1h1h1m-27 1h1m4 0h1m1 0h1h1m1 0h1h1h1h1h1m1 0h1m1 0h1h1h1m1 0h1m2 0h1m2 0h1h1m-28 1h1m1 0h1m2 0h1m1 0h1h1h1h1h1h1h1h1h1m2 0h1m1 0h1h1m-20 1h1m1 0h1m2 0h1m2 0h1h1m1 0h1h1h1m1 0h1h1h1h1h1m1 0h1h1m-19 1h1m1 0h1m2 0h1m4 0h1h1h1m1 0h1m2 0h1m-27 1h1m10 0h1m2 0h1h1m1 0h1m1 0h1m1 0h1m1 0h1m6 0h1m-19 1h1m16 0h1m-17 1h1m1 0h1m2 0h1m4 0h1m-5 2h1m-7 1h1m2 1h1m-4 1h1m-8 3h1m8 2h1m-3 23h1m1 2h1m3 1h1m-10 2h1m7 0h1m-4 1h1m1 0h1m-3 2h1m-6 1h1m-1 1h1m1 0h1m1 0h1m-2 1h1m-3 1h1m1 0h1m1 0h1h1m-8 1h1m5 0h1h1m3 0h1m-7 1h1h1h1m-5 1h1m4 0h1m-2 1h1m1 0h1m-6 1h1m1 0h1h1m4 0h1m-13 1h1m1 0h1h1m-5 1h1m5 0h1m1 0h1m2 0h1m-9 1h1h1m2 0h1h1h1h1m-12 1h1m2 0h1h1m1 0h1h1m4 0h1m-10 1h1m3 0h1m1 0h1h1m1 0h1m1 0h1m-2 1h1m-13 1h1h1m7 0h1m-9 1h1m2 0h1m3 0h1h1m-3 1h1m-5 1h1m1 0h1m3 0h1m-6 1h1m1 0h1m-1 1h1m1 0h1m2 0h1m-9 1h1m1 1h1m4 0h1m-10 1h1m10 0h1m-9 1h1m3 0h1m5 2h1" stroke="#000" stroke-opacity="0.95" stroke-width="1" fill="none" filter="url(#bl)"/>
<rect x="46.60" y="870.60" width="130.20" height="131.50" fill="none" stroke="#000" stroke-width="3.2"/>
<rect x="194.30" y="870.60" width="130.30" height="131.50" fill="none" stroke="#000" stroke-width="3.2"/>
<path d="M53.0 1003.2v2.6M60.0 1003.2v2.6M78.1 1003.2v2.6M86.1 1003.2v2.6M103.2 1003.2v2.6M111.2 1003.2v2.6M129.3 1003.2v2.6M137.3 1003.2v2.6M154.3 1003.2v2.6M162.4 1003.2v2.6M45.5 991.7h-2.4M45.5 983.7h-2.4M45.5 965.8h-2.4M45.5 957.8h-2.4M45.5 940.8h-2.4M45.5 932.9h-2.4M45.5 914.9h-2.4M45.5 906.9h-2.4M45.5 890.0h-2.4M45.5 882.0h-2.4" stroke="#000" stroke-width="1.6" stroke-opacity="0.85"/>
<path d="M200.7 1003.2v2.6M207.8 1003.2v2.6M225.8 1003.2v2.6M233.9 1003.2v2.6M250.9 1003.2v2.6M258.9 1003.2v2.6M277.0 1003.2v2.6M285.0 1003.2v2.6M302.1 1003.2v2.6M310.1 1003.2v2.6M193.2 991.7h-2.4M193.2 983.7h-2.4M193.2 965.8h-2.4M193.2 957.8h-2.4M193.2 940.8h-2.4M193.2 932.9h-2.4M193.2 914.9h-2.4M193.2 906.9h-2.4M193.2 890.0h-2.4M193.2 882.0h-2.4" stroke="#000" stroke-width="1.6" stroke-opacity="0.85"/>
<rect x="101.60" y="887.30" width="59.80" height="42.70" fill="none" stroke="#000" stroke-width="3.2"/>
<rect x="249.40" y="884.60" width="60.00" height="42.80" fill="none" stroke="#000" stroke-width="3.2"/>
<text x="73.9" y="913.2" font-size="17" stroke="#000" stroke-width="0.85">3.1</text>
<text x="211.3" y="912" font-size="17" textLength="33.5" lengthAdjust="spacingAndGlyphs" stroke="#000" stroke-width="0.85">53.4</text>
<line x1="25.6" y1="873.5" x2="25.6" y2="898" stroke="#000" stroke-width="2.6"/>
<path d="M25.6 863.5L31.0 878.5L25.6 875.5L20.200000000000003 878.5Z" fill="#000"/>
<text x="30.5" y="993.9" font-size="17.4" textLength="80.4" lengthAdjust="spacingAndGlyphs" transform="rotate(-90 30.5 993.9)" stroke="#000" stroke-width="0.6">Annexin-V</text>
<line x1="25.9" y1="1010.2" x2="25.9" y2="1031" stroke="#000" stroke-width="2.8"/>
<line x1="24.5" y1="1029.6" x2="134.7" y2="1029.6" stroke="#000" stroke-width="2.8"/>
<text x="154.3" y="1037.5" font-size="17" textLength="60.3" lengthAdjust="spacingAndGlyphs" stroke="#000" stroke-width="0.6">DDAose</text>
<line x1="235.8" y1="1029.4" x2="319.6" y2="1029.4" stroke="#000" stroke-width="2.6"/>
<path d="M329.6 1029.4L314.6 1024.6000000000001L317.6 1029.4L314.6 1034.2Z" fill="#000"/>
<line x1="427" y1="32.5" x2="427" y2="171.2" stroke="#000" stroke-width="1.8"/>
<line x1="421" y1="170.2" x2="520" y2="170.2" stroke="#000" stroke-width="1.8"/>
<line x1="421" y1="33.5" x2="427" y2="33.5" stroke="#000" stroke-width="2"/>
<text x="419.7" y="37.6" font-size="13.4" font-weight="bold" text-anchor="end" stroke="#000" stroke-width="0.35">100</text>
<line x1="421" y1="67.7" x2="427" y2="67.7" stroke="#000" stroke-width="2"/>
<text x="419.7" y="71.8" font-size="13.4" font-weight="bold" text-anchor="end" stroke="#000" stroke-width="0.35">75</text>
<line x1="421" y1="101.9" x2="427" y2="101.9" stroke="#000" stroke-width="2"/>
<text x="419.7" y="106.0" font-size="13.4" font-weight="bold" text-anchor="end" stroke="#000" stroke-width="0.35">50</text>
<line x1="421" y1="136" x2="427" y2="136" stroke="#000" stroke-width="2"/>
<text x="419.7" y="140.1" font-size="13.4" font-weight="bold" text-anchor="end" stroke="#000" stroke-width="0.35">25</text>
<line x1="421" y1="170.2" x2="427" y2="170.2" stroke="#000" stroke-width="2"/>
<text x="419.7" y="174.29999999999998" font-size="13.4" font-weight="bold" text-anchor="end" stroke="#000" stroke-width="0.35">0</text>
<line x1="450.5" y1="170.2" x2="450.5" y2="177.2" stroke="#000" stroke-width="2"/>
<line x1="496" y1="170.2" x2="496" y2="177.2" stroke="#000" stroke-width="2"/>
<text x="450.5" y="193.7" font-size="19.5" text-anchor="middle" stroke="#000" stroke-width="0.65">T</text>
<text x="496" y="193.7" font-size="19.5" text-anchor="middle" stroke="#000" stroke-width="0.65">B</text>
<circle cx="450.3" cy="51.2" r="3.85" fill="#000"/>
<circle cx="450.3" cy="66.8" r="3.85" fill="#000"/>
<circle cx="450.3" cy="84.8" r="3.85" fill="#000"/>
<circle cx="450.3" cy="103.8" r="3.85" fill="#000"/>
<circle cx="450.3" cy="116.8" r="3.85" fill="#000"/>
<circle cx="485.1" cy="160.6" r="3.85" fill="#000"/>
<circle cx="496.4" cy="167" r="3.85" fill="#000"/>
<circle cx="502.5" cy="157" r="3.85" fill="#000"/>
<circle cx="508" cy="163" r="3.85" fill="#000"/>
<line x1="434.1" y1="84.8" x2="466.5" y2="84.8" stroke="#000" stroke-width="2.5"/>
<line x1="480.1" y1="162" x2="512" y2="162" stroke="#000" stroke-width="2.5"/>
<path d="M444.10 26.75L444.10 35.65M440.25 28.98L447.95 33.42M447.95 28.98L440.25 33.42" stroke="#000" stroke-width="2.25" stroke-linecap="round"/>
<path d="M457.40 26.75L457.40 35.65M453.55 28.98L461.25 33.42M461.25 28.98L453.55 33.42" stroke="#000" stroke-width="2.25" stroke-linecap="round"/>
<text x="382.2" y="101.5" font-size="16.3" text-anchor="middle" textLength="146.5" lengthAdjust="spacingAndGlyphs" transform="rotate(-90 382.2 101.5)" stroke="#000" stroke-width="0.5">% CD27+ CD45RA+</text>
<line x1="427" y1="220" x2="427" y2="359.3" stroke="#000" stroke-width="1.8"/>
<line x1="421" y1="358.3" x2="520" y2="358.3" stroke="#000" stroke-width="1.8"/>
<line x1="421" y1="221" x2="427" y2="221" stroke="#000" stroke-width="2"/>
<text x="419.7" y="226" font-size="13.4" font-weight="bold" text-anchor="end" stroke="#000" stroke-width="0.35">100</text>
<line x1="421" y1="255.6" x2="427" y2="255.6" stroke="#000" stroke-width="2"/>
<text x="419.7" y="260.6" font-size="13.4" font-weight="bold" text-anchor="end" stroke="#000" stroke-width="0.35">75</text>
<line x1="421" y1="290" x2="427" y2="290" stroke="#000" stroke-width="2"/>
<text x="419.7" y="295" font-size="13.4" font-weight="bold" text-anchor="end" stroke="#000" stroke-width="0.35">50</text>
<line x1="421" y1="324.3" x2="427" y2="324.3" stroke="#000" stroke-width="2"/>
<text x="419.7" y="329.3" font-size="13.4" font-weight="bold" text-anchor="end" stroke="#000" stroke-width="0.35">25</text>
<line x1="421" y1="358.3" x2="427" y2="358.3" stroke="#000" stroke-width="2"/>
<text x="419.7" y="363.3" font-size="13.4" font-weight="bold" text-anchor="end" stroke="#000" stroke-width="0.35">0</text>
<line x1="450.5" y1="358.3" x2="450.5" y2="365.3" stroke="#000" stroke-width="2"/>
<line x1="496" y1="358.3" x2="496" y2="365.3" stroke="#000" stroke-width="2"/>
<text x="450.5" y="383.0" font-size="19.5" text-anchor="middle" stroke="#000" stroke-width="0.65">T</text>
<text x="496" y="383.0" font-size="19.5" text-anchor="middle" stroke="#000" stroke-width="0.65">B</text>
<circle cx="439.2" cy="235.4" r="3.85" fill="#000"/>
<circle cx="450.2" cy="244.7" r="3.85" fill="#000"/>
<circle cx="439.2" cy="257.5" r="3.85" fill="#000"/>
<circle cx="461.1" cy="259.6" r="3.85" fill="#000"/>
<circle cx="450.2" cy="263" r="3.85" fill="#000"/>
<circle cx="439.2" cy="273.6" r="3.85" fill="#000"/>
<circle cx="439.2" cy="278.4" r="3.85" fill="#000"/>
<circle cx="455.8" cy="272.6" r="3.85" fill="#000"/>
<circle cx="461.5" cy="274.5" r="3.85" fill="#000"/>
<circle cx="450.2" cy="280.8" r="3.85" fill="#000"/>
<circle cx="461.1" cy="288.7" r="3.85" fill="#000"/>
<circle cx="450.2" cy="293.8" r="3.85" fill="#000"/>
<circle cx="485.2" cy="356.8" r="3.85" fill="#000"/>
<circle cx="496" cy="358.1" r="3.85" fill="#000"/>
<circle cx="507" cy="357.8" r="3.85" fill="#000"/>
<line x1="434.1" y1="268.3" x2="466.5" y2="268.3" stroke="#000" stroke-width="2.5"/>
<path d="M442.30 213.65L442.30 222.55M438.45 215.88L446.15 220.32M446.15 215.88L438.45 220.32" stroke="#000" stroke-width="2.25" stroke-linecap="round"/>
<path d="M456.20 213.65L456.20 222.55M452.35 215.88L460.05 220.32M460.05 215.88L452.35 220.32" stroke="#000" stroke-width="2.25" stroke-linecap="round"/>
<text x="391" y="290.6" font-size="16.3" text-anchor="middle" textLength="68.4" lengthAdjust="spacingAndGlyphs" transform="rotate(-90 391 290.6)" stroke="#000" stroke-width="0.5">% CD1a+</text>
<line x1="427" y1="432.6" x2="427" y2="572.3" stroke="#000" stroke-width="1.8"/>
<line x1="421" y1="571.3" x2="520" y2="571.3" stroke="#000" stroke-width="1.8"/>
<line x1="421" y1="433.6" x2="427" y2="433.6" stroke="#000" stroke-width="2"/>
<text x="419.7" y="438.6" font-size="13.4" font-weight="bold" text-anchor="end" stroke="#000" stroke-width="0.35">75</text>
<line x1="421" y1="479.6" x2="427" y2="479.6" stroke="#000" stroke-width="2"/>
<text x="419.7" y="484.6" font-size="13.4" font-weight="bold" text-anchor="end" stroke="#000" stroke-width="0.35">50</text>
<line x1="421" y1="525.6" x2="427" y2="525.6" stroke="#000" stroke-width="2"/>
<text x="419.7" y="530.6" font-size="13.4" font-weight="bold" text-anchor="end" stroke="#000" stroke-width="0.35">25</text>
<line x1="421" y1="571.3" x2="427" y2="571.3" stroke="#000" stroke-width="2"/>
<text x="419.7" y="576.3" font-size="13.4" font-weight="bold" text-anchor="end" stroke="#000" stroke-width="0.35">0</text>
<line x1="450.5" y1="571.3" x2="450.5" y2="578.3" stroke="#000" stroke-width="2"/>
<line x1="496" y1="571.3" x2="496" y2="578.3" stroke="#000" stroke-width="2"/>
<text x="450.5" y="595.5999999999999" font-size="19.5" text-anchor="middle" stroke="#000" stroke-width="0.65">T</text>
<text x="496" y="595.5999999999999" font-size="19.5" text-anchor="middle" stroke="#000" stroke-width="0.65">B</text>
<circle cx="438.5" cy="570.6" r="3.85" fill="#000"/>
<circle cx="443" cy="570" r="3.85" fill="#000"/>
<circle cx="446.5" cy="569" r="3.85" fill="#000"/>
<circle cx="450" cy="567" r="3.85" fill="#000"/>
<circle cx="453.5" cy="569" r="3.85" fill="#000"/>
<circle cx="457" cy="570" r="3.85" fill="#000"/>
<circle cx="461.5" cy="570.6" r="3.85" fill="#000"/>
<circle cx="496.2" cy="437.9" r="3.85" fill="#000"/>
<circle cx="496.2" cy="462.4" r="3.85" fill="#000"/>
<circle cx="507.5" cy="457.9" r="3.85" fill="#000"/>
<line x1="434.1" y1="570.5" x2="466.5" y2="570.5" stroke="#000" stroke-width="2.5"/>
<line x1="480.1" y1="452.8" x2="512" y2="452.8" stroke="#000" stroke-width="2.5"/>
<path d="M489.70 419.45L489.70 428.35M485.85 421.67L493.55 426.12M493.55 421.67L485.85 426.12" stroke="#000" stroke-width="2.25" stroke-linecap="round"/>
<path d="M503.20 419.45L503.20 428.35M499.35 421.67L507.05 426.12M507.05 421.67L499.35 426.12" stroke="#000" stroke-width="2.25" stroke-linecap="round"/>
<text x="383.2" y="506.7" font-size="16.3" text-anchor="middle" textLength="130" lengthAdjust="spacingAndGlyphs" transform="rotate(-90 383.2 506.7)" stroke="#000" stroke-width="0.5">% IFN-γ+ TNF-α+</text>
<line x1="427" y1="654" x2="427" y2="793.6" stroke="#000" stroke-width="1.8"/>
<line x1="421" y1="792.6" x2="520" y2="792.6" stroke="#000" stroke-width="1.8"/>
<line x1="421" y1="655" x2="427" y2="655" stroke="#000" stroke-width="2"/>
<text x="419.7" y="660" font-size="13.4" font-weight="bold" text-anchor="end" stroke="#000" stroke-width="0.35">40</text>
<line x1="421" y1="689.4" x2="427" y2="689.4" stroke="#000" stroke-width="2"/>
<text x="419.7" y="694.4" font-size="13.4" font-weight="bold" text-anchor="end" stroke="#000" stroke-width="0.35">30</text>
<line x1="421" y1="723.7" x2="427" y2="723.7" stroke="#000" stroke-width="2"/>
<text x="419.7" y="728.7" font-size="13.4" font-weight="bold" text-anchor="end" stroke="#000" stroke-width="0.35">20</text>
<line x1="421" y1="758" x2="427" y2="758" stroke="#000" stroke-width="2"/>
<text x="419.7" y="763" font-size="13.4" font-weight="bold" text-anchor="end" stroke="#000" stroke-width="0.35">10</text>
<line x1="421" y1="792.6" x2="427" y2="792.6" stroke="#000" stroke-width="2"/>
<text x="419.7" y="797.6" font-size="13.4" font-weight="bold" text-anchor="end" stroke="#000" stroke-width="0.35">0</text>
<line x1="450.5" y1="792.6" x2="450.5" y2="799.6" stroke="#000" stroke-width="2"/>
<line x1="496" y1="792.6" x2="496" y2="799.6" stroke="#000" stroke-width="2"/>
<text x="450.5" y="816.2" font-size="19.5" text-anchor="middle" stroke="#000" stroke-width="0.65">T</text>
<text x="496" y="816.2" font-size="19.5" text-anchor="middle" stroke="#000" stroke-width="0.65">B</text>
<circle cx="438.8" cy="787.3" r="3.85" fill="#000"/>
<circle cx="450.2" cy="791.1" r="3.85" fill="#000"/>
<circle cx="461.3" cy="790.2" r="3.85" fill="#000"/>
<circle cx="496" cy="676.5" r="3.85" fill="#000"/>
<circle cx="496" cy="692.6" r="3.85" fill="#000"/>
<circle cx="496" cy="719.8" r="3.85" fill="#000"/>
<line x1="434.1" y1="789.6" x2="466.5" y2="789.6" stroke="#000" stroke-width="2.5"/>
<line x1="480.1" y1="696.4" x2="512" y2="696.4" stroke="#000" stroke-width="2.5"/>
<path d="M488.75 654.05L488.75 662.95M484.90 656.27L492.60 660.73M492.60 656.27L484.90 660.73" stroke="#000" stroke-width="2.25" stroke-linecap="round"/>
<path d="M502.20 654.05L502.20 662.95M498.35 656.27L506.05 660.73M506.05 656.27L498.35 660.73" stroke="#000" stroke-width="2.25" stroke-linecap="round"/>
<text x="390" y="727.8" font-size="16.3" text-anchor="middle" textLength="89" lengthAdjust="spacingAndGlyphs" transform="rotate(-90 390 727.8)" stroke="#000" stroke-width="0.5">% CD107a+</text>
<line x1="427" y1="867" x2="427" y2="1006.4" stroke="#000" stroke-width="1.8"/>
<line x1="421" y1="1005.4" x2="520" y2="1005.4" stroke="#000" stroke-width="1.8"/>
<line x1="421" y1="868" x2="427" y2="868" stroke="#000" stroke-width="2"/>
<text x="419.7" y="873" font-size="13.4" font-weight="bold" text-anchor="end" stroke="#000" stroke-width="0.35">75</text>
<line x1="421" y1="913.8" x2="427" y2="913.8" stroke="#000" stroke-width="2"/>
<text x="419.7" y="918.8" font-size="13.4" font-weight="bold" text-anchor="end" stroke="#000" stroke-width="0.35">50</text>
<line x1="421" y1="959.6" x2="427" y2="959.6" stroke="#000" stroke-width="2"/>
<text x="419.7" y="964.6" font-size="13.4" font-weight="bold" text-anchor="end" stroke="#000" stroke-width="0.35">25</text>
<line x1="421" y1="1005.4" x2="427" y2="1005.4" stroke="#000" stroke-width="2"/>
<text x="419.7" y="1010.4" font-size="13.4" font-weight="bold" text-anchor="end" stroke="#000" stroke-width="0.35">0</text>
<line x1="450.5" y1="1005.4" x2="450.5" y2="1012.4" stroke="#000" stroke-width="2"/>
<line x1="496" y1="1005.4" x2="496" y2="1012.4" stroke="#000" stroke-width="2"/>
<text x="450.5" y="1031.9" font-size="19.5" text-anchor="middle" stroke="#000" stroke-width="0.65">T</text>
<text x="496" y="1031.9" font-size="19.5" text-anchor="middle" stroke="#000" stroke-width="0.65">B</text>
<circle cx="439.6" cy="994.8" r="3.85" fill="#000"/>
<circle cx="450.6" cy="1002" r="3.85" fill="#000"/>
<circle cx="462.1" cy="999.6" r="3.85" fill="#000"/>
<circle cx="496.7" cy="875.8" r="3.85" fill="#000"/>
<circle cx="496.7" cy="916" r="3.85" fill="#000"/>
<circle cx="507.7" cy="907.8" r="3.85" fill="#000"/>
<line x1="434.1" y1="999" x2="466.5" y2="999" stroke="#000" stroke-width="2.5"/>
<line x1="480.1" y1="899.6" x2="512" y2="899.6" stroke="#000" stroke-width="2.5"/>
<path d="M489.50 852.35L489.50 861.25M485.65 854.57L493.35 859.02M493.35 854.57L485.65 859.02" stroke="#000" stroke-width="2.25" stroke-linecap="round"/>
<path d="M503.20 852.35L503.20 861.25M499.35 854.57L507.05 859.02M507.05 854.57L499.35 859.02" stroke="#000" stroke-width="2.25" stroke-linecap="round"/>
<text x="389.3" y="941.2" font-size="16.3" text-anchor="middle" textLength="104.6" lengthAdjust="spacingAndGlyphs" transform="rotate(-90 389.3 941.2)" stroke="#000" stroke-width="0.5">% Annexin-V+</text>
</svg></body></html>
